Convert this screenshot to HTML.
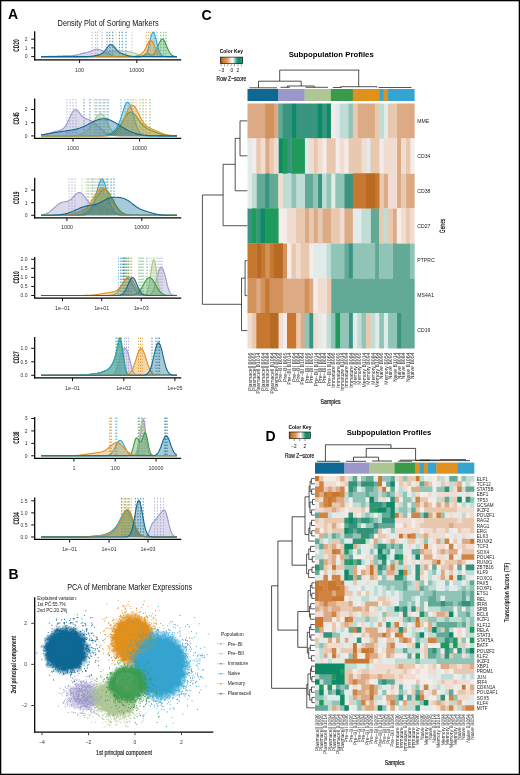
<!DOCTYPE html>
<html><head><meta charset="utf-8"><title>Figure</title>
<style>html,body{margin:0;padding:0;background:#fff;}svg{display:block;will-change:transform;}</style></head>
<body><svg width="520" height="775" viewBox="0 0 520 775" font-family="Liberation Sans, sans-serif">
<rect x="0" y="0" width="520" height="775" fill="#fff"/>
<text x="8.1" y="19.3" font-size="14" text-anchor="start" fill="#000" font-weight="bold" >A</text>
<text x="57.6" y="26.1" font-size="8.6" text-anchor="start" fill="#111" textLength="101" lengthAdjust="spacingAndGlyphs" >Density Plot of Sorting Markers</text>
<line x1="95.4" y1="31.8" x2="95.4" y2="56.6" stroke="#9b97c9" stroke-width="0.8" stroke-dasharray="1.4 1.6" opacity="0.95"/>
<line x1="97.3" y1="31.8" x2="97.3" y2="56.6" stroke="#9b97c9" stroke-width="0.8" stroke-dasharray="1.4 1.6" opacity="0.95"/>
<line x1="102" y1="31.8" x2="102" y2="56.6" stroke="#9b97c9" stroke-width="0.8" stroke-dasharray="1.4 1.6" opacity="0.95"/>
<line x1="92" y1="31.8" x2="92" y2="56.6" stroke="#9b97c9" stroke-width="0.8" stroke-dasharray="1.4 1.6" opacity="0.95"/>
<line x1="107" y1="31.8" x2="107" y2="56.6" stroke="#0f6894" stroke-width="0.8" stroke-dasharray="1.4 1.6" opacity="0.95"/>
<line x1="109.8" y1="31.8" x2="109.8" y2="56.6" stroke="#0f6894" stroke-width="0.8" stroke-dasharray="1.4 1.6" opacity="0.95"/>
<line x1="112.7" y1="31.8" x2="112.7" y2="56.6" stroke="#0f6894" stroke-width="0.8" stroke-dasharray="1.4 1.6" opacity="0.95"/>
<line x1="119.4" y1="31.8" x2="119.4" y2="56.6" stroke="#0f6894" stroke-width="0.8" stroke-dasharray="1.4 1.6" opacity="0.95"/>
<line x1="122.3" y1="31.8" x2="122.3" y2="56.6" stroke="#0f6894" stroke-width="0.8" stroke-dasharray="1.4 1.6" opacity="0.95"/>
<line x1="126" y1="31.8" x2="126" y2="56.6" stroke="#0f6894" stroke-width="0.8" stroke-dasharray="1.4 1.6" opacity="0.95"/>
<line x1="113" y1="31.8" x2="113" y2="56.6" stroke="#aec594" stroke-width="0.8" stroke-dasharray="1.4 1.6" opacity="0.95"/>
<line x1="116" y1="31.8" x2="116" y2="56.6" stroke="#aec594" stroke-width="0.8" stroke-dasharray="1.4 1.6" opacity="0.95"/>
<line x1="132" y1="31.8" x2="132" y2="56.6" stroke="#aec594" stroke-width="0.8" stroke-dasharray="1.4 1.6" opacity="0.95"/>
<line x1="146.3" y1="31.8" x2="146.3" y2="56.6" stroke="#e0901c" stroke-width="0.8" stroke-dasharray="1.4 1.6" opacity="0.95"/>
<line x1="148.3" y1="31.8" x2="148.3" y2="56.6" stroke="#e0901c" stroke-width="0.8" stroke-dasharray="1.4 1.6" opacity="0.95"/>
<line x1="150.2" y1="31.8" x2="150.2" y2="56.6" stroke="#e0901c" stroke-width="0.8" stroke-dasharray="1.4 1.6" opacity="0.95"/>
<line x1="154" y1="31.8" x2="154" y2="56.6" stroke="#35a4d0" stroke-width="0.8" stroke-dasharray="1.4 1.6" opacity="0.95"/>
<line x1="157" y1="31.8" x2="157" y2="56.6" stroke="#35a4d0" stroke-width="0.8" stroke-dasharray="1.4 1.6" opacity="0.95"/>
<line x1="160.8" y1="31.8" x2="160.8" y2="56.6" stroke="#3a9a4b" stroke-width="0.8" stroke-dasharray="1.4 1.6" opacity="0.95"/>
<line x1="163.7" y1="31.8" x2="163.7" y2="56.6" stroke="#3a9a4b" stroke-width="0.8" stroke-dasharray="1.4 1.6" opacity="0.95"/>
<line x1="166" y1="31.8" x2="166" y2="56.6" stroke="#3a9a4b" stroke-width="0.8" stroke-dasharray="1.4 1.6" opacity="0.95"/>
<path d="M41.0 56.6 42.0 56.5 43.0 56.5 44.0 56.5 45.0 56.5 46.0 56.5 47.0 56.5 48.0 56.5 49.0 56.4 50.0 56.4 51.0 56.4 52.0 56.3 53.0 56.3 54.0 56.3 55.0 56.2 56.0 56.2 57.0 56.2 58.0 56.1 59.0 56.1 60.0 56.0 61.0 56.0 62.0 56.0 63.0 55.9 64.0 55.9 65.0 55.9 66.0 55.8 67.0 55.8 68.0 55.8 69.0 55.7 70.0 55.7 71.0 55.7 72.0 55.6 73.0 55.5 74.0 55.4 75.0 55.3 76.0 55.1 77.0 54.9 78.0 54.7 79.0 54.5 80.0 54.2 81.0 53.9 82.0 53.6 83.0 53.4 84.0 53.1 85.0 52.9 86.0 52.7 87.0 52.5 88.0 52.2 89.0 51.9 90.0 51.6 91.0 51.1 92.0 50.7 93.0 50.2 94.0 49.8 95.0 49.5 96.0 49.3 97.0 49.2 98.0 49.4 99.0 49.6 100.0 50.0 101.0 50.3 102.0 50.7 103.0 51.1 104.0 51.5 105.0 51.9 106.0 52.3 107.0 52.8 108.0 53.4 109.0 54.0 110.0 54.6 111.0 55.1 112.0 55.6 113.0 55.9 114.0 56.2 115.0 56.4 116.0 56.5 117.0 56.5 118.0 56.6 177.0 56.6" fill="#9b97c9" fill-opacity="0.36" stroke="#9b97c9" stroke-width="1.1"/>
<path d="M41.0 56.6 82.0 56.6 83.0 56.5 84.0 56.5 85.0 56.5 86.0 56.5 87.0 56.4 88.0 56.4 89.0 56.3 90.0 56.2 91.0 56.2 92.0 56.0 93.0 55.9 94.0 55.8 95.0 55.6 96.0 55.4 97.0 55.2 98.0 55.0 99.0 54.7 100.0 54.4 101.0 54.2 102.0 53.9 103.0 53.6 104.0 53.2 105.0 52.9 106.0 52.6 107.0 52.4 108.0 52.1 109.0 51.9 110.0 51.7 111.0 51.5 112.0 51.3 113.0 51.2 114.0 51.2 115.0 51.1 116.0 51.1 117.0 51.0 118.0 51.1 119.0 51.1 120.0 51.1 121.0 51.1 122.0 51.1 123.0 51.2 124.0 51.2 125.0 51.3 126.0 51.4 127.0 51.5 128.0 51.6 129.0 51.7 130.0 51.9 131.0 52.1 132.0 52.4 133.0 52.7 134.0 53.0 135.0 53.3 136.0 53.6 137.0 53.9 138.0 54.3 139.0 54.6 140.0 54.9 141.0 55.1 142.0 55.4 143.0 55.6 144.0 55.8 145.0 56.0 146.0 56.1 147.0 56.2 148.0 56.3 149.0 56.4 150.0 56.4 151.0 56.5 152.0 56.5 153.0 56.5 154.0 56.6 177.0 56.6" fill="#aec594" fill-opacity="0.36" stroke="#aec594" stroke-width="1.1"/>
<path d="M41.0 56.6 139.0 56.6 140.0 56.5 141.0 56.4 142.0 56.2 143.0 55.8 144.0 55.1 145.0 54.4 146.0 53.8 147.0 53.6 148.0 53.8 149.0 54.3 150.0 54.8 151.0 55.2 152.0 55.2 153.0 54.7 154.0 53.8 155.0 52.4 156.0 50.6 157.0 48.4 158.0 46.0 159.0 43.6 160.0 41.4 161.0 39.9 162.0 39.1 163.0 39.3 164.0 40.4 165.0 42.2 166.0 44.5 167.0 47.0 168.0 49.3 169.0 51.4 170.0 53.1 171.0 54.3 172.0 55.2 173.0 55.8 174.0 56.2 175.0 56.4 176.0 56.5 177.0 56.5" fill="#3a9a4b" fill-opacity="0.36" stroke="#3a9a4b" stroke-width="1.1"/>
<path d="M41.0 56.6 141.0 56.6 142.0 56.5 143.0 56.4 144.0 56.1 145.0 55.5 146.0 54.4 147.0 52.5 148.0 49.5 149.0 45.6 150.0 41.1 151.0 36.7 152.0 33.5 153.0 32.1 154.0 32.9 155.0 35.6 156.0 39.5 157.0 43.7 158.0 47.5 159.0 50.6 160.0 52.8 161.0 54.3 162.0 55.3 163.0 55.9 164.0 56.3 165.0 56.4 166.0 56.5 167.0 56.6 177.0 56.6" fill="#35a4d0" fill-opacity="0.36" stroke="#35a4d0" stroke-width="1.1"/>
<path d="M41.0 56.6 131.0 56.6 132.0 56.5 133.0 56.5 134.0 56.4 135.0 56.3 136.0 56.1 137.0 55.8 138.0 55.5 139.0 55.2 140.0 54.7 141.0 54.1 142.0 53.3 143.0 52.3 144.0 51.0 145.0 49.3 146.0 47.4 147.0 45.3 148.0 43.3 149.0 41.7 150.0 40.7 151.0 40.5 152.0 41.2 153.0 42.6 154.0 44.6 155.0 46.9 156.0 49.2 157.0 51.2 158.0 52.9 159.0 54.2 160.0 55.1 161.0 55.8 162.0 56.1 163.0 56.4 164.0 56.5 165.0 56.5 166.0 56.6 177.0 56.6" fill="#e0901c" fill-opacity="0.36" stroke="#e0901c" stroke-width="1.1"/>
<path d="M41.0 56.6 87.0 56.6 88.0 56.5 89.0 56.5 90.0 56.5 91.0 56.4 92.0 56.3 93.0 56.2 94.0 56.0 95.0 55.8 96.0 55.6 97.0 55.4 98.0 55.1 99.0 54.8 100.0 54.5 101.0 54.0 102.0 53.4 103.0 52.7 104.0 51.7 105.0 50.5 106.0 49.2 107.0 47.8 108.0 46.5 109.0 45.4 110.0 44.8 111.0 44.6 112.0 44.9 113.0 45.6 114.0 46.7 115.0 47.9 116.0 49.2 117.0 50.3 118.0 51.3 119.0 52.1 120.0 52.7 121.0 53.2 122.0 53.6 123.0 54.0 124.0 54.4 125.0 54.7 126.0 55.0 127.0 55.4 128.0 55.7 129.0 55.9 130.0 56.1 131.0 56.3 132.0 56.4 133.0 56.5 134.0 56.5 135.0 56.6 177.0 56.6" fill="#0f6894" fill-opacity="0.36" stroke="#0f6894" stroke-width="1.1"/>
<line x1="34.7" y1="31.2" x2="34.7" y2="60.5" stroke="#000" stroke-width="1.25" />
<line x1="34.1" y1="59.9" x2="181.2" y2="59.9" stroke="#000" stroke-width="1.25" />
<line x1="31.2" y1="56.6" x2="34.7" y2="56.6" stroke="#111" stroke-width="1" />
<text x="27.5" y="58.4" font-size="5" text-anchor="end" fill="#333" >0</text>
<line x1="31.2" y1="47.9" x2="34.7" y2="47.9" stroke="#111" stroke-width="1" />
<text x="27.5" y="49.7" font-size="5" text-anchor="end" fill="#333" >1</text>
<line x1="31.2" y1="39.2" x2="34.7" y2="39.2" stroke="#111" stroke-width="1" />
<text x="27.5" y="41" font-size="5" text-anchor="end" fill="#333" >2</text>
<line x1="79.6" y1="59.9" x2="79.6" y2="63.1" stroke="#111" stroke-width="1" />
<text x="79.6" y="71.5" font-size="5.4" text-anchor="middle" fill="#333" >100</text>
<line x1="136.8" y1="59.9" x2="136.8" y2="63.1" stroke="#111" stroke-width="1" />
<text x="136.8" y="71.5" font-size="5.4" text-anchor="middle" fill="#333" >10000</text>
<text transform="translate(19.1 45.55) rotate(-90)" text-rendering="geometricPrecision" font-size="8.2" text-anchor="middle" fill="#111" font-weight="bold" textLength="12.2" lengthAdjust="spacingAndGlyphs">CD20</text>
<line x1="67" y1="99.1" x2="67" y2="135.9" stroke="#9b97c9" stroke-width="0.8" stroke-dasharray="1.4 1.6" opacity="0.95"/>
<line x1="70" y1="99.1" x2="70" y2="135.9" stroke="#9b97c9" stroke-width="0.8" stroke-dasharray="1.4 1.6" opacity="0.95"/>
<line x1="73" y1="99.1" x2="73" y2="135.9" stroke="#9b97c9" stroke-width="0.8" stroke-dasharray="1.4 1.6" opacity="0.95"/>
<line x1="76" y1="99.1" x2="76" y2="135.9" stroke="#9b97c9" stroke-width="0.8" stroke-dasharray="1.4 1.6" opacity="0.95"/>
<line x1="84" y1="99.1" x2="84" y2="135.9" stroke="#0f6894" stroke-width="0.8" stroke-dasharray="1.4 1.6" opacity="0.95"/>
<line x1="90" y1="99.1" x2="90" y2="135.9" stroke="#0f6894" stroke-width="0.8" stroke-dasharray="1.4 1.6" opacity="0.95"/>
<line x1="96" y1="99.1" x2="96" y2="135.9" stroke="#0f6894" stroke-width="0.8" stroke-dasharray="1.4 1.6" opacity="0.95"/>
<line x1="100" y1="99.1" x2="100" y2="135.9" stroke="#0f6894" stroke-width="0.8" stroke-dasharray="1.4 1.6" opacity="0.95"/>
<line x1="104" y1="99.1" x2="104" y2="135.9" stroke="#0f6894" stroke-width="0.8" stroke-dasharray="1.4 1.6" opacity="0.95"/>
<line x1="108" y1="99.1" x2="108" y2="135.9" stroke="#0f6894" stroke-width="0.8" stroke-dasharray="1.4 1.6" opacity="0.95"/>
<line x1="94" y1="99.1" x2="94" y2="135.9" stroke="#aec594" stroke-width="0.8" stroke-dasharray="1.4 1.6" opacity="0.95"/>
<line x1="98" y1="99.1" x2="98" y2="135.9" stroke="#aec594" stroke-width="0.8" stroke-dasharray="1.4 1.6" opacity="0.95"/>
<line x1="102" y1="99.1" x2="102" y2="135.9" stroke="#aec594" stroke-width="0.8" stroke-dasharray="1.4 1.6" opacity="0.95"/>
<line x1="106" y1="99.1" x2="106" y2="135.9" stroke="#aec594" stroke-width="0.8" stroke-dasharray="1.4 1.6" opacity="0.95"/>
<line x1="121" y1="99.1" x2="121" y2="135.9" stroke="#35a4d0" stroke-width="0.8" stroke-dasharray="1.4 1.6" opacity="0.95"/>
<line x1="125" y1="99.1" x2="125" y2="135.9" stroke="#35a4d0" stroke-width="0.8" stroke-dasharray="1.4 1.6" opacity="0.95"/>
<line x1="128" y1="99.1" x2="128" y2="135.9" stroke="#35a4d0" stroke-width="0.8" stroke-dasharray="1.4 1.6" opacity="0.95"/>
<line x1="131" y1="99.1" x2="131" y2="135.9" stroke="#e0901c" stroke-width="0.8" stroke-dasharray="1.4 1.6" opacity="0.95"/>
<line x1="136" y1="99.1" x2="136" y2="135.9" stroke="#e0901c" stroke-width="0.8" stroke-dasharray="1.4 1.6" opacity="0.95"/>
<line x1="140" y1="99.1" x2="140" y2="135.9" stroke="#e0901c" stroke-width="0.8" stroke-dasharray="1.4 1.6" opacity="0.95"/>
<line x1="146" y1="99.1" x2="146" y2="135.9" stroke="#e0901c" stroke-width="0.8" stroke-dasharray="1.4 1.6" opacity="0.95"/>
<line x1="133" y1="99.1" x2="133" y2="135.9" stroke="#3a9a4b" stroke-width="0.8" stroke-dasharray="1.4 1.6" opacity="0.95"/>
<line x1="143" y1="99.1" x2="143" y2="135.9" stroke="#3a9a4b" stroke-width="0.8" stroke-dasharray="1.4 1.6" opacity="0.95"/>
<line x1="150" y1="99.1" x2="150" y2="135.9" stroke="#3a9a4b" stroke-width="0.8" stroke-dasharray="1.4 1.6" opacity="0.95"/>
<path d="M41.0 135.4 42.0 135.2 43.0 135.1 44.0 134.9 45.0 134.7 46.0 134.4 47.0 134.1 48.0 133.8 49.0 133.5 50.0 133.2 51.0 132.9 52.0 132.5 53.0 132.2 54.0 131.9 55.0 131.6 56.0 131.3 57.0 131.0 58.0 130.8 59.0 130.5 60.0 130.2 61.0 129.8 62.0 129.4 63.0 128.7 64.0 127.8 65.0 126.6 66.0 125.2 67.0 123.4 68.0 121.4 69.0 119.2 70.0 117.0 71.0 114.8 72.0 112.9 73.0 111.3 74.0 110.3 75.0 109.7 76.0 109.8 77.0 110.3 78.0 111.2 79.0 112.4 80.0 113.6 81.0 114.9 82.0 116.0 83.0 117.0 84.0 117.7 85.0 118.3 86.0 118.7 87.0 119.1 88.0 119.4 89.0 119.8 90.0 120.2 91.0 120.7 92.0 121.3 93.0 122.0 94.0 122.7 95.0 123.5 96.0 124.4 97.0 125.3 98.0 126.2 99.0 127.1 100.0 128.0 101.0 128.9 102.0 129.8 103.0 130.7 104.0 131.5 105.0 132.2 106.0 132.9 107.0 133.5 108.0 134.0 109.0 134.4 110.0 134.8 111.0 135.1 112.0 135.3 113.0 135.5 114.0 135.6 115.0 135.7 116.0 135.8 117.0 135.8 118.0 135.9 177.0 135.9" fill="#9b97c9" fill-opacity="0.36" stroke="#9b97c9" stroke-width="1.1"/>
<path d="M41.0 135.9 70.0 135.9 71.0 135.8 72.0 135.8 73.0 135.8 74.0 135.7 75.0 135.6 76.0 135.5 77.0 135.3 78.0 135.1 79.0 134.8 80.0 134.5 81.0 134.2 82.0 133.7 83.0 133.3 84.0 132.7 85.0 132.1 86.0 131.4 87.0 130.6 88.0 129.7 89.0 128.7 90.0 127.5 91.0 126.2 92.0 124.7 93.0 123.1 94.0 121.4 95.0 119.6 96.0 117.9 97.0 116.4 98.0 115.1 99.0 114.2 100.0 113.7 101.0 113.6 102.0 114.1 103.0 115.0 104.0 116.3 105.0 118.0 106.0 119.9 107.0 121.9 108.0 124.0 109.0 126.0 110.0 127.8 111.0 129.5 112.0 130.9 113.0 132.1 114.0 133.1 115.0 133.9 116.0 134.5 117.0 134.9 118.0 135.2 119.0 135.5 120.0 135.6 121.0 135.7 122.0 135.8 123.0 135.8 124.0 135.9 177.0 135.9" fill="#aec594" fill-opacity="0.36" stroke="#aec594" stroke-width="1.1"/>
<path d="M41.0 135.9 102.0 135.9 103.0 135.8 104.0 135.8 105.0 135.7 106.0 135.7 107.0 135.6 108.0 135.4 109.0 135.2 110.0 135.0 111.0 134.6 112.0 134.2 113.0 133.6 114.0 132.9 115.0 132.1 116.0 131.1 117.0 130.0 118.0 128.7 119.0 127.2 120.0 125.7 121.0 124.0 122.0 122.2 123.0 120.5 124.0 118.7 125.0 117.1 126.0 115.6 127.0 114.3 128.0 113.3 129.0 112.6 130.0 112.2 131.0 112.2 132.0 112.4 133.0 113.0 134.0 113.9 135.0 114.9 136.0 116.2 137.0 117.5 138.0 118.9 139.0 120.3 140.0 121.7 141.0 123.0 142.0 124.1 143.0 125.2 144.0 126.2 145.0 127.0 146.0 127.8 147.0 128.4 148.0 129.0 149.0 129.5 150.0 129.9 151.0 130.4 152.0 130.8 153.0 131.2 154.0 131.6 155.0 132.0 156.0 132.4 157.0 132.8 158.0 133.1 159.0 133.5 160.0 133.8 161.0 134.1 162.0 134.4 163.0 134.6 164.0 134.9 165.0 135.1 166.0 135.2 167.0 135.4 168.0 135.5 169.0 135.6 170.0 135.6 171.0 135.7 172.0 135.8 173.0 135.8 174.0 135.8 175.0 135.8 176.0 135.9 177.0 135.9" fill="#3a9a4b" fill-opacity="0.36" stroke="#3a9a4b" stroke-width="1.1"/>
<path d="M41.0 135.9 99.0 135.9 100.0 135.8 101.0 135.8 102.0 135.7 103.0 135.6 104.0 135.5 105.0 135.4 106.0 135.1 107.0 134.9 108.0 134.6 109.0 134.2 110.0 133.7 111.0 133.2 112.0 132.6 113.0 131.9 114.0 131.0 115.0 130.0 116.0 128.8 117.0 127.3 118.0 125.4 119.0 123.2 120.0 120.6 121.0 117.7 122.0 114.5 123.0 111.3 124.0 108.2 125.0 105.5 126.0 103.5 127.0 102.3 128.0 102.2 129.0 103.0 130.0 104.8 131.0 107.5 132.0 110.7 133.0 114.3 134.0 118.0 135.0 121.5 136.0 124.7 137.0 127.5 138.0 129.8 139.0 131.6 140.0 133.0 141.0 134.0 142.0 134.7 143.0 135.1 144.0 135.4 145.0 135.6 146.0 135.8 147.0 135.8 148.0 135.9 177.0 135.9" fill="#35a4d0" fill-opacity="0.36" stroke="#35a4d0" stroke-width="1.1"/>
<path d="M41.0 135.9 106.0 135.9 107.0 135.8 108.0 135.8 109.0 135.7 110.0 135.6 111.0 135.5 112.0 135.3 113.0 135.0 114.0 134.6 115.0 134.1 116.0 133.4 117.0 132.5 118.0 131.4 119.0 130.1 120.0 128.4 121.0 126.5 122.0 124.3 123.0 122.0 124.0 119.4 125.0 116.8 126.0 114.2 127.0 111.8 128.0 109.5 129.0 107.7 130.0 106.3 131.0 105.4 132.0 105.0 133.0 105.2 134.0 105.9 135.0 107.1 136.0 108.7 137.0 110.5 138.0 112.6 139.0 114.6 140.0 116.7 141.0 118.6 142.0 120.4 143.0 122.0 144.0 123.4 145.0 124.6 146.0 125.5 147.0 126.4 148.0 127.0 149.0 127.6 150.0 128.1 151.0 128.6 152.0 129.0 153.0 129.5 154.0 129.9 155.0 130.3 156.0 130.8 157.0 131.2 158.0 131.6 159.0 132.1 160.0 132.5 161.0 132.9 162.0 133.3 163.0 133.6 164.0 134.0 165.0 134.2 166.0 134.5 167.0 134.7 168.0 135.0 169.0 135.1 170.0 135.3 171.0 135.4 172.0 135.5 173.0 135.6 174.0 135.7 175.0 135.7 176.0 135.8 177.0 135.8" fill="#e0901c" fill-opacity="0.36" stroke="#e0901c" stroke-width="1.1"/>
<path d="M41.0 134.8 42.0 134.7 43.0 134.5 44.0 134.4 45.0 134.2 46.0 134.1 47.0 133.9 48.0 133.8 49.0 133.6 50.0 133.4 51.0 133.2 52.0 133.1 53.0 132.9 54.0 132.7 55.0 132.5 56.0 132.4 57.0 132.2 58.0 132.0 59.0 131.9 60.0 131.7 61.0 131.6 62.0 131.4 63.0 131.3 64.0 131.2 65.0 131.0 66.0 130.9 67.0 130.8 68.0 130.6 69.0 130.5 70.0 130.3 71.0 130.2 72.0 130.0 73.0 129.8 74.0 129.6 75.0 129.4 76.0 129.2 77.0 128.9 78.0 128.6 79.0 128.3 80.0 128.0 81.0 127.6 82.0 127.2 83.0 126.8 84.0 126.3 85.0 125.9 86.0 125.4 87.0 124.9 88.0 124.4 89.0 123.8 90.0 123.3 91.0 122.8 92.0 122.3 93.0 121.8 94.0 121.3 95.0 120.8 96.0 120.4 97.0 120.0 98.0 119.7 99.0 119.4 100.0 119.2 101.0 119.0 102.0 118.8 103.0 118.8 104.0 118.8 105.0 118.8 106.0 118.9 107.0 119.1 108.0 119.4 109.0 119.7 110.0 120.0 111.0 120.4 112.0 120.9 113.0 121.4 114.0 121.9 115.0 122.5 116.0 123.1 117.0 123.7 118.0 124.3 119.0 124.9 120.0 125.6 121.0 126.2 122.0 126.9 123.0 127.5 124.0 128.1 125.0 128.7 126.0 129.3 127.0 129.8 128.0 130.4 129.0 130.9 130.0 131.4 131.0 131.8 132.0 132.2 133.0 132.6 134.0 133.0 135.0 133.3 136.0 133.6 137.0 133.9 138.0 134.1 139.0 134.3 140.0 134.5 141.0 134.7 142.0 134.9 143.0 135.0 144.0 135.2 145.0 135.3 146.0 135.4 147.0 135.4 148.0 135.5 149.0 135.6 150.0 135.6 151.0 135.7 152.0 135.7 153.0 135.7 154.0 135.8 155.0 135.8 156.0 135.8 157.0 135.8 158.0 135.8 159.0 135.9 177.0 135.9" fill="#0f6894" fill-opacity="0.36" stroke="#0f6894" stroke-width="1.1"/>
<line x1="34.7" y1="98.5" x2="34.7" y2="138.9" stroke="#000" stroke-width="1.25" />
<line x1="34.1" y1="138.3" x2="181.2" y2="138.3" stroke="#000" stroke-width="1.25" />
<line x1="31.2" y1="135.9" x2="34.7" y2="135.9" stroke="#111" stroke-width="1" />
<text x="27.5" y="137.7" font-size="5" text-anchor="end" fill="#333" >0</text>
<line x1="31.2" y1="122.7" x2="34.7" y2="122.7" stroke="#111" stroke-width="1" />
<text x="27.5" y="124.5" font-size="5" text-anchor="end" fill="#333" >1</text>
<line x1="31.2" y1="109.5" x2="34.7" y2="109.5" stroke="#111" stroke-width="1" />
<text x="27.5" y="111.3" font-size="5" text-anchor="end" fill="#333" >2</text>
<line x1="73" y1="138.3" x2="73" y2="141.5" stroke="#111" stroke-width="1" />
<text x="73" y="149.9" font-size="5.4" text-anchor="middle" fill="#333" >1000</text>
<line x1="139.6" y1="138.3" x2="139.6" y2="141.5" stroke="#111" stroke-width="1" />
<text x="139.6" y="149.9" font-size="5.4" text-anchor="middle" fill="#333" >10000</text>
<text transform="translate(19.1 118.4) rotate(-90)" text-rendering="geometricPrecision" font-size="8.2" text-anchor="middle" fill="#111" font-weight="bold" textLength="12.2" lengthAdjust="spacingAndGlyphs">CD45</text>
<line x1="69" y1="178.4" x2="69" y2="215.3" stroke="#9b97c9" stroke-width="0.8" stroke-dasharray="1.4 1.6" opacity="0.95"/>
<line x1="72" y1="178.4" x2="72" y2="215.3" stroke="#9b97c9" stroke-width="0.8" stroke-dasharray="1.4 1.6" opacity="0.95"/>
<line x1="75" y1="178.4" x2="75" y2="215.3" stroke="#9b97c9" stroke-width="0.8" stroke-dasharray="1.4 1.6" opacity="0.95"/>
<line x1="103" y1="178.4" x2="103" y2="215.3" stroke="#0f6894" stroke-width="0.8" stroke-dasharray="1.4 1.6" opacity="0.95"/>
<line x1="107" y1="178.4" x2="107" y2="215.3" stroke="#0f6894" stroke-width="0.8" stroke-dasharray="1.4 1.6" opacity="0.95"/>
<line x1="111" y1="178.4" x2="111" y2="215.3" stroke="#0f6894" stroke-width="0.8" stroke-dasharray="1.4 1.6" opacity="0.95"/>
<line x1="114" y1="178.4" x2="114" y2="215.3" stroke="#0f6894" stroke-width="0.8" stroke-dasharray="1.4 1.6" opacity="0.95"/>
<line x1="82" y1="178.4" x2="82" y2="215.3" stroke="#aec594" stroke-width="0.8" stroke-dasharray="1.4 1.6" opacity="0.95"/>
<line x1="86" y1="178.4" x2="86" y2="215.3" stroke="#aec594" stroke-width="0.8" stroke-dasharray="1.4 1.6" opacity="0.95"/>
<line x1="90" y1="178.4" x2="90" y2="215.3" stroke="#aec594" stroke-width="0.8" stroke-dasharray="1.4 1.6" opacity="0.95"/>
<line x1="95" y1="178.4" x2="95" y2="215.3" stroke="#35a4d0" stroke-width="0.8" stroke-dasharray="1.4 1.6" opacity="0.95"/>
<line x1="99" y1="178.4" x2="99" y2="215.3" stroke="#35a4d0" stroke-width="0.8" stroke-dasharray="1.4 1.6" opacity="0.95"/>
<line x1="102" y1="178.4" x2="102" y2="215.3" stroke="#35a4d0" stroke-width="0.8" stroke-dasharray="1.4 1.6" opacity="0.95"/>
<line x1="93" y1="178.4" x2="93" y2="215.3" stroke="#e0901c" stroke-width="0.8" stroke-dasharray="1.4 1.6" opacity="0.95"/>
<line x1="97" y1="178.4" x2="97" y2="215.3" stroke="#e0901c" stroke-width="0.8" stroke-dasharray="1.4 1.6" opacity="0.95"/>
<line x1="101" y1="178.4" x2="101" y2="215.3" stroke="#e0901c" stroke-width="0.8" stroke-dasharray="1.4 1.6" opacity="0.95"/>
<line x1="105" y1="178.4" x2="105" y2="215.3" stroke="#e0901c" stroke-width="0.8" stroke-dasharray="1.4 1.6" opacity="0.95"/>
<line x1="88" y1="178.4" x2="88" y2="215.3" stroke="#3a9a4b" stroke-width="0.8" stroke-dasharray="1.4 1.6" opacity="0.95"/>
<line x1="92" y1="178.4" x2="92" y2="215.3" stroke="#3a9a4b" stroke-width="0.8" stroke-dasharray="1.4 1.6" opacity="0.95"/>
<line x1="100" y1="178.4" x2="100" y2="215.3" stroke="#3a9a4b" stroke-width="0.8" stroke-dasharray="1.4 1.6" opacity="0.95"/>
<line x1="108" y1="178.4" x2="108" y2="215.3" stroke="#3a9a4b" stroke-width="0.8" stroke-dasharray="1.4 1.6" opacity="0.95"/>
<path d="M41.0 214.9 42.0 214.8 43.0 214.6 44.0 214.3 45.0 214.0 46.0 213.7 47.0 213.2 48.0 212.7 49.0 212.1 50.0 211.4 51.0 210.6 52.0 209.8 53.0 208.9 54.0 208.0 55.0 207.1 56.0 206.2 57.0 205.3 58.0 204.5 59.0 203.8 60.0 203.3 61.0 202.8 62.0 202.4 63.0 202.2 64.0 202.0 65.0 201.8 66.0 201.6 67.0 201.4 68.0 201.0 69.0 200.6 70.0 199.9 71.0 199.2 72.0 198.3 73.0 197.3 74.0 196.2 75.0 195.1 76.0 194.2 77.0 193.4 78.0 192.8 79.0 192.6 80.0 192.6 81.0 193.0 82.0 193.7 83.0 194.6 84.0 195.8 85.0 197.1 86.0 198.5 87.0 199.8 88.0 201.1 89.0 202.3 90.0 203.3 91.0 204.1 92.0 204.7 93.0 205.2 94.0 205.5 95.0 205.7 96.0 205.7 97.0 205.8 98.0 205.8 99.0 205.9 100.0 206.0 101.0 206.2 102.0 206.4 103.0 206.7 104.0 207.1 105.0 207.6 106.0 208.1 107.0 208.6 108.0 209.2 109.0 209.8 110.0 210.4 111.0 211.0 112.0 211.6 113.0 212.1 114.0 212.6 115.0 213.1 116.0 213.4 117.0 213.8 118.0 214.1 119.0 214.3 120.0 214.5 121.0 214.7 122.0 214.8 123.0 215.0 124.0 215.0 125.0 215.1 126.0 215.2 127.0 215.2 128.0 215.2 129.0 215.2 130.0 215.3 177.0 215.3" fill="#9b97c9" fill-opacity="0.36" stroke="#9b97c9" stroke-width="1.1"/>
<path d="M41.0 215.3 71.0 215.3 72.0 215.2 73.0 215.2 74.0 215.2 75.0 215.1 76.0 215.0 77.0 214.9 78.0 214.7 79.0 214.5 80.0 214.2 81.0 213.8 82.0 213.3 83.0 212.7 84.0 211.9 85.0 211.0 86.0 209.9 87.0 208.6 88.0 207.2 89.0 205.6 90.0 203.9 91.0 202.0 92.0 200.1 93.0 198.3 94.0 196.4 95.0 194.7 96.0 193.2 97.0 192.0 98.0 191.1 99.0 190.5 100.0 190.3 101.0 190.5 102.0 191.1 103.0 192.0 104.0 193.2 105.0 194.7 106.0 196.4 107.0 198.3 108.0 200.1 109.0 202.0 110.0 203.9 111.0 205.6 112.0 207.2 113.0 208.6 114.0 209.9 115.0 211.0 116.0 211.9 117.0 212.7 118.0 213.3 119.0 213.8 120.0 214.2 121.0 214.5 122.0 214.7 123.0 214.9 124.0 215.0 125.0 215.1 126.0 215.2 127.0 215.2 128.0 215.2 129.0 215.3 177.0 215.3" fill="#aec594" fill-opacity="0.36" stroke="#aec594" stroke-width="1.1"/>
<path d="M41.0 215.3 74.0 215.3 75.0 215.2 76.0 215.2 77.0 215.1 78.0 215.1 79.0 215.0 80.0 214.8 81.0 214.7 82.0 214.4 83.0 214.1 84.0 213.8 85.0 213.3 86.0 212.7 87.0 211.9 88.0 211.1 89.0 210.0 90.0 208.9 91.0 207.5 92.0 206.0 93.0 204.4 94.0 202.6 95.0 200.8 96.0 199.0 97.0 197.1 98.0 195.4 99.0 193.7 100.0 192.3 101.0 191.1 102.0 190.2 103.0 189.6 104.0 189.3 105.0 189.4 106.0 189.9 107.0 190.7 108.0 191.8 109.0 193.1 110.0 194.7 111.0 196.4 112.0 198.2 113.0 200.1 114.0 201.9 115.0 203.7 116.0 205.4 117.0 206.9 118.0 208.3 119.0 209.6 120.0 210.7 121.0 211.6 122.0 212.4 123.0 213.0 124.0 213.6 125.0 214.0 126.0 214.3 127.0 214.6 128.0 214.8 129.0 214.9 130.0 215.0 131.0 215.1 132.0 215.2 133.0 215.2 134.0 215.2 135.0 215.3 177.0 215.3" fill="#3a9a4b" fill-opacity="0.36" stroke="#3a9a4b" stroke-width="1.1"/>
<path d="M41.0 215.3 81.0 215.3 82.0 215.2 83.0 215.2 84.0 215.1 85.0 215.0 86.0 214.7 87.0 214.4 88.0 213.8 89.0 213.0 90.0 211.8 91.0 210.2 92.0 208.2 93.0 205.6 94.0 202.5 95.0 198.9 96.0 195.1 97.0 191.1 98.0 187.3 99.0 184.0 100.0 181.4 101.0 179.8 102.0 179.3 103.0 180.0 104.0 181.8 105.0 184.6 106.0 188.0 107.0 191.9 108.0 195.8 109.0 199.7 110.0 203.1 111.0 206.1 112.0 208.6 113.0 210.6 114.0 212.1 115.0 213.2 116.0 214.0 117.0 214.5 118.0 214.8 119.0 215.0 120.0 215.1 121.0 215.2 122.0 215.3 177.0 215.3" fill="#35a4d0" fill-opacity="0.36" stroke="#35a4d0" stroke-width="1.1"/>
<path d="M41.0 215.3 59.0 215.3 60.0 215.2 61.0 215.2 62.0 215.2 63.0 215.1 64.0 215.1 65.0 215.0 66.0 215.0 67.0 214.9 68.0 214.8 69.0 214.6 70.0 214.5 71.0 214.3 72.0 214.1 73.0 213.9 74.0 213.6 75.0 213.3 76.0 213.0 77.0 212.7 78.0 212.4 79.0 212.0 80.0 211.6 81.0 211.2 82.0 210.8 83.0 210.3 84.0 209.7 85.0 209.1 86.0 208.3 87.0 207.5 88.0 206.5 89.0 205.4 90.0 204.2 91.0 202.8 92.0 201.2 93.0 199.6 94.0 197.9 95.0 196.1 96.0 194.3 97.0 192.6 98.0 191.1 99.0 189.8 100.0 188.7 101.0 188.0 102.0 187.6 103.0 187.6 104.0 188.1 105.0 188.9 106.0 190.0 107.0 191.5 108.0 193.2 109.0 195.2 110.0 197.2 111.0 199.2 112.0 201.3 113.0 203.3 114.0 205.1 115.0 206.8 116.0 208.4 117.0 209.7 118.0 210.9 119.0 211.8 120.0 212.6 121.0 213.3 122.0 213.8 123.0 214.2 124.0 214.5 125.0 214.7 126.0 214.9 127.0 215.0 128.0 215.1 129.0 215.2 130.0 215.2 131.0 215.2 132.0 215.3 177.0 215.3" fill="#e0901c" fill-opacity="0.36" stroke="#e0901c" stroke-width="1.1"/>
<path d="M41.0 215.3 49.0 215.3 50.0 215.2 51.0 215.2 52.0 215.2 53.0 215.2 54.0 215.1 55.0 215.1 56.0 215.0 57.0 215.0 58.0 214.9 59.0 214.8 60.0 214.7 61.0 214.6 62.0 214.4 63.0 214.3 64.0 214.1 65.0 213.9 66.0 213.6 67.0 213.4 68.0 213.1 69.0 212.7 70.0 212.4 71.0 212.0 72.0 211.6 73.0 211.2 74.0 210.7 75.0 210.3 76.0 209.8 77.0 209.4 78.0 208.9 79.0 208.5 80.0 208.0 81.0 207.6 82.0 207.3 83.0 206.9 84.0 206.6 85.0 206.3 86.0 206.1 87.0 205.8 88.0 205.6 89.0 205.5 90.0 205.3 91.0 205.2 92.0 205.0 93.0 204.8 94.0 204.7 95.0 204.4 96.0 204.2 97.0 203.9 98.0 203.5 99.0 203.1 100.0 202.6 101.0 202.1 102.0 201.6 103.0 201.1 104.0 200.5 105.0 200.0 106.0 199.5 107.0 199.0 108.0 198.6 109.0 198.2 110.0 197.9 111.0 197.7 112.0 197.5 113.0 197.4 114.0 197.3 115.0 197.3 116.0 197.3 117.0 197.3 118.0 197.4 119.0 197.5 120.0 197.6 121.0 197.8 122.0 198.0 123.0 198.2 124.0 198.5 125.0 198.9 126.0 199.4 127.0 199.9 128.0 200.5 129.0 201.2 130.0 201.9 131.0 202.6 132.0 203.4 133.0 204.2 134.0 205.0 135.0 205.8 136.0 206.5 137.0 207.2 138.0 207.8 139.0 208.4 140.0 208.9 141.0 209.4 142.0 209.8 143.0 210.2 144.0 210.6 145.0 210.9 146.0 211.2 147.0 211.5 148.0 211.8 149.0 212.2 150.0 212.5 151.0 212.8 152.0 213.1 153.0 213.3 154.0 213.6 155.0 213.9 156.0 214.1 157.0 214.3 158.0 214.5 159.0 214.6 160.0 214.8 161.0 214.9 162.0 215.0 163.0 215.1 164.0 215.1 165.0 215.2 166.0 215.2 167.0 215.2 168.0 215.3 177.0 215.3" fill="#0f6894" fill-opacity="0.36" stroke="#0f6894" stroke-width="1.1"/>
<line x1="34.7" y1="177.8" x2="34.7" y2="218.4" stroke="#000" stroke-width="1.25" />
<line x1="34.1" y1="217.8" x2="181.2" y2="217.8" stroke="#000" stroke-width="1.25" />
<line x1="31.2" y1="215.3" x2="34.7" y2="215.3" stroke="#111" stroke-width="1" />
<text x="27.5" y="217.1" font-size="5" text-anchor="end" fill="#333" >0</text>
<line x1="31.2" y1="202.7" x2="34.7" y2="202.7" stroke="#111" stroke-width="1" />
<text x="27.5" y="204.5" font-size="5" text-anchor="end" fill="#333" >1</text>
<line x1="31.2" y1="190.1" x2="34.7" y2="190.1" stroke="#111" stroke-width="1" />
<text x="27.5" y="191.9" font-size="5" text-anchor="end" fill="#333" >2</text>
<line x1="66.9" y1="217.8" x2="66.9" y2="221" stroke="#111" stroke-width="1" />
<text x="66.9" y="229.4" font-size="5.4" text-anchor="middle" fill="#333" >1000</text>
<line x1="141.8" y1="217.8" x2="141.8" y2="221" stroke="#111" stroke-width="1" />
<text x="141.8" y="229.4" font-size="5.4" text-anchor="middle" fill="#333" >10000</text>
<text transform="translate(19.1 197.8) rotate(-90)" text-rendering="geometricPrecision" font-size="8.2" text-anchor="middle" fill="#111" font-weight="bold" textLength="12.2" lengthAdjust="spacingAndGlyphs">CD19</text>
<line x1="118.6" y1="257.6" x2="118.6" y2="295.5" stroke="#35a4d0" stroke-width="0.8" stroke-dasharray="1.4 1.6" opacity="0.95"/>
<line x1="120.5" y1="257.6" x2="120.5" y2="295.5" stroke="#35a4d0" stroke-width="0.8" stroke-dasharray="1.4 1.6" opacity="0.95"/>
<line x1="122" y1="257.6" x2="122" y2="295.5" stroke="#0f6894" stroke-width="0.8" stroke-dasharray="1.4 1.6" opacity="0.95"/>
<line x1="123.5" y1="257.6" x2="123.5" y2="295.5" stroke="#0f6894" stroke-width="0.8" stroke-dasharray="1.4 1.6" opacity="0.95"/>
<line x1="125" y1="257.6" x2="125" y2="295.5" stroke="#0f6894" stroke-width="0.8" stroke-dasharray="1.4 1.6" opacity="0.95"/>
<line x1="127" y1="257.6" x2="127" y2="295.5" stroke="#0f6894" stroke-width="0.8" stroke-dasharray="1.4 1.6" opacity="0.95"/>
<line x1="124.2" y1="257.6" x2="124.2" y2="295.5" stroke="#3a9a4b" stroke-width="0.8" stroke-dasharray="1.4 1.6" opacity="0.95"/>
<line x1="126" y1="257.6" x2="126" y2="295.5" stroke="#3a9a4b" stroke-width="0.8" stroke-dasharray="1.4 1.6" opacity="0.95"/>
<line x1="128.5" y1="257.6" x2="128.5" y2="295.5" stroke="#3a9a4b" stroke-width="0.8" stroke-dasharray="1.4 1.6" opacity="0.95"/>
<line x1="130" y1="257.6" x2="130" y2="295.5" stroke="#e0901c" stroke-width="0.8" stroke-dasharray="1.4 1.6" opacity="0.95"/>
<line x1="131.6" y1="257.6" x2="131.6" y2="295.5" stroke="#e0901c" stroke-width="0.8" stroke-dasharray="1.4 1.6" opacity="0.95"/>
<line x1="139" y1="257.6" x2="139" y2="295.5" stroke="#3a9a4b" stroke-width="0.8" stroke-dasharray="1.4 1.6" opacity="0.95"/>
<line x1="141" y1="257.6" x2="141" y2="295.5" stroke="#3a9a4b" stroke-width="0.8" stroke-dasharray="1.4 1.6" opacity="0.95"/>
<line x1="143" y1="257.6" x2="143" y2="295.5" stroke="#3a9a4b" stroke-width="0.8" stroke-dasharray="1.4 1.6" opacity="0.95"/>
<line x1="147" y1="257.6" x2="147" y2="295.5" stroke="#3a9a4b" stroke-width="0.8" stroke-dasharray="1.4 1.6" opacity="0.95"/>
<line x1="150" y1="257.6" x2="150" y2="295.5" stroke="#aec594" stroke-width="0.8" stroke-dasharray="1.4 1.6" opacity="0.95"/>
<line x1="152" y1="257.6" x2="152" y2="295.5" stroke="#aec594" stroke-width="0.8" stroke-dasharray="1.4 1.6" opacity="0.95"/>
<line x1="154" y1="257.6" x2="154" y2="295.5" stroke="#aec594" stroke-width="0.8" stroke-dasharray="1.4 1.6" opacity="0.95"/>
<line x1="156" y1="257.6" x2="156" y2="295.5" stroke="#aec594" stroke-width="0.8" stroke-dasharray="1.4 1.6" opacity="0.95"/>
<line x1="158" y1="257.6" x2="158" y2="295.5" stroke="#9b97c9" stroke-width="0.8" stroke-dasharray="1.4 1.6" opacity="0.95"/>
<line x1="160" y1="257.6" x2="160" y2="295.5" stroke="#9b97c9" stroke-width="0.8" stroke-dasharray="1.4 1.6" opacity="0.95"/>
<line x1="162" y1="257.6" x2="162" y2="295.5" stroke="#9b97c9" stroke-width="0.8" stroke-dasharray="1.4 1.6" opacity="0.95"/>
<path d="M41.0 295.5 146.0 295.5 147.0 295.4 148.0 295.3 149.0 295.1 150.0 294.7 151.0 294.0 152.0 292.8 153.0 291.0 154.0 288.5 155.0 285.4 156.0 281.6 157.0 277.6 158.0 273.7 159.0 270.5 160.0 268.2 161.0 267.2 162.0 267.6 163.0 269.3 164.0 272.1 165.0 275.7 166.0 279.7 167.0 283.8 168.0 287.4 169.0 290.3 170.0 292.5 171.0 293.9 172.0 294.7 173.0 295.1 174.0 295.3 175.0 295.4 176.0 295.5 177.0 295.5" fill="#9b97c9" fill-opacity="0.36" stroke="#9b97c9" stroke-width="1.1"/>
<path d="M41.0 295.5 142.0 295.5 143.0 295.4 144.0 295.3 145.0 295.0 146.0 294.3 147.0 292.7 148.0 289.9 149.0 285.5 150.0 279.4 151.0 272.2 152.0 265.4 153.0 260.8 154.0 259.6 155.0 262.3 156.0 268.0 157.0 275.1 158.0 282.0 159.0 287.5 160.0 291.2 161.0 293.5 162.0 294.6 163.0 295.2 164.0 295.4 165.0 295.5 177.0 295.5" fill="#aec594" fill-opacity="0.36" stroke="#aec594" stroke-width="1.1"/>
<path d="M41.0 295.5 128.0 295.5 129.0 295.4 130.0 295.4 131.0 295.3 132.0 295.2 133.0 295.1 134.0 294.9 135.0 294.5 136.0 294.1 137.0 293.4 138.0 292.6 139.0 291.6 140.0 290.4 141.0 288.9 142.0 287.3 143.0 285.5 144.0 283.7 145.0 281.9 146.0 280.3 147.0 279.0 148.0 278.1 149.0 277.6 150.0 277.6 151.0 278.1 152.0 279.0 153.0 280.3 154.0 281.9 155.0 283.7 156.0 285.5 157.0 287.3 158.0 288.9 159.0 290.4 160.0 291.6 161.0 292.6 162.0 293.4 163.0 294.1 164.0 294.5 165.0 294.9 166.0 295.1 167.0 295.2 168.0 295.3 169.0 295.4 170.0 295.4 171.0 295.5 177.0 295.5" fill="#3a9a4b" fill-opacity="0.36" stroke="#3a9a4b" stroke-width="1.1"/>
<path d="M41.0 295.5 108.0 295.5 109.0 295.4 110.0 295.4 111.0 295.3 112.0 295.1 113.0 294.9 114.0 294.6 115.0 294.1 116.0 293.4 117.0 292.6 118.0 291.4 119.0 290.1 120.0 288.5 121.0 286.7 122.0 284.8 123.0 283.0 124.0 281.3 125.0 279.9 126.0 279.0 127.0 278.5 128.0 278.6 129.0 279.3 130.0 280.4 131.0 281.9 132.0 283.7 133.0 285.6 134.0 287.4 135.0 289.1 136.0 290.6 137.0 291.9 138.0 292.9 139.0 293.7 140.0 294.3 141.0 294.7 142.0 295.0 143.0 295.2 144.0 295.3 145.0 295.4 146.0 295.4 147.0 295.5 177.0 295.5" fill="#35a4d0" fill-opacity="0.36" stroke="#35a4d0" stroke-width="1.1"/>
<path d="M41.0 295.5 83.0 295.5 84.0 295.4 85.0 295.4 86.0 295.4 87.0 295.4 88.0 295.3 89.0 295.3 90.0 295.2 91.0 295.2 92.0 295.1 93.0 295.0 94.0 294.9 95.0 294.8 96.0 294.7 97.0 294.5 98.0 294.4 99.0 294.2 100.0 294.0 101.0 293.9 102.0 293.7 103.0 293.5 104.0 293.3 105.0 293.1 106.0 293.0 107.0 292.8 108.0 292.7 109.0 292.6 110.0 292.4 111.0 292.3 112.0 292.1 113.0 291.9 114.0 291.7 115.0 291.3 116.0 290.9 117.0 290.2 118.0 289.4 119.0 288.4 120.0 287.2 121.0 285.8 122.0 284.3 123.0 282.7 124.0 281.2 125.0 279.7 126.0 278.6 127.0 277.7 128.0 277.3 129.0 277.3 130.0 277.8 131.0 278.7 132.0 280.1 133.0 281.6 134.0 283.4 135.0 285.2 136.0 287.0 137.0 288.6 138.0 290.1 139.0 291.4 140.0 292.5 141.0 293.3 142.0 294.0 143.0 294.5 144.0 294.8 145.0 295.1 146.0 295.2 147.0 295.3 148.0 295.4 149.0 295.4 150.0 295.5 177.0 295.5" fill="#e0901c" fill-opacity="0.36" stroke="#e0901c" stroke-width="1.1"/>
<path d="M41.0 295.5 117.0 295.5 118.0 295.4 119.0 295.3 120.0 295.1 121.0 294.8 122.0 294.3 123.0 293.6 124.0 292.5 125.0 291.0 126.0 289.2 127.0 287.0 128.0 284.6 129.0 282.2 130.0 280.1 131.0 278.5 132.0 277.6 133.0 277.6 134.0 278.5 135.0 280.1 136.0 282.2 137.0 284.6 138.0 287.0 139.0 289.2 140.0 291.0 141.0 292.5 142.0 293.6 143.0 294.3 144.0 294.8 145.0 295.1 146.0 295.3 147.0 295.4 148.0 295.5 177.0 295.5" fill="#0f6894" fill-opacity="0.36" stroke="#0f6894" stroke-width="1.1"/>
<line x1="34.7" y1="257" x2="34.7" y2="298.6" stroke="#000" stroke-width="1.25" />
<line x1="34.1" y1="298" x2="181.2" y2="298" stroke="#000" stroke-width="1.25" />
<line x1="31.2" y1="295.5" x2="34.7" y2="295.5" stroke="#111" stroke-width="1" />
<text x="27.5" y="297.3" font-size="5" text-anchor="end" fill="#333" >0.0</text>
<line x1="31.2" y1="286.45" x2="34.7" y2="286.45" stroke="#111" stroke-width="1" />
<text x="27.5" y="288.25" font-size="5" text-anchor="end" fill="#333" >0.5</text>
<line x1="31.2" y1="277.4" x2="34.7" y2="277.4" stroke="#111" stroke-width="1" />
<text x="27.5" y="279.2" font-size="5" text-anchor="end" fill="#333" >1.0</text>
<line x1="31.2" y1="268.35" x2="34.7" y2="268.35" stroke="#111" stroke-width="1" />
<text x="27.5" y="270.15" font-size="5" text-anchor="end" fill="#333" >1.5</text>
<line x1="31.2" y1="259.3" x2="34.7" y2="259.3" stroke="#111" stroke-width="1" />
<text x="27.5" y="261.1" font-size="5" text-anchor="end" fill="#333" >2.0</text>
<line x1="62.5" y1="298" x2="62.5" y2="301.2" stroke="#111" stroke-width="1" />
<text x="62.5" y="309.6" font-size="5.4" text-anchor="middle" fill="#333" >1e−01</text>
<line x1="101.7" y1="298" x2="101.7" y2="301.2" stroke="#111" stroke-width="1" />
<text x="101.7" y="309.6" font-size="5.4" text-anchor="middle" fill="#333" >1e+01</text>
<line x1="141.2" y1="298" x2="141.2" y2="301.2" stroke="#111" stroke-width="1" />
<text x="141.2" y="309.6" font-size="5.4" text-anchor="middle" fill="#333" >1e+03</text>
<text transform="translate(19.1 277.5) rotate(-90)" text-rendering="geometricPrecision" font-size="8.2" text-anchor="middle" fill="#111" font-weight="bold" textLength="12.2" lengthAdjust="spacingAndGlyphs">CD10</text>
<line x1="116" y1="337.6" x2="116" y2="375.3" stroke="#3a9a4b" stroke-width="0.8" stroke-dasharray="1.4 1.6" opacity="0.95"/>
<line x1="118" y1="337.6" x2="118" y2="375.3" stroke="#3a9a4b" stroke-width="0.8" stroke-dasharray="1.4 1.6" opacity="0.95"/>
<line x1="120" y1="337.6" x2="120" y2="375.3" stroke="#3a9a4b" stroke-width="0.8" stroke-dasharray="1.4 1.6" opacity="0.95"/>
<line x1="117" y1="337.6" x2="117" y2="375.3" stroke="#35a4d0" stroke-width="0.8" stroke-dasharray="1.4 1.6" opacity="0.95"/>
<line x1="119.5" y1="337.6" x2="119.5" y2="375.3" stroke="#35a4d0" stroke-width="0.8" stroke-dasharray="1.4 1.6" opacity="0.95"/>
<line x1="121.5" y1="337.6" x2="121.5" y2="375.3" stroke="#35a4d0" stroke-width="0.8" stroke-dasharray="1.4 1.6" opacity="0.95"/>
<line x1="124.5" y1="337.6" x2="124.5" y2="375.3" stroke="#9b97c9" stroke-width="0.8" stroke-dasharray="1.4 1.6" opacity="0.95"/>
<line x1="126.5" y1="337.6" x2="126.5" y2="375.3" stroke="#9b97c9" stroke-width="0.8" stroke-dasharray="1.4 1.6" opacity="0.95"/>
<line x1="128.5" y1="337.6" x2="128.5" y2="375.3" stroke="#9b97c9" stroke-width="0.8" stroke-dasharray="1.4 1.6" opacity="0.95"/>
<line x1="138.5" y1="337.6" x2="138.5" y2="375.3" stroke="#e0901c" stroke-width="0.8" stroke-dasharray="1.4 1.6" opacity="0.95"/>
<line x1="140.5" y1="337.6" x2="140.5" y2="375.3" stroke="#e0901c" stroke-width="0.8" stroke-dasharray="1.4 1.6" opacity="0.95"/>
<line x1="142.3" y1="337.6" x2="142.3" y2="375.3" stroke="#e0901c" stroke-width="0.8" stroke-dasharray="1.4 1.6" opacity="0.95"/>
<line x1="152" y1="337.6" x2="152" y2="375.3" stroke="#0f6894" stroke-width="0.8" stroke-dasharray="1.4 1.6" opacity="0.95"/>
<line x1="156" y1="337.6" x2="156" y2="375.3" stroke="#0f6894" stroke-width="0.8" stroke-dasharray="1.4 1.6" opacity="0.95"/>
<line x1="158" y1="337.6" x2="158" y2="375.3" stroke="#0f6894" stroke-width="0.8" stroke-dasharray="1.4 1.6" opacity="0.95"/>
<line x1="159.6" y1="337.6" x2="159.6" y2="375.3" stroke="#0f6894" stroke-width="0.8" stroke-dasharray="1.4 1.6" opacity="0.95"/>
<path d="M41.0 375.3 109.0 375.3 110.0 375.2 111.0 375.2 112.0 375.0 113.0 374.6 114.0 373.8 115.0 372.6 116.0 370.7 117.0 368.0 118.0 364.7 119.0 360.9 120.0 357.2 121.0 353.8 122.0 351.2 123.0 349.4 124.0 348.4 125.0 348.2 126.0 348.8 127.0 350.3 128.0 352.9 129.0 356.5 130.0 360.6 131.0 364.7 132.0 368.3 133.0 371.0 134.0 373.0 135.0 374.1 136.0 374.8 137.0 375.1 138.0 375.2 139.0 375.3 177.0 375.3" fill="#9b97c9" fill-opacity="0.36" stroke="#9b97c9" stroke-width="1.1"/>
<path d="M41.0 375.3 76.0 375.3 77.0 375.2 78.0 375.2 79.0 375.2 80.0 375.2 81.0 375.1 82.0 375.1 83.0 375.0 84.0 375.0 85.0 374.9 86.0 374.8 87.0 374.8 88.0 374.7 89.0 374.6 90.0 374.5 91.0 374.4 92.0 374.3 93.0 374.2 94.0 374.1 95.0 374.0 96.0 373.8 97.0 373.7 98.0 373.5 99.0 373.2 100.0 373.0 101.0 372.7 102.0 372.4 103.0 372.1 104.0 371.7 105.0 371.4 106.0 370.9 107.0 370.4 108.0 369.7 109.0 368.9 110.0 367.8 111.0 366.6 112.0 365.1 113.0 363.4 114.0 361.4 115.0 358.7 116.0 355.2 117.0 351.3 118.0 347.6 119.0 345.3 120.0 345.5 121.0 348.6 122.0 353.8 123.0 359.9 124.0 365.5 125.0 369.8 126.0 372.5 127.0 374.1 128.0 374.8 129.0 375.1 130.0 375.2 131.0 375.3 177.0 375.3" fill="#aec594" fill-opacity="0.36" stroke="#aec594" stroke-width="1.1"/>
<path d="M41.0 375.3 75.0 375.3 76.0 375.2 77.0 375.2 78.0 375.2 79.0 375.2 80.0 375.1 81.0 375.1 82.0 375.0 83.0 375.0 84.0 374.9 85.0 374.8 86.0 374.7 87.0 374.7 88.0 374.6 89.0 374.5 90.0 374.3 91.0 374.2 92.0 374.1 93.0 374.0 94.0 373.9 95.0 373.7 96.0 373.6 97.0 373.4 98.0 373.1 99.0 372.9 100.0 372.6 101.0 372.3 102.0 371.9 103.0 371.6 104.0 371.2 105.0 370.9 106.0 370.4 107.0 369.9 108.0 369.3 109.0 368.4 110.0 367.3 111.0 366.0 112.0 364.4 113.0 362.5 114.0 360.2 115.0 357.2 116.0 353.4 117.0 348.6 118.0 343.5 119.0 339.5 120.0 337.9 121.0 339.9 122.0 345.1 123.0 352.4 124.0 359.8 125.0 366.0 126.0 370.4 127.0 373.0 128.0 374.3 129.0 374.9 130.0 375.2 131.0 375.3 177.0 375.3" fill="#3a9a4b" fill-opacity="0.36" stroke="#3a9a4b" stroke-width="1.1"/>
<path d="M41.0 375.3 75.0 375.3 76.0 375.2 77.0 375.2 78.0 375.2 79.0 375.2 80.0 375.1 81.0 375.1 82.0 375.0 83.0 375.0 84.0 374.9 85.0 374.8 86.0 374.7 87.0 374.7 88.0 374.6 89.0 374.5 90.0 374.3 91.0 374.2 92.0 374.1 93.0 374.0 94.0 373.9 95.0 373.7 96.0 373.6 97.0 373.4 98.0 373.1 99.0 372.9 100.0 372.6 101.0 372.3 102.0 371.9 103.0 371.6 104.0 371.2 105.0 370.8 106.0 370.4 107.0 369.9 108.0 369.3 109.0 368.4 110.0 367.4 111.0 366.1 112.0 364.5 113.0 362.7 114.0 360.4 115.0 357.4 116.0 353.5 117.0 348.9 118.0 344.3 119.0 341.0 120.0 340.5 121.0 343.3 122.0 348.9 123.0 356.0 124.0 362.7 125.0 368.0 126.0 371.6 127.0 373.6 128.0 374.6 129.0 375.0 130.0 375.2 131.0 375.3 177.0 375.3" fill="#35a4d0" fill-opacity="0.36" stroke="#35a4d0" stroke-width="1.1"/>
<path d="M41.0 375.3 123.0 375.3 124.0 375.2 125.0 375.1 126.0 375.0 127.0 374.8 128.0 374.4 129.0 373.9 130.0 373.0 131.0 371.8 132.0 370.1 133.0 368.0 134.0 365.4 135.0 362.5 136.0 359.3 137.0 356.0 138.0 353.0 139.0 350.6 140.0 348.9 141.0 348.3 142.0 348.7 143.0 350.2 144.0 352.5 145.0 355.4 146.0 358.6 147.0 361.8 148.0 364.9 149.0 367.6 150.0 369.8 151.0 371.5 152.0 372.8 153.0 373.7 154.0 374.3 155.0 374.7 156.0 375.0 157.0 375.1 158.0 375.2 159.0 375.3 177.0 375.3" fill="#e0901c" fill-opacity="0.36" stroke="#e0901c" stroke-width="1.1"/>
<path d="M41.0 375.3 142.0 375.3 143.0 375.2 144.0 375.1 145.0 374.9 146.0 374.6 147.0 374.1 148.0 373.2 149.0 371.8 150.0 369.8 151.0 367.2 152.0 363.8 153.0 359.9 154.0 355.5 155.0 351.2 156.0 347.4 157.0 344.5 158.0 342.9 159.0 342.9 160.0 344.5 161.0 347.4 162.0 351.2 163.0 355.5 164.0 359.9 165.0 363.8 166.0 367.2 167.0 369.8 168.0 371.8 169.0 373.2 170.0 374.1 171.0 374.6 172.0 374.9 173.0 375.1 174.0 375.2 175.0 375.3 177.0 375.3" fill="#0f6894" fill-opacity="0.36" stroke="#0f6894" stroke-width="1.1"/>
<line x1="34.7" y1="337" x2="34.7" y2="378.5" stroke="#000" stroke-width="1.25" />
<line x1="34.1" y1="377.9" x2="181.2" y2="377.9" stroke="#000" stroke-width="1.25" />
<line x1="31.2" y1="375.3" x2="34.7" y2="375.3" stroke="#111" stroke-width="1" />
<text x="27.5" y="377.1" font-size="5" text-anchor="end" fill="#333" >0.0</text>
<line x1="31.2" y1="361.8" x2="34.7" y2="361.8" stroke="#111" stroke-width="1" />
<text x="27.5" y="363.6" font-size="5" text-anchor="end" fill="#333" >0.5</text>
<line x1="31.2" y1="348.3" x2="34.7" y2="348.3" stroke="#111" stroke-width="1" />
<text x="27.5" y="350.1" font-size="5" text-anchor="end" fill="#333" >1.0</text>
<line x1="72.5" y1="377.9" x2="72.5" y2="381.1" stroke="#111" stroke-width="1" />
<text x="72.5" y="389.5" font-size="5.4" text-anchor="middle" fill="#333" >1e−01</text>
<line x1="123.8" y1="377.9" x2="123.8" y2="381.1" stroke="#111" stroke-width="1" />
<text x="123.8" y="389.5" font-size="5.4" text-anchor="middle" fill="#333" >1e+02</text>
<line x1="174.9" y1="377.9" x2="174.9" y2="381.1" stroke="#111" stroke-width="1" />
<text x="174.9" y="389.5" font-size="5.4" text-anchor="middle" fill="#333" >1e+05</text>
<text transform="translate(19.1 357.45) rotate(-90)" text-rendering="geometricPrecision" font-size="8.2" text-anchor="middle" fill="#111" font-weight="bold" textLength="12.2" lengthAdjust="spacingAndGlyphs">CD27</text>
<line x1="109.4" y1="417.6" x2="109.4" y2="455.8" stroke="#e0901c" stroke-width="0.8" stroke-dasharray="1.4 1.6" opacity="0.95"/>
<line x1="110.4" y1="417.6" x2="110.4" y2="455.8" stroke="#e0901c" stroke-width="0.8" stroke-dasharray="1.4 1.6" opacity="0.95"/>
<line x1="111.4" y1="417.6" x2="111.4" y2="455.8" stroke="#e0901c" stroke-width="0.8" stroke-dasharray="1.4 1.6" opacity="0.95"/>
<line x1="115.8" y1="417.6" x2="115.8" y2="455.8" stroke="#35a4d0" stroke-width="0.8" stroke-dasharray="1.4 1.6" opacity="0.95"/>
<line x1="116.8" y1="417.6" x2="116.8" y2="455.8" stroke="#35a4d0" stroke-width="0.8" stroke-dasharray="1.4 1.6" opacity="0.95"/>
<line x1="138.3" y1="417.6" x2="138.3" y2="455.8" stroke="#3a9a4b" stroke-width="0.8" stroke-dasharray="1.4 1.6" opacity="0.95"/>
<line x1="139.3" y1="417.6" x2="139.3" y2="455.8" stroke="#3a9a4b" stroke-width="0.8" stroke-dasharray="1.4 1.6" opacity="0.95"/>
<line x1="141.5" y1="417.6" x2="141.5" y2="455.8" stroke="#9b97c9" stroke-width="0.8" stroke-dasharray="1.4 1.6" opacity="0.95"/>
<line x1="143" y1="417.6" x2="143" y2="455.8" stroke="#9b97c9" stroke-width="0.8" stroke-dasharray="1.4 1.6" opacity="0.95"/>
<line x1="144.5" y1="417.6" x2="144.5" y2="455.8" stroke="#9b97c9" stroke-width="0.8" stroke-dasharray="1.4 1.6" opacity="0.95"/>
<line x1="142.2" y1="417.6" x2="142.2" y2="455.8" stroke="#aec594" stroke-width="0.8" stroke-dasharray="1.4 1.6" opacity="0.95"/>
<line x1="145.2" y1="417.6" x2="145.2" y2="455.8" stroke="#aec594" stroke-width="0.8" stroke-dasharray="1.4 1.6" opacity="0.95"/>
<line x1="164.8" y1="417.6" x2="164.8" y2="455.8" stroke="#0f6894" stroke-width="0.8" stroke-dasharray="1.4 1.6" opacity="0.95"/>
<line x1="165.8" y1="417.6" x2="165.8" y2="455.8" stroke="#0f6894" stroke-width="0.8" stroke-dasharray="1.4 1.6" opacity="0.95"/>
<line x1="167.1" y1="417.6" x2="167.1" y2="455.8" stroke="#0f6894" stroke-width="0.8" stroke-dasharray="1.4 1.6" opacity="0.95"/>
<path d="M41.0 455.8 134.0 455.8 135.0 455.6 136.0 455.2 137.0 454.1 138.0 451.6 139.0 446.9 140.0 439.7 141.0 431.0 142.0 423.2 143.0 419.3 144.0 421.0 145.0 427.6 146.0 436.3 147.0 444.3 148.0 450.0 149.0 453.3 150.0 454.9 151.0 455.5 152.0 455.7 153.0 455.8 177.0 455.8" fill="#9b97c9" fill-opacity="0.36" stroke="#9b97c9" stroke-width="1.1"/>
<path d="M41.0 455.8 132.0 455.8 133.0 455.7 134.0 455.4 135.0 454.7 136.0 453.1 137.0 450.2 138.0 445.4 139.0 439.0 140.0 431.8 141.0 425.5 142.0 422.3 143.0 423.1 144.0 427.8 145.0 434.6 146.0 441.7 147.0 447.6 148.0 451.6 149.0 453.9 150.0 455.0 151.0 455.5 152.0 455.7 153.0 455.8 177.0 455.8" fill="#aec594" fill-opacity="0.36" stroke="#aec594" stroke-width="1.1"/>
<path d="M41.0 455.8 127.0 455.8 128.0 455.7 129.0 455.5 130.0 454.9 131.0 453.7 132.0 451.5 133.0 448.1 134.0 444.1 135.0 440.5 136.0 438.2 137.0 437.8 138.0 439.0 139.0 440.7 140.0 441.9 141.0 441.7 142.0 440.0 143.0 437.1 144.0 434.1 145.0 432.6 146.0 433.7 147.0 437.5 148.0 442.7 149.0 447.8 150.0 451.6 151.0 453.9 152.0 455.1 153.0 455.6 154.0 455.7 155.0 455.8 177.0 455.8" fill="#3a9a4b" fill-opacity="0.36" stroke="#3a9a4b" stroke-width="1.1"/>
<path d="M41.0 455.8 104.0 455.8 105.0 455.7 106.0 455.7 107.0 455.6 108.0 455.4 109.0 455.1 110.0 454.6 111.0 453.8 112.0 452.7 113.0 451.3 114.0 449.6 115.0 447.6 116.0 445.6 117.0 443.6 118.0 441.9 119.0 440.8 120.0 440.3 121.0 440.6 122.0 441.6 123.0 443.2 124.0 445.2 125.0 447.2 126.0 449.2 127.0 451.0 128.0 452.5 129.0 453.6 130.0 454.4 131.0 455.0 132.0 455.3 133.0 455.5 134.0 455.7 135.0 455.7 136.0 455.8 177.0 455.8" fill="#35a4d0" fill-opacity="0.36" stroke="#35a4d0" stroke-width="1.1"/>
<path d="M41.0 455.8 65.0 455.8 66.0 455.7 67.0 455.7 68.0 455.7 69.0 455.7 70.0 455.7 71.0 455.6 72.0 455.6 73.0 455.6 74.0 455.5 75.0 455.5 76.0 455.4 77.0 455.3 78.0 455.2 79.0 455.2 80.0 455.1 81.0 454.9 82.0 454.8 83.0 454.7 84.0 454.6 85.0 454.4 86.0 454.3 87.0 454.1 88.0 454.0 89.0 453.8 90.0 453.7 91.0 453.5 92.0 453.4 93.0 453.2 94.0 453.1 95.0 453.0 96.0 452.8 97.0 452.7 98.0 452.6 99.0 452.4 100.0 452.2 101.0 452.0 102.0 451.7 103.0 451.4 104.0 450.9 105.0 450.4 106.0 449.8 107.0 449.1 108.0 448.3 109.0 447.5 110.0 446.6 111.0 445.7 112.0 444.9 113.0 444.1 114.0 443.5 115.0 443.0 116.0 442.7 117.0 442.7 118.0 442.9 119.0 443.3 120.0 444.0 121.0 444.8 122.0 445.8 123.0 446.8 124.0 447.9 125.0 449.0 126.0 450.1 127.0 451.1 128.0 452.0 129.0 452.7 130.0 453.4 131.0 454.0 132.0 454.4 133.0 454.8 134.0 455.1 135.0 455.3 136.0 455.4 137.0 455.6 138.0 455.6 139.0 455.7 140.0 455.7 141.0 455.8 177.0 455.8" fill="#e0901c" fill-opacity="0.36" stroke="#e0901c" stroke-width="1.1"/>
<path d="M41.0 455.8 151.0 455.8 152.0 455.7 153.0 455.7 154.0 455.5 155.0 455.2 156.0 454.8 157.0 454.0 158.0 452.8 159.0 451.2 160.0 449.1 161.0 446.5 162.0 443.7 163.0 440.8 164.0 438.4 165.0 436.6 166.0 435.8 167.0 436.2 168.0 437.6 169.0 439.8 170.0 442.5 171.0 445.4 172.0 448.1 173.0 450.4 174.0 452.2 175.0 453.6 176.0 454.5 177.0 455.1" fill="#0f6894" fill-opacity="0.36" stroke="#0f6894" stroke-width="1.1"/>
<line x1="34.7" y1="417" x2="34.7" y2="458.9" stroke="#000" stroke-width="1.25" />
<line x1="34.1" y1="458.3" x2="181.2" y2="458.3" stroke="#000" stroke-width="1.25" />
<line x1="31.2" y1="455.8" x2="34.7" y2="455.8" stroke="#111" stroke-width="1" />
<text x="27.5" y="457.6" font-size="5" text-anchor="end" fill="#333" >0</text>
<line x1="31.2" y1="443.37" x2="34.7" y2="443.37" stroke="#111" stroke-width="1" />
<text x="27.5" y="445.17" font-size="5" text-anchor="end" fill="#333" >1</text>
<line x1="31.2" y1="430.94" x2="34.7" y2="430.94" stroke="#111" stroke-width="1" />
<text x="27.5" y="432.74" font-size="5" text-anchor="end" fill="#333" >2</text>
<line x1="31.2" y1="418.51" x2="34.7" y2="418.51" stroke="#111" stroke-width="1" />
<text x="27.5" y="420.31" font-size="5" text-anchor="end" fill="#333" >3</text>
<line x1="73.9" y1="458.3" x2="73.9" y2="461.5" stroke="#111" stroke-width="1" />
<text x="73.9" y="469.9" font-size="5.4" text-anchor="middle" fill="#333" >1</text>
<line x1="115.2" y1="458.3" x2="115.2" y2="461.5" stroke="#111" stroke-width="1" />
<text x="115.2" y="469.9" font-size="5.4" text-anchor="middle" fill="#333" >100</text>
<line x1="156.1" y1="458.3" x2="156.1" y2="461.5" stroke="#111" stroke-width="1" />
<text x="156.1" y="469.9" font-size="5.4" text-anchor="middle" fill="#333" >10000</text>
<text transform="translate(19.1 437.65) rotate(-90)" text-rendering="geometricPrecision" font-size="8.2" text-anchor="middle" fill="#111" font-weight="bold" textLength="12.2" lengthAdjust="spacingAndGlyphs">CD38</text>
<line x1="122" y1="498.1" x2="122" y2="537" stroke="#e0901c" stroke-width="0.8" stroke-dasharray="1.4 1.6" opacity="0.95"/>
<line x1="124" y1="498.1" x2="124" y2="537" stroke="#e0901c" stroke-width="0.8" stroke-dasharray="1.4 1.6" opacity="0.95"/>
<line x1="126" y1="498.1" x2="126" y2="537" stroke="#e0901c" stroke-width="0.8" stroke-dasharray="1.4 1.6" opacity="0.95"/>
<line x1="128" y1="498.1" x2="128" y2="537" stroke="#e0901c" stroke-width="0.8" stroke-dasharray="1.4 1.6" opacity="0.95"/>
<line x1="121.5" y1="498.1" x2="121.5" y2="537" stroke="#3a9a4b" stroke-width="0.8" stroke-dasharray="1.4 1.6" opacity="0.95"/>
<line x1="125" y1="498.1" x2="125" y2="537" stroke="#3a9a4b" stroke-width="0.8" stroke-dasharray="1.4 1.6" opacity="0.95"/>
<line x1="129" y1="498.1" x2="129" y2="537" stroke="#3a9a4b" stroke-width="0.8" stroke-dasharray="1.4 1.6" opacity="0.95"/>
<line x1="127" y1="498.1" x2="127" y2="537" stroke="#aec594" stroke-width="0.8" stroke-dasharray="1.4 1.6" opacity="0.95"/>
<line x1="130" y1="498.1" x2="130" y2="537" stroke="#aec594" stroke-width="0.8" stroke-dasharray="1.4 1.6" opacity="0.95"/>
<line x1="131.6" y1="498.1" x2="131.6" y2="537" stroke="#aec594" stroke-width="0.8" stroke-dasharray="1.4 1.6" opacity="0.95"/>
<line x1="135.4" y1="498.1" x2="135.4" y2="537" stroke="#0f6894" stroke-width="0.8" stroke-dasharray="1.4 1.6" opacity="0.95"/>
<line x1="138" y1="498.1" x2="138" y2="537" stroke="#0f6894" stroke-width="0.8" stroke-dasharray="1.4 1.6" opacity="0.95"/>
<line x1="140.5" y1="498.1" x2="140.5" y2="537" stroke="#0f6894" stroke-width="0.8" stroke-dasharray="1.4 1.6" opacity="0.95"/>
<line x1="143.2" y1="498.1" x2="143.2" y2="537" stroke="#0f6894" stroke-width="0.8" stroke-dasharray="1.4 1.6" opacity="0.95"/>
<line x1="154.7" y1="498.1" x2="154.7" y2="537" stroke="#9b97c9" stroke-width="0.8" stroke-dasharray="1.4 1.6" opacity="0.95"/>
<line x1="157.5" y1="498.1" x2="157.5" y2="537" stroke="#9b97c9" stroke-width="0.8" stroke-dasharray="1.4 1.6" opacity="0.95"/>
<line x1="160.5" y1="498.1" x2="160.5" y2="537" stroke="#9b97c9" stroke-width="0.8" stroke-dasharray="1.4 1.6" opacity="0.95"/>
<line x1="163.4" y1="498.1" x2="163.4" y2="537" stroke="#9b97c9" stroke-width="0.8" stroke-dasharray="1.4 1.6" opacity="0.95"/>
<path d="M41.0 537.0 143.0 537.0 144.0 536.9 145.0 536.8 146.0 536.4 147.0 535.7 148.0 534.2 149.0 532.0 150.0 529.2 151.0 526.4 152.0 524.1 153.0 522.5 154.0 521.4 155.0 520.4 156.0 519.2 157.0 517.7 158.0 516.2 159.0 515.0 160.0 513.9 161.0 512.7 162.0 511.5 163.0 510.5 164.0 510.0 165.0 510.7 166.0 512.7 167.0 516.0 168.0 520.1 169.0 524.4 170.0 528.3 171.0 531.5 172.0 533.7 173.0 535.2 174.0 536.1 175.0 536.6 176.0 536.8 177.0 536.9" fill="#9b97c9" fill-opacity="0.36" stroke="#9b97c9" stroke-width="1.1"/>
<path d="M41.0 537.0 97.0 537.0 98.0 536.9 99.0 536.9 100.0 536.9 101.0 536.8 102.0 536.7 103.0 536.6 104.0 536.4 105.0 536.2 106.0 536.0 107.0 535.7 108.0 535.3 109.0 534.9 110.0 534.4 111.0 533.8 112.0 533.2 113.0 532.4 114.0 531.5 115.0 530.4 116.0 529.1 117.0 527.7 118.0 526.1 119.0 524.2 120.0 522.2 121.0 520.1 122.0 518.1 123.0 516.2 124.0 514.6 125.0 513.5 126.0 513.0 127.0 513.1 128.0 513.9 129.0 515.4 130.0 517.3 131.0 519.6 132.0 522.1 133.0 524.7 134.0 527.1 135.0 529.3 136.0 531.2 137.0 532.8 138.0 534.0 139.0 535.0 140.0 535.7 141.0 536.1 142.0 536.5 143.0 536.7 144.0 536.8 145.0 536.9 146.0 536.9 147.0 537.0 177.0 537.0" fill="#aec594" fill-opacity="0.36" stroke="#aec594" stroke-width="1.1"/>
<path d="M41.0 537.0 80.0 537.0 81.0 536.9 82.0 536.9 83.0 536.9 84.0 536.9 85.0 536.9 86.0 536.8 87.0 536.8 88.0 536.7 89.0 536.7 90.0 536.6 91.0 536.6 92.0 536.5 93.0 536.4 94.0 536.4 95.0 536.3 96.0 536.2 97.0 536.1 98.0 536.0 99.0 535.9 100.0 535.8 101.0 535.7 102.0 535.5 103.0 535.4 104.0 535.2 105.0 535.0 106.0 534.8 107.0 534.5 108.0 534.1 109.0 533.7 110.0 533.3 111.0 532.8 112.0 532.2 113.0 531.5 114.0 530.7 115.0 529.7 116.0 528.6 117.0 527.3 118.0 525.8 119.0 524.1 120.0 522.1 121.0 520.0 122.0 517.8 123.0 515.7 124.0 513.7 125.0 512.2 126.0 511.1 127.0 510.7 128.0 511.0 129.0 512.1 130.0 513.7 131.0 516.0 132.0 518.6 133.0 521.3 134.0 524.1 135.0 526.7 136.0 529.0 137.0 531.0 138.0 532.7 139.0 534.0 140.0 534.9 141.0 535.7 142.0 536.1 143.0 536.5 144.0 536.7 145.0 536.8 146.0 536.9 147.0 536.9 148.0 537.0 177.0 537.0" fill="#3a9a4b" fill-opacity="0.36" stroke="#3a9a4b" stroke-width="1.1"/>
<path d="M41.0 537.0 78.0 537.0 79.0 536.9 80.0 536.9 81.0 536.9 82.0 536.9 83.0 536.9 84.0 536.8 85.0 536.8 86.0 536.8 87.0 536.7 88.0 536.6 89.0 536.6 90.0 536.5 91.0 536.4 92.0 536.3 93.0 536.3 94.0 536.2 95.0 536.0 96.0 535.9 97.0 535.8 98.0 535.7 99.0 535.5 100.0 535.4 101.0 535.2 102.0 535.0 103.0 534.8 104.0 534.6 105.0 534.3 106.0 534.0 107.0 533.6 108.0 533.2 109.0 532.7 110.0 532.2 111.0 531.5 112.0 530.8 113.0 530.0 114.0 529.0 115.0 527.9 116.0 526.6 117.0 525.1 118.0 523.5 119.0 521.6 120.0 519.7 121.0 517.7 122.0 515.7 123.0 513.9 124.0 512.4 125.0 511.3 126.0 510.7 127.0 510.7 128.0 511.4 129.0 512.6 130.0 514.3 131.0 516.4 132.0 518.9 133.0 521.4 134.0 523.9 135.0 526.4 136.0 528.6 137.0 530.5 138.0 532.1 139.0 533.4 140.0 534.4 141.0 535.2 142.0 535.8 143.0 536.2 144.0 536.5 145.0 536.7 146.0 536.8 147.0 536.9 148.0 536.9 149.0 537.0 177.0 537.0" fill="#35a4d0" fill-opacity="0.36" stroke="#35a4d0" stroke-width="1.1"/>
<path d="M41.0 537.0 79.0 537.0 80.0 536.9 81.0 536.9 82.0 536.9 83.0 536.9 84.0 536.9 85.0 536.8 86.0 536.8 87.0 536.8 88.0 536.7 89.0 536.6 90.0 536.6 91.0 536.5 92.0 536.4 93.0 536.4 94.0 536.3 95.0 536.2 96.0 536.1 97.0 536.0 98.0 535.9 99.0 535.8 100.0 535.6 101.0 535.5 102.0 535.4 103.0 535.2 104.0 535.1 105.0 534.8 106.0 534.6 107.0 534.3 108.0 534.0 109.0 533.6 110.0 533.2 111.0 532.7 112.0 532.1 113.0 531.4 114.0 530.6 115.0 529.6 116.0 528.5 117.0 527.2 118.0 525.7 119.0 524.0 120.0 522.0 121.0 519.9 122.0 517.6 123.0 515.4 124.0 513.3 125.0 511.5 126.0 510.1 127.0 509.5 128.0 509.5 129.0 510.3 130.0 511.8 131.0 514.0 132.0 516.5 133.0 519.4 134.0 522.3 135.0 525.1 136.0 527.7 137.0 530.0 138.0 531.8 139.0 533.3 140.0 534.5 141.0 535.3 142.0 535.9 143.0 536.3 144.0 536.6 145.0 536.8 146.0 536.9 147.0 536.9 148.0 537.0 177.0 537.0" fill="#e0901c" fill-opacity="0.36" stroke="#e0901c" stroke-width="1.1"/>
<path d="M41.0 537.0 124.0 537.0 125.0 536.9 126.0 536.9 127.0 536.7 128.0 536.4 129.0 535.7 130.0 534.5 131.0 532.5 132.0 529.6 133.0 525.6 134.0 520.5 135.0 514.8 136.0 509.1 137.0 504.3 138.0 501.2 139.0 500.5 140.0 502.2 141.0 506.0 142.0 511.3 143.0 517.1 144.0 522.6 145.0 527.3 146.0 530.9 147.0 533.4 148.0 535.0 149.0 536.0 150.0 536.5 151.0 536.8 152.0 536.9 153.0 537.0 177.0 537.0" fill="#0f6894" fill-opacity="0.36" stroke="#0f6894" stroke-width="1.1"/>
<line x1="34.7" y1="497.5" x2="34.7" y2="540" stroke="#000" stroke-width="1.25" />
<line x1="34.1" y1="539.4" x2="181.2" y2="539.4" stroke="#000" stroke-width="1.25" />
<line x1="31.2" y1="537" x2="34.7" y2="537" stroke="#111" stroke-width="1" />
<text x="27.5" y="538.8" font-size="5" text-anchor="end" fill="#333" >0.0</text>
<line x1="31.2" y1="524.93" x2="34.7" y2="524.93" stroke="#111" stroke-width="1" />
<text x="27.5" y="526.73" font-size="5" text-anchor="end" fill="#333" >0.5</text>
<line x1="31.2" y1="512.87" x2="34.7" y2="512.87" stroke="#111" stroke-width="1" />
<text x="27.5" y="514.67" font-size="5" text-anchor="end" fill="#333" >1.0</text>
<line x1="31.2" y1="500.81" x2="34.7" y2="500.81" stroke="#111" stroke-width="1" />
<text x="27.5" y="502.61" font-size="5" text-anchor="end" fill="#333" >1.5</text>
<line x1="69.6" y1="539.4" x2="69.6" y2="542.6" stroke="#111" stroke-width="1" />
<text x="69.6" y="551" font-size="5.4" text-anchor="middle" fill="#333" >1e−01</text>
<line x1="109.1" y1="539.4" x2="109.1" y2="542.6" stroke="#111" stroke-width="1" />
<text x="109.1" y="551" font-size="5.4" text-anchor="middle" fill="#333" >1e+01</text>
<line x1="148" y1="539.4" x2="148" y2="542.6" stroke="#111" stroke-width="1" />
<text x="148" y="551" font-size="5.4" text-anchor="middle" fill="#333" >1e+03</text>
<text transform="translate(19.1 518.45) rotate(-90)" text-rendering="geometricPrecision" font-size="8.2" text-anchor="middle" fill="#111" font-weight="bold" textLength="12.2" lengthAdjust="spacingAndGlyphs">CD34</text>
<text x="8.4" y="579.4" font-size="14" text-anchor="start" fill="#000" font-weight="bold" >B</text>
<text x="67.2" y="590.2" font-size="8.6" text-anchor="start" fill="#111" textLength="125" lengthAdjust="spacingAndGlyphs" >PCA of Membrane Marker Expressions</text>
<defs>
<radialGradient id="rgL"><stop offset="0" stop-color="#9b97c9"/><stop offset="0.74" stop-color="#9b97c9"/><stop offset="1" stop-color="#9b97c9" stop-opacity="0"/></radialGradient>
<radialGradient id="rgLG"><stop offset="0" stop-color="#aec594"/><stop offset="0.74" stop-color="#aec594"/><stop offset="1" stop-color="#aec594" stop-opacity="0"/></radialGradient>
<radialGradient id="rgG"><stop offset="0" stop-color="#3a9a4b"/><stop offset="0.74" stop-color="#3a9a4b"/><stop offset="1" stop-color="#3a9a4b" stop-opacity="0"/></radialGradient>
<radialGradient id="rgLB"><stop offset="0" stop-color="#35a4d0"/><stop offset="0.74" stop-color="#35a4d0"/><stop offset="1" stop-color="#35a4d0" stop-opacity="0"/></radialGradient>
<radialGradient id="rgO"><stop offset="0" stop-color="#e0901c"/><stop offset="0.74" stop-color="#e0901c"/><stop offset="1" stop-color="#e0901c" stop-opacity="0"/></radialGradient>
<radialGradient id="rgDB"><stop offset="0" stop-color="#0f6894"/><stop offset="0.74" stop-color="#0f6894"/><stop offset="1" stop-color="#0f6894" stop-opacity="0"/></radialGradient>
<filter id="rough" x="-20%" y="-20%" width="140%" height="140%"><feTurbulence type="fractalNoise" baseFrequency="0.22" numOctaves="2" seed="3" result="n"/><feDisplacementMap in="SourceGraphic" in2="n" scale="7" xChannelSelector="R" yChannelSelector="G"/></filter>
</defs>
<ellipse cx="84.5" cy="696" rx="19" ry="15.5" transform="rotate(12 84.5 696)" fill="url(#rgL)" opacity="0.45" filter="url(#rough)"/>
<path d="M81.4 699.3h0M83.0 693.3h0M76.6 692.7h0M93.6 701.2h0M93.2 699.8h0M87.7 698.1h0M67.6 699.7h0M88.2 700.6h0M71.1 680.8h0M77.4 690.9h0M87.3 696.2h0M90.1 692.3h0M86.6 699.5h0M75.2 707.9h0M87.4 705.9h0M80.2 689.4h0M81.6 694.6h0M89.7 699.0h0M82.1 688.1h0M77.8 704.1h0M77.0 696.3h0M90.1 686.2h0M82.7 705.8h0M66.1 690.6h0M84.8 689.8h0M89.0 696.5h0M69.7 699.7h0M88.9 704.2h0M96.3 701.6h0M87.4 686.8h0M90.9 692.7h0M82.3 686.0h0M76.8 690.3h0M97.8 684.3h0M70.9 695.3h0M95.9 703.2h0M70.5 674.7h0M88.8 691.3h0M72.8 701.3h0M94.0 699.2h0M86.0 699.6h0M96.9 703.9h0M88.2 701.0h0M67.6 703.2h0M92.1 701.7h0M66.9 688.4h0M93.7 685.0h0M81.3 703.1h0M69.3 706.1h0M89.6 695.9h0M86.3 701.4h0M83.8 704.6h0M79.3 691.7h0M93.6 698.1h0M75.1 701.4h0M97.7 695.7h0M72.3 692.6h0M83.7 693.5h0M97.8 691.5h0M96.8 689.5h0M76.6 699.2h0M92.8 704.6h0M87.3 697.7h0M84.9 700.5h0M82.5 697.7h0M89.5 697.1h0M90.3 701.6h0M100.6 702.9h0M81.3 692.5h0M82.9 702.8h0M80.9 698.2h0M103.5 681.4h0M74.2 695.7h0M87.6 698.5h0M79.7 700.0h0M87.8 692.7h0M104.2 703.9h0M79.8 694.2h0M82.6 695.1h0M60.1 688.1h0M94.8 689.6h0M82.4 702.9h0M89.1 709.0h0M69.4 690.7h0M80.5 699.9h0M97.1 679.1h0M95.6 687.9h0M92.3 686.7h0M84.1 705.1h0M82.9 697.1h0M91.3 698.5h0M80.9 707.4h0M94.2 695.8h0M109.3 693.5h0M93.0 695.8h0M84.6 701.4h0M85.5 701.1h0M72.2 682.8h0M91.4 690.1h0M77.0 683.8h0M94.1 704.1h0M98.2 692.3h0M86.3 687.6h0M88.0 709.6h0M73.5 706.3h0M93.5 696.5h0M63.8 703.4h0M84.6 691.4h0M87.4 699.8h0M98.5 691.8h0M91.3 709.6h0M97.2 697.6h0M76.2 702.2h0M85.3 697.1h0M97.1 696.9h0M63.7 689.6h0M65.8 699.3h0M88.2 692.1h0M83.1 702.1h0M82.9 706.0h0M82.3 703.5h0M93.9 711.4h0M77.2 701.2h0M68.5 685.3h0M64.4 700.9h0M73.6 693.7h0M82.9 695.4h0M78.9 696.6h0M99.4 700.2h0M87.6 704.3h0M84.6 686.5h0M77.9 702.9h0M70.2 689.0h0M92.0 703.8h0M83.3 701.9h0M87.8 687.7h0M71.1 688.8h0M93.5 693.6h0M77.7 688.7h0M70.8 692.5h0M73.5 696.5h0M62.0 694.8h0M80.7 681.3h0M91.3 695.3h0M65.0 686.2h0M87.8 693.2h0M90.2 702.9h0M89.9 699.6h0M94.9 703.6h0M90.5 682.3h0M89.9 707.6h0M82.6 692.0h0M103.1 687.5h0M83.7 715.4h0M75.2 699.3h0M100.4 699.2h0M88.0 703.7h0M76.7 693.7h0M85.8 702.6h0M84.5 694.5h0M76.1 691.5h0M92.2 698.4h0M78.2 688.3h0M105.0 710.1h0M93.0 678.9h0M89.2 700.7h0M98.0 702.7h0M83.1 699.7h0M64.6 700.7h0M88.5 691.5h0M92.2 712.5h0M72.8 688.8h0M86.8 697.9h0M82.5 688.1h0M100.4 708.3h0M75.3 684.4h0M96.9 707.1h0M98.2 706.0h0M76.4 696.3h0M65.5 687.2h0M83.2 699.7h0M78.3 693.7h0M87.9 699.6h0M89.8 698.7h0M80.4 701.2h0M86.2 690.0h0M79.0 694.8h0M83.3 696.9h0M84.2 697.3h0M85.2 686.6h0M86.6 704.5h0M88.6 695.4h0M89.9 689.8h0M66.8 693.5h0M75.1 699.7h0M77.9 675.5h0M72.0 706.2h0M83.0 685.4h0M77.0 698.4h0M88.6 698.2h0M95.9 704.3h0M83.4 700.3h0M96.6 706.8h0M94.8 690.2h0M82.1 701.1h0M80.2 703.3h0M88.3 703.8h0M77.5 715.1h0M95.6 696.8h0M80.1 716.0h0M80.1 701.8h0M93.1 697.9h0M73.9 695.2h0M85.9 705.0h0M91.4 697.6h0M91.2 701.6h0M86.2 696.8h0M81.3 700.6h0M76.1 689.5h0M86.5 685.5h0M82.6 681.2h0M77.6 698.9h0M89.6 696.7h0M84.4 685.4h0M98.9 703.8h0M95.2 691.7h0M84.9 682.8h0M89.8 704.4h0M67.0 692.7h0M91.9 684.8h0M68.9 685.5h0M80.7 684.8h0M84.4 697.9h0M89.0 702.3h0M95.0 707.9h0M73.5 690.0h0M76.5 686.4h0M83.8 695.9h0M90.7 685.7h0M73.5 693.6h0M83.2 693.3h0M85.1 690.3h0M90.1 699.9h0M84.8 690.9h0M86.0 676.5h0M75.8 694.4h0M70.6 694.9h0M87.7 686.3h0M82.8 693.2h0M87.6 701.3h0M85.5 689.7h0M83.3 695.3h0M90.5 699.5h0M79.8 685.0h0M82.4 689.9h0M74.9 693.1h0M80.0 695.9h0M89.8 693.9h0M104.3 698.8h0M94.0 699.0h0M96.8 681.4h0M77.5 696.4h0M85.0 715.0h0M85.2 706.1h0M89.7 704.4h0M89.2 695.8h0M90.6 689.1h0M96.0 691.0h0M82.2 712.8h0M82.5 695.7h0M94.7 698.4h0M77.0 696.4h0M88.5 702.3h0M74.0 708.0h0M98.6 699.6h0M87.5 693.4h0M97.6 693.8h0M91.2 693.7h0M77.3 700.0h0M96.1 698.5h0M77.3 700.7h0M83.6 698.2h0M95.2 707.7h0M75.2 712.6h0M83.3 701.8h0M78.9 694.5h0M65.1 706.6h0M97.6 690.2h0M72.6 682.1h0M95.5 694.9h0M84.5 693.6h0M85.1 687.8h0M86.7 685.7h0M83.4 698.1h0M89.0 695.2h0M76.3 695.5h0M77.2 706.9h0M91.4 696.6h0M81.4 690.0h0M76.8 691.7h0M86.3 700.3h0M85.0 713.2h0M78.3 694.8h0M110.8 688.3h0M79.6 696.3h0M85.2 699.3h0M81.8 698.2h0M83.8 701.8h0M68.0 686.7h0M86.1 688.4h0M74.3 698.7h0M77.8 699.4h0M90.6 699.6h0M89.1 696.2h0M71.9 693.3h0M89.3 693.0h0M82.5 701.3h0M75.8 699.1h0M100.8 696.1h0M86.0 695.2h0M97.1 701.5h0M93.5 692.6h0M84.4 695.9h0M65.4 704.0h0M94.1 685.5h0M91.3 696.4h0M87.9 699.5h0M71.2 691.9h0M98.0 694.9h0M77.0 684.5h0M73.1 696.3h0M98.0 702.8h0M82.0 713.6h0M81.0 690.1h0M88.3 701.0h0M77.0 685.8h0M86.7 698.4h0M73.1 692.2h0M79.0 698.4h0M83.6 695.2h0M79.7 703.1h0M97.0 696.1h0M93.1 692.0h0M84.0 701.6h0M98.0 696.3h0M83.5 697.3h0M70.9 693.6h0M78.0 697.5h0M76.4 680.2h0M84.4 698.0h0M78.3 701.5h0M83.0 691.0h0M90.6 685.7h0M78.6 694.6h0M92.2 696.4h0M88.2 691.8h0M83.9 709.2h0M73.6 712.8h0M78.8 694.9h0M84.4 703.8h0M75.7 679.0h0M88.6 703.0h0M84.7 717.2h0M85.9 698.2h0M92.1 700.4h0M99.9 690.8h0M85.4 670.8h0M92.2 694.8h0M88.1 714.3h0M84.8 694.1h0M81.4 688.9h0M78.0 699.5h0M84.7 696.6h0M81.5 702.4h0M89.1 695.9h0M90.6 696.1h0M71.2 705.1h0M90.1 689.8h0M93.5 700.5h0M67.0 705.7h0M86.0 703.2h0M86.5 695.3h0M68.5 700.8h0M85.2 694.0h0M87.5 697.2h0M91.0 694.5h0M86.3 681.0h0M79.7 700.2h0M96.6 696.0h0M80.5 707.7h0M80.5 700.8h0M98.6 699.8h0M96.1 693.3h0M86.4 695.8h0M83.8 704.5h0M105.4 696.4h0M78.7 698.6h0M74.4 697.7h0M90.0 695.0h0M91.0 686.0h0M92.9 686.5h0M79.2 690.6h0M79.6 701.5h0M85.8 693.2h0M86.2 709.0h0M84.0 698.7h0M94.9 700.4h0M68.1 712.6h0M105.8 686.3h0M83.5 699.0h0M91.9 702.7h0M83.7 687.8h0M83.8 703.8h0M76.1 686.7h0M86.3 682.4h0M82.9 692.3h0M89.6 691.7h0M77.3 691.5h0M85.1 691.0h0M83.4 701.5h0M91.1 711.5h0M78.3 691.5h0M58.5 706.1h0M78.2 694.4h0M90.9 687.2h0M88.6 696.7h0M67.1 695.3h0M96.7 685.3h0M91.3 699.0h0M88.0 700.1h0M96.1 696.9h0M92.8 694.6h0M92.2 691.4h0M80.2 708.9h0M88.7 695.7h0M75.4 688.2h0M84.7 703.3h0M87.4 700.6h0M81.8 706.0h0M81.9 691.2h0M92.2 698.1h0M82.9 691.3h0M81.3 700.1h0M89.4 687.9h0M88.0 698.1h0M74.4 699.9h0M82.6 693.0h0M89.0 707.5h0M77.8 697.9h0M72.0 712.1h0M78.1 703.9h0M77.5 700.7h0M106.8 682.3h0M79.9 698.9h0M84.7 690.9h0M102.1 701.4h0M67.8 699.7h0M66.4 702.0h0M79.2 696.0h0M95.3 699.3h0M73.7 681.7h0M93.5 703.8h0M75.9 700.8h0M87.9 701.7h0M63.9 690.3h0M91.3 703.1h0M94.9 680.4h0M85.2 699.9h0M107.3 694.5h0M81.5 695.6h0M93.0 694.4h0M95.6 692.5h0M87.7 692.6h0M87.0 691.2h0M67.8 701.7h0M88.0 692.5h0M84.7 703.6h0M76.1 693.4h0M88.4 700.9h0M83.6 680.7h0M94.8 700.8h0M85.0 694.0h0M87.5 693.4h0M76.5 688.7h0M80.2 690.4h0M73.1 698.6h0M71.6 698.6h0M75.0 696.7h0M96.0 700.2h0M78.0 695.0h0M87.8 684.0h0M78.9 696.1h0M80.2 695.7h0M89.8 703.0h0M91.6 702.0h0M82.0 695.3h0M82.6 693.2h0M84.9 683.4h0M81.6 695.2h0M76.0 694.0h0M89.3 695.8h0M105.7 681.5h0M84.7 682.8h0M87.8 718.1h0M61.1 693.0h0M89.5 694.8h0M91.7 681.3h0M91.4 700.3h0M85.6 691.7h0M90.9 693.6h0M87.3 692.7h0M63.6 692.3h0M85.1 701.9h0M76.8 694.1h0M89.7 698.2h0M91.1 713.7h0M78.3 681.0h0M89.0 709.3h0M91.3 703.8h0M80.2 689.6h0M93.6 691.1h0M68.9 686.1h0M102.3 715.5h0M79.6 689.4h0M87.7 690.9h0M96.0 698.0h0M72.3 704.0h0M79.0 696.5h0M84.9 693.7h0M88.4 691.5h0M70.5 677.1h0M74.2 688.3h0M84.2 696.4h0M89.2 697.9h0M78.6 689.3h0M64.9 691.6h0M87.9 700.8h0M83.7 694.5h0M92.7 697.9h0M90.1 701.7h0M84.2 706.1h0M80.0 692.3h0M78.6 688.6h0M94.3 712.6h0M83.8 700.2h0M93.3 704.3h0M96.4 689.4h0M78.2 698.1h0M96.7 699.6h0M77.5 691.8h0M80.0 688.5h0M98.2 694.6h0M80.1 712.7h0M94.3 700.7h0M78.5 697.9h0M97.1 704.0h0M95.3 699.2h0M89.4 695.5h0M86.0 706.5h0M71.7 693.1h0M87.5 692.3h0M80.6 701.2h0M100.0 705.1h0M89.3 685.5h0M100.4 700.8h0M85.9 687.7h0M85.7 687.9h0M84.4 699.6h0M84.3 698.1h0M74.2 705.3h0M80.6 682.1h0M84.0 690.0h0M76.2 691.5h0M88.8 687.9h0M80.8 706.4h0M90.7 696.2h0M85.8 695.4h0M82.9 701.3h0M86.2 679.0h0M85.7 689.4h0M91.2 692.7h0M81.2 713.0h0M76.6 686.1h0M74.6 676.6h0M66.5 695.8h0M80.8 681.8h0M70.0 698.1h0M78.2 691.9h0M85.0 706.7h0M98.8 708.0h0M85.5 697.6h0M97.0 710.6h0M81.1 698.8h0M86.9 696.9h0M81.9 685.5h0M81.7 684.0h0M94.2 702.4h0M70.9 704.5h0M94.1 684.4h0M98.4 706.1h0M103.4 691.6h0M88.5 700.1h0M86.0 697.6h0M95.3 687.5h0M74.9 684.0h0M80.5 690.5h0M87.3 698.6h0M85.8 691.1h0M79.1 702.2h0M91.1 698.2h0M78.8 707.1h0M78.3 699.6h0M95.0 696.2h0M93.3 689.5h0M93.1 699.4h0M68.8 698.4h0M74.2 704.0h0M78.8 693.5h0M87.5 694.1h0M87.6 692.4h0M90.4 697.3h0M89.5 677.0h0M94.7 698.4h0M67.9 693.8h0M86.9 704.7h0M71.7 705.9h0M78.2 714.0h0M82.2 700.7h0M83.0 687.1h0M92.5 704.9h0M96.0 705.6h0M81.3 683.2h0M79.8 689.8h0M76.4 698.7h0M87.8 694.6h0M86.2 695.3h0M85.2 701.9h0M94.0 692.8h0M67.8 704.4h0M83.8 704.3h0M70.0 690.9h0M86.7 685.7h0M78.8 700.3h0M90.6 710.3h0M78.5 684.5h0M87.6 703.9h0M88.1 686.9h0M90.1 703.3h0M90.1 693.5h0M85.9 702.4h0M81.5 682.0h0M86.6 700.1h0M83.2 702.5h0M79.5 694.3h0M80.9 699.6h0M98.4 697.5h0M99.0 711.8h0M90.5 701.8h0M99.6 698.5h0M85.2 688.0h0M86.3 706.9h0M88.5 700.1h0M82.5 696.9h0M69.6 701.5h0M82.6 687.2h0M79.2 688.5h0M90.2 705.5h0M70.5 700.6h0M93.2 693.4h0M72.0 688.1h0M78.4 697.3h0M83.4 681.2h0M88.5 685.5h0M94.0 689.1h0M79.7 688.4h0M77.4 704.7h0M91.1 702.0h0M89.3 685.6h0M80.8 691.0h0M75.1 697.9h0M79.1 689.4h0M77.3 679.7h0M87.3 707.1h0M87.6 689.2h0M59.2 693.0h0M94.6 700.5h0M89.7 709.0h0M95.0 694.9h0M92.4 703.8h0M71.1 690.5h0M71.8 692.7h0M91.2 689.3h0M63.2 702.4h0M85.1 707.8h0M70.6 701.7h0M98.4 715.4h0M82.2 697.6h0M81.6 703.0h0M93.5 698.6h0M70.9 699.2h0" stroke="#9b97c9" stroke-width="1.1" stroke-linecap="round" fill="none"/>
<ellipse cx="113" cy="700" rx="25" ry="17" transform="rotate(25 113 700)" fill="url(#rgLG)" opacity="0.95" filter="url(#rough)"/>
<path d="M109.7 715.3h0M126.5 702.3h0M110.1 717.3h0M120.7 717.2h0M123.1 693.1h0M98.9 696.1h0M107.5 724.7h0M99.8 705.4h0M126.8 693.1h0M129.4 709.3h0M105.3 706.6h0M97.3 699.3h0M134.2 704.7h0M128.7 715.9h0M131.4 701.4h0M120.0 719.4h0M137.6 716.4h0M108.5 715.9h0M131.6 701.3h0M116.9 722.3h0M102.6 686.8h0M108.4 683.9h0M124.1 690.4h0M112.9 714.7h0M97.1 691.2h0M89.9 699.8h0M100.5 694.9h0M94.3 689.6h0M132.4 712.4h0M98.9 696.2h0M108.5 685.0h0M107.1 687.9h0M126.1 709.1h0M110.3 682.3h0M89.5 715.6h0M101.3 693.9h0M115.0 688.8h0M95.7 710.7h0M96.1 691.4h0M99.1 699.5h0M84.7 689.1h0M107.6 685.8h0M104.2 708.3h0M105.4 686.1h0M127.6 711.9h0M125.8 698.5h0M127.8 701.5h0M108.0 685.8h0M127.7 700.6h0M105.4 688.4h0M112.9 688.6h0M124.0 687.9h0M126.5 693.5h0M103.9 682.1h0M124.1 709.7h0M122.4 693.4h0M96.7 683.6h0M128.5 708.8h0M125.8 726.2h0M126.7 719.4h0M128.0 713.8h0M114.9 685.8h0M105.6 687.2h0M87.1 696.6h0M102.7 722.7h0M127.5 708.9h0M101.1 710.0h0M116.9 720.9h0M100.3 703.6h0M96.3 698.6h0M119.1 718.2h0M99.2 704.6h0M94.8 704.3h0M132.1 705.3h0M135.2 723.1h0M113.5 685.9h0M101.7 706.5h0M133.2 709.4h0M89.7 701.0h0M97.7 704.0h0M99.4 685.1h0M98.5 699.6h0M128.3 692.5h0M130.0 715.1h0M127.3 692.2h0M129.2 696.1h0M110.7 683.2h0M97.3 689.2h0M112.4 716.2h0M104.0 688.1h0M106.3 714.2h0M125.4 716.9h0M96.8 686.2h0M125.4 698.4h0M98.5 695.6h0M114.6 715.2h0M100.7 703.8h0M100.2 700.7h0M121.4 712.9h0M141.4 722.5h0M124.1 697.1h0M131.6 705.2h0M132.3 690.4h0M95.5 688.2h0M86.0 696.6h0M125.7 725.4h0M107.7 710.0h0M103.0 680.5h0M146.5 712.8h0M135.6 702.2h0M122.1 691.2h0M102.6 676.8h0M121.9 685.3h0M101.4 687.7h0M134.1 718.0h0M108.9 722.9h0M132.9 698.0h0M127.6 722.4h0M125.2 695.4h0M114.4 689.4h0M119.9 721.3h0M115.3 710.6h0M96.2 713.9h0M127.9 727.3h0M130.7 718.5h0M83.3 711.1h0M136.5 714.0h0M123.1 695.0h0M114.8 717.2h0M106.2 690.0h0M104.1 687.6h0M122.5 693.5h0M130.1 695.2h0M114.2 719.3h0M99.8 703.5h0M125.5 706.3h0M99.7 697.7h0M120.9 715.2h0M127.7 692.7h0M100.7 708.9h0M96.0 704.3h0M129.5 718.0h0M125.9 703.0h0M100.6 693.5h0M106.1 716.4h0M126.4 708.2h0M103.8 690.6h0M128.3 697.6h0M100.5 694.7h0M99.2 686.3h0M117.4 712.3h0M131.4 692.3h0M123.5 695.4h0M87.8 705.2h0M81.6 699.1h0M127.8 690.7h0M127.1 692.6h0M123.4 708.8h0M138.3 709.4h0M100.0 698.6h0M131.7 707.5h0M128.5 702.9h0M127.5 691.9h0M91.9 687.9h0M102.9 708.9h0M119.8 712.4h0M126.2 703.2h0M121.8 710.6h0M124.7 695.2h0M101.5 689.7h0M112.4 715.1h0M99.1 696.7h0M111.0 710.3h0M99.5 702.5h0M103.1 691.6h0M95.6 722.3h0M101.8 712.1h0M94.9 698.7h0M130.8 706.0h0M99.2 705.9h0M102.3 685.5h0M122.3 694.3h0M117.5 688.2h0M121.9 691.1h0M119.1 690.9h0M85.8 690.9h0M124.2 689.7h0M99.8 701.8h0M124.2 690.2h0M117.6 712.3h0M129.4 695.3h0M88.6 701.1h0M103.4 691.3h0M131.5 702.7h0M79.5 679.7h0M101.0 693.3h0M100.4 704.5h0M90.6 711.2h0M111.2 689.1h0M99.4 701.1h0M96.8 687.0h0M125.7 703.5h0M97.5 698.3h0M95.2 690.7h0M133.0 709.4h0M128.8 699.7h0M136.1 688.3h0M101.0 693.7h0M106.8 688.4h0M83.5 713.4h0M93.9 701.8h0M102.1 709.6h0M124.5 695.5h0M99.7 694.3h0M106.2 711.2h0M80.1 681.7h0M94.5 691.3h0M102.7 686.3h0M126.4 721.4h0M130.7 718.2h0M94.2 682.8h0M97.6 698.4h0M134.2 705.0h0M96.7 714.2h0M97.0 681.5h0M86.9 691.8h0M98.1 714.0h0M93.8 694.7h0M122.0 718.9h0M117.3 715.4h0M91.8 698.9h0M98.2 706.5h0M87.5 707.9h0M110.8 724.5h0M127.0 699.7h0M100.3 693.4h0M104.4 713.8h0M98.0 703.0h0M115.4 720.3h0M101.5 708.1h0M120.4 711.5h0M101.8 703.3h0M120.4 715.4h0M131.3 701.6h0M132.8 699.6h0M127.3 710.4h0M97.1 700.7h0M124.6 722.5h0M116.9 688.4h0M124.1 695.3h0M96.2 698.9h0M127.3 694.5h0M125.5 696.3h0M122.8 717.3h0M110.6 722.4h0M119.2 687.7h0M129.7 702.8h0M118.1 687.2h0M126.2 712.2h0M99.9 698.9h0M113.5 686.2h0M107.5 709.5h0M128.5 705.5h0M113.9 688.0h0M98.9 715.3h0M117.8 712.0h0M97.4 710.0h0M97.8 689.9h0M115.7 714.4h0M121.5 688.8h0M112.9 715.0h0M130.5 709.0h0M124.3 714.1h0M126.8 705.4h0M119.7 710.0h0M128.5 701.6h0M101.7 682.3h0M129.4 712.3h0M114.0 713.6h0M132.9 694.9h0M116.3 717.8h0M126.3 694.2h0M100.7 703.3h0M94.4 706.8h0M101.6 690.0h0M124.9 693.5h0M138.3 702.4h0M100.6 694.7h0M83.5 698.2h0M129.7 695.1h0M104.5 710.5h0M108.7 685.3h0M136.5 710.6h0M138.6 696.3h0M128.2 704.7h0M111.0 688.2h0M104.5 708.2h0M125.6 702.8h0M94.4 710.9h0M123.4 712.8h0M100.0 703.3h0M99.7 699.8h0M126.0 698.8h0M123.8 720.1h0M99.4 694.8h0M110.3 711.3h0M119.7 710.6h0M90.7 699.5h0M99.0 690.1h0M129.8 708.4h0M124.4 718.4h0M127.1 704.0h0M126.4 708.0h0M127.3 698.9h0M125.6 697.6h0M134.6 703.7h0M116.2 716.6h0M98.1 708.2h0M110.6 685.4h0M119.3 683.5h0M96.8 689.5h0M125.3 723.0h0M124.2 695.2h0M123.0 717.6h0M114.0 711.8h0M103.6 710.6h0M125.3 697.8h0M111.8 685.8h0M91.6 692.9h0M114.6 718.9h0M126.5 697.7h0M109.8 721.3h0M98.6 696.2h0M126.5 707.2h0M80.4 695.1h0M107.0 708.2h0M107.3 709.9h0M88.5 687.7h0M98.5 689.1h0M129.8 698.0h0M106.8 688.0h0M125.6 690.7h0M129.5 703.5h0M101.2 711.2h0M116.4 690.6h0M89.2 717.3h0M133.4 713.5h0M115.5 689.8h0M127.3 701.3h0M90.8 679.5h0M96.7 706.9h0M90.6 700.8h0M122.2 708.8h0M100.4 685.8h0M119.1 682.2h0M127.2 692.0h0M113.7 711.4h0M127.1 697.9h0M99.5 709.1h0M125.5 710.3h0M103.2 704.9h0M127.0 701.5h0M104.0 687.3h0M100.6 691.7h0M100.3 690.4h0M114.5 687.0h0M126.5 684.0h0M89.4 689.0h0M97.1 695.6h0M122.9 708.8h0M118.9 685.0h0M125.6 704.8h0M95.6 713.3h0M122.4 715.4h0M124.6 711.7h0M91.5 703.8h0M123.7 709.9h0M88.6 703.2h0M128.4 703.5h0M118.9 690.2h0M91.6 722.1h0M111.2 711.5h0M118.2 721.0h0M119.6 688.0h0M90.1 694.4h0M116.6 714.8h0M97.2 686.7h0M110.8 721.1h0M96.4 706.7h0M143.6 694.6h0M127.9 726.6h0M135.1 714.8h0M118.0 716.3h0M93.4 711.9h0M115.4 685.4h0M108.2 716.4h0M142.9 720.9h0M97.2 713.5h0M118.9 710.2h0M114.8 714.8h0M118.3 716.3h0M102.3 703.8h0M109.4 725.6h0M129.3 698.9h0M123.8 708.2h0M99.3 700.5h0M112.0 687.8h0M101.6 691.8h0M111.3 677.7h0M128.6 698.0h0M83.5 701.8h0M99.2 683.5h0M107.6 711.0h0M128.1 695.3h0M108.6 688.9h0M92.7 716.8h0M130.1 709.6h0M123.9 696.3h0M90.8 676.3h0M109.3 712.2h0M99.6 692.3h0M107.2 689.1h0M110.5 712.2h0M102.7 718.9h0M95.5 695.7h0M126.4 701.4h0M101.0 692.9h0M115.9 719.1h0M97.2 696.8h0M129.7 693.5h0M93.7 705.5h0M121.3 693.3h0M77.1 706.0h0M93.4 695.2h0M112.6 711.9h0M104.5 684.9h0M121.5 692.1h0M97.5 701.0h0M99.5 702.3h0M130.0 706.6h0M98.3 704.1h0M101.6 693.0h0M130.6 700.7h0M126.0 708.6h0M89.8 695.7h0M100.2 698.1h0M93.8 692.2h0M109.8 686.5h0M111.4 688.8h0M121.1 689.6h0M126.7 716.8h0M117.9 690.6h0M125.9 711.9h0M114.1 690.1h0M126.1 712.1h0M98.6 699.9h0M132.0 711.0h0M102.9 705.2h0M143.4 718.6h0M124.9 696.6h0M130.1 697.6h0M100.3 696.5h0M126.8 701.0h0M103.7 714.3h0M103.2 711.0h0M122.0 692.9h0M86.9 697.3h0M90.0 699.0h0M126.9 701.2h0M120.8 693.3h0M110.5 687.4h0M126.7 687.2h0M97.1 700.5h0M103.8 719.4h0M126.0 712.3h0M130.1 715.2h0M131.1 686.8h0M98.5 703.3h0M110.7 710.9h0M149.0 705.6h0M126.4 702.2h0M117.2 691.1h0M91.3 694.6h0M104.9 689.8h0M102.2 717.9h0M95.9 681.1h0M91.5 712.0h0M107.2 714.3h0M115.0 717.8h0M97.4 689.5h0M124.3 707.8h0M122.3 712.9h0M118.7 712.2h0M117.2 724.8h0M96.9 710.8h0M124.3 697.6h0M100.0 694.5h0M115.8 711.5h0M106.7 719.1h0M90.8 692.7h0M136.7 716.5h0M93.9 694.3h0M100.8 689.3h0M109.1 715.3h0M101.3 687.2h0M108.5 711.1h0M104.8 687.6h0M107.5 714.2h0M90.2 715.0h0M131.3 710.3h0M100.3 695.6h0M124.5 688.5h0M118.2 689.9h0M112.7 713.1h0M128.4 695.5h0M123.6 714.5h0M129.3 705.6h0M131.7 692.6h0M130.4 701.0h0M127.7 694.3h0M126.7 693.7h0M126.5 703.7h0M132.0 707.6h0M105.6 717.0h0M89.5 693.3h0M111.6 687.1h0M94.6 703.7h0M122.4 691.8h0M133.3 705.6h0M106.9 685.1h0M101.4 705.8h0M127.8 694.7h0M125.0 705.9h0M95.0 708.7h0M108.3 685.6h0M120.6 714.4h0M129.8 714.7h0M108.7 720.8h0M100.5 684.8h0M100.7 701.2h0M126.1 703.2h0M116.3 725.0h0M92.7 697.6h0M120.9 711.1h0M124.4 696.9h0M89.8 707.5h0M128.3 699.5h0M123.6 711.7h0M84.9 698.3h0M99.0 704.9h0M98.1 692.2h0M125.5 699.9h0M86.5 710.3h0M128.9 716.2h0M111.8 688.8h0M94.4 698.0h0M129.6 699.6h0M135.9 708.2h0M117.7 712.6h0M95.6 703.2h0M128.6 706.3h0M123.3 692.6h0M86.8 707.5h0M114.2 687.8h0M98.4 687.7h0M117.7 711.0h0M140.6 711.2h0M111.6 722.3h0M91.7 698.1h0M105.7 686.1h0M100.3 690.1h0M91.4 709.1h0M123.3 694.5h0M90.9 710.7h0M122.9 710.0h0M118.7 689.6h0M93.2 701.9h0M103.3 679.4h0M106.3 687.3h0M131.0 704.3h0M114.3 721.2h0M101.4 692.5h0M108.5 683.6h0M92.4 692.9h0M110.3 688.5h0M99.1 700.9h0M102.9 715.8h0M124.1 690.4h0M117.6 714.5h0M117.5 691.2h0M135.1 701.7h0M118.5 687.6h0M105.9 684.4h0M119.8 715.2h0M113.6 688.5h0M101.3 686.4h0M108.7 678.5h0M127.5 707.8h0M97.2 689.1h0M130.0 714.7h0M102.3 706.0h0M110.2 717.1h0M111.2 719.1h0M121.8 693.5h0M129.4 712.6h0M124.4 707.4h0M105.6 687.0h0M99.5 693.3h0M108.6 719.6h0M131.8 710.5h0M96.2 697.3h0M113.2 716.0h0M112.8 715.0h0M99.9 689.7h0M130.9 707.3h0M137.4 708.0h0M115.6 687.9h0M132.8 713.7h0M115.3 688.8h0M116.2 713.6h0M92.9 709.8h0M117.9 717.6h0M79.4 692.8h0M131.9 702.1h0M92.6 695.5h0M103.2 691.2h0M134.2 715.9h0M114.8 682.2h0M126.7 692.3h0M111.4 711.9h0M127.2 694.2h0M125.7 698.7h0M102.5 684.7h0M97.6 694.9h0M121.1 711.9h0M98.3 697.0h0M106.4 687.1h0M110.2 686.9h0M108.7 712.4h0M120.9 722.9h0M104.3 726.8h0M123.8 690.5h0M105.8 686.7h0M132.3 708.6h0M105.8 721.6h0M110.6 713.6h0M128.6 702.4h0M130.0 706.7h0M114.0 718.4h0M115.8 711.1h0M123.3 717.0h0M135.6 700.5h0M132.9 712.3h0M96.9 688.9h0M98.5 693.7h0M100.9 687.1h0M127.7 694.0h0M126.6 704.9h0M117.1 686.6h0M96.1 679.3h0M112.5 688.5h0M98.3 700.9h0M105.3 682.9h0M117.1 687.4h0M133.2 702.7h0M110.5 685.0h0M90.2 700.7h0M115.5 724.8h0M95.6 698.4h0M128.6 706.5h0M131.4 703.8h0M139.9 690.1h0M135.7 700.0h0M98.9 709.4h0M123.5 688.8h0M120.8 692.8h0M124.0 718.3h0M102.6 708.0h0M101.0 703.3h0M99.1 691.8h0M90.8 687.7h0M89.0 703.5h0M111.3 679.7h0M99.8 717.0h0M116.5 677.2h0" stroke="#aec594" stroke-width="1.1" stroke-linecap="round" fill="none"/>
<ellipse cx="132.5" cy="640" rx="24" ry="28" transform="rotate(0 132.5 640)" fill="url(#rgO)" opacity="1" filter="url(#rough)"/>
<path d="M125.7 621.3h0M132.0 617.6h0M149.9 642.3h0M148.6 635.2h0M118.4 629.3h0M118.0 627.8h0M142.7 649.4h0M149.7 635.3h0M129.6 659.5h0M145.2 620.3h0M124.2 625.5h0M123.9 626.3h0M154.9 639.7h0M152.7 660.4h0M120.4 653.9h0M145.6 655.0h0M132.7 660.4h0M121.2 617.3h0M114.9 643.7h0M146.0 633.5h0M132.0 623.6h0M152.7 613.7h0M145.7 634.5h0M137.2 656.8h0M145.6 638.6h0M124.6 627.5h0M131.6 624.3h0M133.8 654.5h0M119.3 628.1h0M145.2 655.9h0M150.3 631.7h0M134.7 656.2h0M139.4 657.9h0M108.9 622.2h0M118.3 649.9h0M160.4 639.4h0M104.6 634.8h0M96.9 638.9h0M136.9 668.5h0M123.1 654.6h0M143.8 657.7h0M148.2 639.4h0M115.7 631.3h0M153.7 658.8h0M117.5 637.3h0M112.3 651.2h0M120.5 616.3h0M156.7 645.8h0M155.2 632.0h0M120.1 647.2h0M144.6 619.6h0M124.6 627.5h0M124.2 625.6h0M140.3 611.6h0M154.3 649.3h0M115.4 636.2h0M149.4 647.7h0M122.8 618.3h0M124.6 621.2h0M152.0 632.6h0M107.8 654.3h0M122.3 620.1h0M145.9 647.3h0M146.6 633.8h0M121.4 654.2h0M112.4 660.4h0M134.8 614.1h0M122.3 625.5h0M124.1 605.7h0M139.0 658.5h0M139.3 624.2h0M146.2 616.5h0M146.7 641.2h0M140.7 656.0h0M130.8 658.4h0M152.7 656.2h0M125.4 652.9h0M119.9 625.3h0M130.8 660.2h0M145.8 632.7h0M138.5 616.5h0M145.2 648.8h0M139.0 657.1h0M139.3 617.3h0M124.8 625.8h0M114.4 634.6h0M150.6 642.6h0M121.2 624.2h0M113.9 619.2h0M135.4 614.6h0M126.4 606.1h0M125.2 657.1h0M147.3 645.3h0M153.9 626.4h0M142.5 650.0h0M129.5 624.8h0M127.9 617.5h0M156.6 624.2h0M116.8 644.2h0M157.5 633.8h0M149.9 647.2h0M157.1 654.9h0M139.8 653.0h0M141.5 657.3h0M131.4 659.1h0M151.9 620.0h0M104.1 642.3h0M114.7 643.1h0M142.5 666.5h0M149.0 652.2h0M141.4 656.8h0M113.9 649.2h0M142.3 627.2h0M152.0 639.8h0M113.2 620.4h0M144.8 619.1h0M136.1 664.1h0M118.7 648.7h0M147.2 624.8h0M133.4 665.0h0M144.2 601.0h0M129.9 617.7h0M144.9 617.4h0M150.1 630.8h0M125.1 622.9h0M154.7 644.7h0M121.8 656.7h0M137.2 612.5h0M141.7 607.6h0M126.5 655.7h0M147.6 626.7h0M123.7 660.7h0M114.1 625.5h0M119.4 638.3h0M112.0 650.0h0M149.6 634.0h0M150.5 656.6h0M147.5 643.1h0M115.8 647.0h0M111.4 634.4h0M135.8 658.9h0M159.2 610.8h0M125.9 609.1h0M123.6 656.5h0M138.1 654.2h0M115.4 639.1h0M150.4 661.5h0M147.3 639.6h0M144.8 631.2h0M133.9 612.1h0M115.6 658.7h0M107.9 636.6h0M155.7 618.8h0M105.9 635.0h0M118.4 621.5h0M118.6 647.3h0M120.4 647.1h0M128.6 618.2h0M112.6 620.7h0M137.0 655.4h0M129.0 618.1h0M128.2 619.7h0M129.4 661.3h0M137.5 621.0h0M106.8 603.8h0M122.4 656.7h0M127.0 653.5h0M137.8 653.1h0M103.8 649.4h0M104.9 639.6h0M123.5 605.9h0M145.7 657.7h0M143.4 622.3h0M122.6 653.3h0M116.5 633.0h0M129.9 606.6h0M144.6 620.4h0M117.9 629.0h0M117.7 662.4h0M149.0 624.6h0M119.2 641.8h0M116.5 657.1h0M124.2 652.3h0M147.3 631.6h0M120.5 650.6h0M116.0 658.0h0M121.9 658.0h0M141.9 655.1h0M151.9 646.3h0M130.6 618.9h0M156.1 620.8h0M107.8 628.1h0M154.6 652.2h0M132.2 612.7h0M145.9 623.5h0M106.6 617.4h0M128.3 622.3h0M139.1 655.0h0M118.3 607.8h0M112.0 663.7h0M169.4 630.5h0M121.4 655.1h0M145.7 645.3h0M113.6 646.4h0M144.0 628.0h0M153.9 628.7h0M145.2 631.5h0M119.4 651.8h0M153.2 638.7h0M135.6 625.2h0M153.1 638.9h0M117.8 648.6h0M115.7 630.1h0M108.0 654.2h0M157.9 629.1h0M149.3 625.6h0M137.6 615.3h0M150.0 637.9h0M124.4 657.6h0M131.3 656.5h0M144.9 658.1h0M150.0 629.5h0M144.0 655.5h0M110.0 624.9h0M130.4 621.3h0M143.5 648.3h0M114.7 657.4h0M170.3 621.6h0M119.1 646.8h0M139.5 618.8h0M110.4 644.1h0M109.6 654.8h0M146.8 638.6h0M132.6 660.9h0M151.7 650.2h0M128.9 618.9h0M117.7 661.2h0M137.8 653.5h0M145.7 629.9h0M151.9 634.5h0M122.8 628.5h0M153.3 653.0h0M138.5 621.2h0M111.7 643.2h0M157.8 630.3h0M141.8 655.0h0M119.3 642.6h0M114.1 631.4h0M164.0 628.2h0M142.2 652.3h0M122.3 628.0h0M149.1 632.9h0M114.3 660.2h0M122.9 628.1h0M143.6 624.9h0M122.5 652.5h0M123.1 668.4h0M133.6 670.6h0M141.4 623.2h0M121.9 610.8h0M149.8 638.1h0M111.1 650.6h0M114.4 625.4h0M141.8 659.1h0M153.9 654.3h0M129.9 662.7h0M148.2 606.2h0M147.1 651.8h0M121.4 653.0h0M167.7 625.5h0M148.6 638.6h0M130.3 624.1h0M116.9 657.8h0M115.0 626.2h0M139.8 652.4h0M119.3 632.4h0M120.2 647.9h0M122.0 616.9h0M119.5 644.2h0M146.4 631.6h0M146.6 648.8h0M105.6 634.8h0M147.7 628.4h0M142.1 624.4h0M141.4 653.9h0M145.3 645.2h0M131.6 618.9h0M118.4 600.2h0M118.2 650.1h0M145.5 646.4h0M158.3 635.3h0M143.5 648.6h0M126.0 627.1h0M151.8 628.7h0M125.5 621.1h0M104.8 620.9h0M150.0 644.3h0M116.5 628.8h0M122.3 654.7h0M120.4 653.5h0M127.1 671.1h0M148.0 649.6h0M143.3 625.9h0M145.6 658.2h0M119.9 651.8h0M118.3 657.4h0M149.5 626.3h0M142.6 627.0h0M148.7 635.8h0M146.6 634.4h0M137.1 654.1h0M122.9 650.5h0M130.2 654.5h0M134.8 619.5h0M135.2 625.0h0M132.7 665.5h0M127.0 615.6h0M114.0 640.9h0M120.3 654.7h0M134.5 660.0h0M122.8 623.5h0M120.8 624.5h0M146.1 636.2h0M118.1 608.4h0M137.8 619.0h0M130.8 654.3h0M126.7 611.2h0M146.0 616.8h0M120.3 668.1h0M127.5 664.7h0M146.9 615.9h0M150.7 655.4h0M119.0 653.7h0M123.9 655.4h0M149.6 641.4h0M139.5 660.8h0M119.6 631.2h0M125.0 655.2h0M121.5 630.9h0M116.3 657.4h0M157.6 661.4h0M133.9 662.0h0M133.1 656.1h0M138.5 616.1h0M130.1 659.8h0M98.9 641.8h0M134.7 656.7h0M136.4 614.0h0M131.3 659.4h0M98.8 651.4h0M128.4 625.5h0M119.1 639.0h0M116.7 655.3h0M138.4 661.9h0M121.4 629.0h0M145.2 651.2h0M122.0 658.8h0M123.6 623.4h0M134.7 660.1h0M111.6 644.0h0M119.3 653.0h0M149.4 634.4h0M126.4 626.8h0M140.2 655.2h0M116.7 641.2h0M126.2 625.6h0M117.6 623.7h0M112.2 646.1h0M114.9 630.0h0M153.5 633.5h0M160.6 623.5h0M139.1 626.4h0M156.6 639.6h0M112.4 646.4h0M127.2 625.5h0M127.9 664.6h0M151.7 623.1h0M151.3 627.8h0M154.5 652.5h0M117.5 633.9h0M142.0 666.5h0M128.8 658.8h0M119.0 639.0h0M151.5 642.0h0M131.8 611.6h0M121.8 655.3h0M112.3 637.3h0M138.4 657.7h0M119.8 656.2h0M123.8 629.2h0M121.7 651.1h0M153.1 638.4h0M132.0 661.3h0M117.7 634.0h0M145.6 621.5h0M123.3 617.3h0M116.6 646.3h0M136.7 661.9h0M138.7 654.6h0M110.6 637.1h0M158.9 640.0h0M134.1 623.5h0M117.6 631.2h0M123.4 650.3h0M147.6 646.4h0M114.7 632.3h0M150.2 651.8h0M118.5 654.1h0M126.0 617.7h0M151.3 643.3h0M109.9 652.2h0M157.6 650.4h0M114.3 646.6h0M124.7 626.1h0M117.9 643.5h0M133.0 655.6h0M116.4 656.0h0M121.1 626.6h0M128.2 619.1h0M137.1 656.4h0M123.2 623.9h0M125.5 654.5h0M112.5 631.5h0M146.4 652.1h0M157.0 649.2h0M150.7 641.9h0M121.8 648.9h0M119.3 618.9h0M117.4 651.5h0M114.3 646.2h0M155.2 626.9h0M133.6 655.6h0M108.5 646.5h0M127.5 655.2h0M126.7 657.6h0M113.7 623.0h0M127.2 623.9h0M129.9 657.0h0M150.3 649.6h0M142.8 649.7h0M114.2 638.3h0M156.6 633.9h0M160.0 635.2h0M131.5 660.8h0M149.1 638.9h0M137.9 624.8h0M152.6 649.3h0M114.8 643.4h0M146.4 649.6h0M122.1 623.6h0M126.2 619.2h0M120.0 633.5h0M143.2 665.2h0M152.0 633.6h0M131.7 619.0h0M152.7 628.8h0M139.2 614.7h0M142.1 623.7h0M142.8 655.2h0M136.2 661.5h0M121.8 658.9h0M155.3 639.3h0M147.2 650.3h0M120.6 632.6h0M156.4 635.3h0M148.3 654.6h0M150.5 641.4h0M139.0 621.0h0M112.5 630.9h0M140.6 652.6h0M139.0 657.1h0M114.6 628.6h0M121.7 627.3h0M151.1 627.2h0M125.3 609.2h0M122.2 624.5h0M150.9 630.0h0M144.8 650.4h0M122.7 612.9h0M169.4 623.8h0M113.3 645.6h0M145.6 641.6h0M108.2 653.3h0M113.3 650.1h0M135.3 623.2h0M124.2 628.1h0M125.5 654.7h0M113.1 648.8h0M122.8 606.2h0M140.4 625.4h0M147.4 650.8h0M137.3 623.4h0M144.1 650.7h0M155.8 610.4h0M144.8 626.3h0M128.2 664.7h0M143.7 613.4h0M132.7 656.0h0M133.6 622.1h0M125.4 653.4h0M145.9 632.6h0M145.2 631.3h0M118.4 643.6h0M128.1 604.4h0M123.1 630.0h0M123.1 628.2h0M124.7 607.9h0M120.2 620.1h0M135.2 658.2h0M117.1 636.4h0M125.5 654.3h0M151.7 632.1h0M120.7 656.6h0M139.2 653.9h0M136.6 608.1h0M105.5 638.3h0M143.9 658.1h0M120.9 649.2h0M127.9 623.9h0M147.4 653.6h0M141.6 616.9h0M138.1 666.0h0M155.6 637.4h0M134.5 616.9h0M118.0 620.1h0M145.5 612.7h0M125.7 656.5h0M123.5 615.3h0M132.4 655.4h0M147.5 656.0h0M126.9 621.4h0M146.9 653.3h0M149.7 647.8h0M146.8 649.2h0M120.4 615.4h0M133.5 660.2h0M128.0 616.9h0M115.0 635.1h0M143.3 625.8h0M156.5 623.0h0M118.4 644.7h0M112.8 638.1h0M145.7 639.1h0M116.2 653.7h0M144.2 651.7h0M130.9 608.7h0M153.8 622.8h0M144.2 633.6h0M147.0 630.8h0M144.8 619.0h0M117.3 654.5h0M136.9 658.9h0M139.3 659.3h0M111.1 624.8h0M147.8 633.3h0M145.1 646.2h0M145.3 663.1h0M120.4 631.3h0M127.1 653.3h0M102.3 648.5h0M121.1 656.2h0M118.7 636.2h0M123.8 622.4h0M113.7 656.1h0M145.8 646.2h0M145.3 643.9h0M150.9 643.0h0M137.9 623.7h0M149.4 636.0h0M116.4 635.6h0M135.2 661.5h0M146.1 622.2h0M134.5 658.3h0M127.0 657.8h0M121.1 655.5h0M113.5 627.7h0M137.7 659.4h0M114.2 632.0h0M131.5 657.6h0M134.0 621.6h0M115.0 645.8h0M117.4 635.8h0M130.6 623.3h0M141.2 656.6h0M146.7 652.5h0M132.3 654.9h0M129.5 662.7h0M132.5 619.6h0M159.9 627.2h0M110.2 648.3h0M154.1 641.2h0M127.7 654.2h0M135.3 618.9h0M118.2 660.3h0M136.3 624.1h0M148.4 656.4h0M153.9 625.2h0M150.0 643.0h0M133.6 655.2h0M115.5 639.3h0M138.2 655.7h0M103.3 653.1h0M139.4 657.0h0M116.1 620.0h0M109.3 655.8h0M115.8 664.1h0M106.2 628.6h0M149.0 653.9h0M135.4 618.0h0M136.4 619.1h0M125.3 656.3h0M116.3 649.6h0M158.3 644.8h0M117.0 653.0h0M111.8 642.0h0M127.9 654.6h0M145.7 642.2h0M152.5 649.2h0M160.0 632.1h0M127.2 619.4h0M115.0 625.0h0M151.4 637.9h0M146.1 628.0h0M108.7 652.7h0M170.1 652.3h0M155.1 655.9h0M142.6 621.6h0M149.6 644.0h0M119.1 640.6h0M140.9 651.7h0M116.4 643.7h0M110.6 625.8h0M118.7 638.8h0M144.1 633.1h0M145.4 625.6h0M130.1 617.6h0M126.6 657.8h0M136.5 655.0h0M116.1 626.1h0M141.8 617.9h0M129.4 618.2h0M120.6 620.8h0M117.8 638.0h0M147.1 630.6h0M124.0 625.7h0M113.2 639.3h0M119.1 646.3h0M150.8 640.9h0M151.6 615.9h0M149.6 622.8h0M125.9 617.0h0M134.6 660.3h0M147.4 618.7h0M144.1 650.5h0M150.6 636.9h0M149.8 646.2h0M151.5 647.5h0M153.2 618.7h0M132.6 665.7h0M112.9 646.4h0M140.1 656.9h0M119.1 663.3h0M118.9 648.7h0M127.0 655.7h0M143.7 631.1h0M132.1 656.1h0M129.3 659.8h0M109.2 647.3h0M136.3 610.3h0M109.4 649.7h0M132.4 671.5h0M115.3 636.0h0M148.3 656.5h0M121.2 653.9h0M118.9 643.5h0M123.5 655.2h0M137.6 660.4h0M137.6 616.9h0M124.8 612.4h0M131.8 655.1h0M139.2 624.6h0M151.6 636.1h0M143.4 604.4h0M121.7 624.2h0M161.0 655.7h0M147.7 644.0h0M108.0 648.3h0M120.9 625.9h0M115.0 632.0h0M153.4 643.9h0M142.2 652.7h0M126.3 660.9h0M124.5 617.7h0M121.6 650.2h0M119.6 662.5h0M149.5 615.8h0M133.9 624.4h0M136.0 623.8h0M151.7 651.8h0M126.9 616.7h0M139.3 612.3h0M133.8 619.8h0M144.9 657.1h0M112.1 643.6h0M113.5 636.8h0M145.0 622.3h0M128.9 662.7h0M137.7 625.5h0M119.0 634.6h0M120.1 648.2h0M154.3 652.0h0M124.8 623.4h0M138.7 620.9h0M113.2 634.2h0M140.3 652.5h0M148.0 626.4h0M122.0 648.5h0M127.4 668.3h0M136.0 620.5h0M126.3 657.8h0M112.0 640.0h0M116.9 656.5h0M113.3 629.4h0M103.8 631.2h0M157.0 638.2h0M129.5 625.8h0M123.0 655.6h0M149.1 638.5h0M145.8 647.1h0M151.0 624.7h0M126.9 655.3h0M114.6 664.9h0M150.3 633.2h0M154.2 635.6h0M125.7 625.4h0M130.8 619.9h0M147.6 617.3h0M145.3 619.6h0M130.0 658.9h0M123.4 653.2h0M149.4 653.2h0M119.3 660.3h0M145.9 666.0h0M114.3 625.4h0M145.8 645.8h0M129.0 601.3h0M103.1 669.7h0M104.3 630.2h0M108.8 623.4h0M154.7 628.7h0M131.6 661.0h0M122.3 651.8h0M134.0 658.4h0M153.1 637.8h0M112.7 643.8h0M158.3 631.6h0M100.3 632.9h0M130.4 620.6h0M111.7 628.7h0M139.6 660.9h0M146.6 642.1h0M131.8 660.7h0M147.8 617.3h0M132.9 622.6h0M105.0 618.6h0M145.5 649.8h0M107.9 645.2h0M147.5 651.3h0M143.5 651.8h0M115.3 642.3h0M109.2 628.8h0M147.2 639.2h0M119.6 623.7h0M132.7 658.1h0M119.2 616.8h0M132.0 621.7h0M148.0 631.1h0M146.3 642.4h0M122.0 629.0h0M130.9 659.9h0M122.3 660.4h0M127.7 655.8h0M100.0 651.4h0M155.0 623.4h0M130.9 619.6h0M140.9 622.7h0M129.7 665.0h0M161.5 651.2h0M149.8 624.8h0M146.6 651.7h0M139.9 617.6h0M144.4 618.1h0M135.2 615.8h0M102.9 619.1h0M136.5 608.7h0M146.0 639.7h0M128.4 625.4h0M116.2 649.3h0M125.4 612.0h0M124.4 660.1h0M131.3 623.3h0M120.0 648.5h0" stroke="#e0901c" stroke-width="1.1" stroke-linecap="round" fill="none"/>
<ellipse cx="160" cy="666" rx="31" ry="37" transform="rotate(0 160 666)" fill="url(#rgLB)" opacity="1" filter="url(#rough)"/>
<path d="M184.4 674.5h0M158.4 642.9h0M168.2 692.6h0M170.4 645.2h0M163.2 687.8h0M181.5 694.2h0M140.5 637.8h0M154.3 686.1h0M131.3 671.3h0M142.1 654.9h0M139.7 651.4h0M188.9 662.9h0M164.9 690.8h0M191.5 670.7h0M158.8 646.3h0M170.5 697.0h0M141.2 666.0h0M144.7 649.1h0M146.4 649.1h0M191.6 670.1h0M185.5 639.3h0M185.0 679.9h0M172.6 699.0h0M175.0 637.6h0M138.1 694.0h0M159.3 688.3h0M147.4 647.6h0M134.3 661.7h0M177.7 650.0h0M144.8 654.7h0M142.1 656.9h0M184.8 680.7h0M161.9 688.8h0M143.8 675.9h0M187.7 624.4h0M162.6 645.1h0M156.6 642.5h0M202.5 655.6h0M165.4 696.0h0M165.8 692.7h0M155.2 640.1h0M151.6 648.6h0M142.1 670.0h0M149.9 682.4h0M127.0 650.6h0M151.4 691.9h0M135.8 667.9h0M129.7 647.0h0M148.0 648.4h0M200.8 676.6h0M141.2 661.3h0M184.6 677.9h0M145.9 683.6h0M157.0 704.2h0M157.8 685.5h0M169.1 696.0h0M166.5 640.1h0M173.3 653.8h0M179.5 696.7h0M136.8 651.7h0M170.0 681.8h0M161.1 705.2h0M157.2 646.0h0M140.5 645.4h0M180.0 659.6h0M192.6 677.7h0M171.9 681.5h0M156.6 645.4h0M152.8 696.8h0M195.5 652.6h0M160.9 694.5h0M124.8 665.3h0M136.2 663.3h0M141.7 664.0h0M176.7 679.1h0M172.5 643.5h0M138.2 633.2h0M193.0 660.3h0M181.3 687.8h0M181.0 665.6h0M174.9 683.2h0M142.4 643.3h0M161.0 700.9h0M182.8 686.0h0M175.8 652.9h0M144.6 651.6h0M162.6 645.7h0M165.8 645.6h0M140.0 701.3h0M136.4 653.5h0M124.8 643.5h0M138.2 670.9h0M177.9 668.6h0M152.8 687.3h0M159.5 686.3h0M161.8 646.1h0M180.8 635.7h0M180.0 676.6h0M192.6 672.0h0M140.1 675.6h0M166.5 641.3h0M182.0 671.0h0M133.4 650.0h0M132.4 654.2h0M142.4 670.0h0M176.1 658.4h0M167.6 688.7h0M184.9 653.8h0M154.5 644.3h0M149.9 649.6h0M171.1 646.4h0M175.9 654.1h0M173.6 689.3h0M190.3 651.4h0M146.0 642.3h0M182.2 693.7h0M178.1 674.6h0M180.8 659.5h0M149.1 645.8h0M183.4 650.2h0M190.6 682.6h0M130.1 656.4h0M178.9 664.0h0M174.4 654.6h0M150.9 688.5h0M169.5 682.4h0M158.6 712.0h0M159.4 695.6h0M133.5 669.9h0M154.8 643.5h0M139.1 669.1h0M152.6 697.7h0M143.9 657.6h0M155.7 646.8h0M146.2 680.5h0M179.4 652.7h0M179.5 694.9h0M157.0 696.7h0M148.8 647.3h0M169.8 647.7h0M164.4 634.3h0M177.5 648.1h0M141.6 667.5h0M147.0 686.5h0M142.9 661.7h0M193.9 653.0h0M126.4 666.6h0M158.3 705.8h0M190.6 677.5h0M181.6 658.8h0M146.0 653.0h0M185.5 640.3h0M164.9 642.1h0M192.5 683.7h0M139.1 656.0h0M176.0 690.5h0M190.4 660.5h0M173.2 627.1h0M156.5 645.2h0M174.9 639.2h0M145.9 648.0h0M149.9 696.8h0M196.5 686.4h0M171.6 649.5h0M127.5 677.6h0M157.1 686.5h0M171.0 682.1h0M196.7 681.4h0M184.2 693.9h0M181.9 673.2h0M139.8 680.0h0M145.4 677.9h0M156.9 708.3h0M142.0 672.0h0M156.8 642.0h0M175.3 686.6h0M169.6 642.6h0M142.3 676.3h0M168.1 633.3h0M153.3 647.3h0M201.0 655.2h0M189.4 637.9h0M192.1 700.8h0M175.4 649.5h0M185.6 690.7h0M136.5 651.2h0M155.2 687.6h0M158.3 698.3h0M166.6 690.0h0M175.2 675.5h0M135.4 662.2h0M153.4 695.4h0M163.3 690.2h0M155.5 646.8h0M175.2 651.1h0M177.5 703.5h0M145.2 653.1h0M149.0 646.9h0M183.1 664.9h0M176.8 660.9h0M178.2 676.3h0M166.0 692.3h0M172.0 689.4h0M144.1 648.3h0M184.9 647.1h0M162.4 643.2h0M161.6 704.0h0M200.0 658.9h0M148.2 693.6h0M150.7 637.4h0M141.4 685.2h0M149.8 648.6h0M186.8 685.6h0M190.3 685.5h0M161.8 640.7h0M143.6 678.4h0M129.5 653.5h0M141.7 665.1h0M151.8 630.5h0M161.7 644.9h0M176.0 677.7h0M185.6 643.6h0M172.1 692.3h0M166.0 647.8h0M151.0 683.6h0M153.9 699.2h0M162.9 685.3h0M150.9 649.1h0M202.3 670.2h0M155.9 686.8h0M180.1 694.0h0M157.7 686.2h0M162.8 689.0h0M174.0 679.5h0M160.1 642.7h0M178.0 653.7h0M154.9 637.0h0M173.8 650.5h0M161.2 637.6h0M157.2 689.5h0M139.4 661.5h0M177.2 695.1h0M189.4 626.9h0M139.2 698.1h0M200.4 676.9h0M147.9 689.4h0M125.2 669.0h0M191.6 649.1h0M143.4 657.8h0M162.7 644.1h0M170.4 649.5h0M157.1 644.0h0M147.6 650.4h0M179.7 647.5h0M158.2 687.6h0M198.8 669.2h0M142.7 663.7h0M178.5 653.5h0M187.7 680.6h0M156.4 634.1h0M168.7 641.8h0M132.4 674.8h0M179.9 615.4h0M179.5 660.4h0M159.1 641.1h0M145.8 677.7h0M161.2 699.5h0M174.6 644.7h0M153.4 647.2h0M141.3 655.1h0M162.0 698.4h0M188.8 672.9h0M172.6 634.2h0M162.4 706.3h0M178.3 659.6h0M184.9 686.3h0M164.1 709.7h0M175.5 640.6h0M141.3 653.7h0M150.7 691.3h0M162.4 636.4h0M152.9 685.6h0M181.6 665.0h0M132.9 697.2h0M161.7 709.3h0M152.3 688.9h0M178.3 648.8h0M182.9 714.1h0M157.1 646.1h0M140.9 649.3h0M165.0 641.2h0M175.8 673.4h0M158.3 689.3h0M141.2 660.8h0M185.5 688.3h0M143.3 695.3h0M191.3 631.5h0M184.0 685.0h0M172.9 636.0h0M199.7 679.2h0M170.0 704.2h0M179.0 680.0h0M174.7 686.3h0M175.5 648.9h0M153.3 644.1h0M193.0 680.2h0M163.5 645.9h0M145.4 655.4h0M160.9 645.1h0M157.1 686.2h0M133.6 662.4h0M140.8 665.0h0M138.5 664.8h0M173.5 652.1h0M166.1 641.2h0M186.2 666.1h0M145.4 685.5h0M137.9 635.9h0M142.1 691.5h0M179.4 690.9h0M138.2 672.6h0M190.3 643.6h0M175.8 684.5h0M191.4 671.6h0M164.7 632.1h0M182.4 661.1h0M186.4 661.4h0M171.5 640.4h0M178.8 671.4h0M179.5 701.0h0M164.9 645.4h0M157.2 646.1h0M175.3 645.0h0M175.3 689.0h0M161.0 695.4h0M156.9 641.0h0M146.7 646.2h0M191.7 668.7h0M139.5 663.3h0M180.5 655.2h0M136.6 663.7h0M163.4 631.6h0M135.3 675.7h0M172.9 680.6h0M161.4 637.0h0M180.7 660.5h0M175.3 680.5h0M138.0 687.1h0M149.0 642.1h0M139.3 654.4h0M197.4 709.4h0M143.0 655.0h0M155.0 640.1h0M136.6 668.9h0M143.1 638.2h0M184.2 682.2h0M181.8 668.2h0M141.8 678.6h0M135.8 664.8h0M187.5 691.1h0M154.6 628.5h0M129.4 651.9h0M141.4 677.3h0M154.6 685.8h0M178.6 682.7h0M127.8 653.3h0M184.8 662.6h0M143.3 674.1h0M146.5 681.3h0M136.9 665.4h0M171.2 640.8h0M144.2 684.6h0M167.3 688.6h0M198.8 654.3h0M141.5 645.3h0M165.2 642.2h0M176.1 676.4h0M143.4 650.3h0M168.9 686.0h0M180.2 627.8h0M174.2 650.7h0M189.6 645.3h0M161.2 688.0h0M152.3 696.3h0M181.5 672.7h0M122.9 654.3h0M200.1 655.8h0M141.4 662.5h0M171.0 695.0h0M136.8 669.2h0M179.4 655.0h0M154.0 645.9h0M179.8 674.7h0M141.7 637.6h0M185.3 668.7h0M145.0 656.3h0M149.3 682.7h0M139.4 713.8h0M147.7 694.5h0M172.4 638.5h0M142.5 667.0h0M197.3 656.2h0M145.5 677.1h0M181.8 683.9h0M159.7 696.5h0M146.2 700.5h0M152.6 697.5h0M179.2 681.6h0M194.7 637.0h0M158.7 644.0h0M195.3 682.6h0M204.2 655.7h0M168.5 688.5h0M145.2 654.5h0M163.0 645.4h0M152.4 689.5h0M173.0 644.8h0M179.7 660.5h0M130.5 641.0h0M190.9 690.2h0M195.3 682.0h0M181.3 656.1h0M180.2 658.8h0M160.2 643.3h0M174.0 681.5h0M175.7 649.6h0M162.5 635.4h0M169.6 632.3h0M154.6 692.0h0M152.0 639.6h0M140.5 715.5h0M165.1 634.1h0M185.0 695.9h0M147.0 680.6h0M180.6 675.1h0M156.8 640.7h0M139.9 687.2h0M179.4 668.6h0M201.4 676.8h0M150.2 649.2h0M135.3 659.0h0M141.5 635.6h0M150.1 632.7h0M183.6 687.8h0M149.7 701.7h0M174.1 624.2h0M136.4 662.2h0M177.8 673.6h0M139.9 655.2h0M149.6 685.6h0M150.5 633.6h0M147.8 681.3h0M134.6 670.1h0M144.1 681.7h0M187.5 705.9h0M137.5 665.9h0M145.8 680.7h0M199.4 692.6h0M149.7 687.3h0M168.0 683.4h0M158.0 687.9h0M153.3 647.1h0M160.9 642.5h0M180.1 678.7h0M136.9 669.4h0M143.2 671.6h0M153.4 643.9h0M155.3 687.6h0M138.6 696.6h0M149.7 635.5h0M145.9 687.2h0M204.4 657.4h0M142.1 677.9h0M174.7 683.4h0M187.2 643.4h0M180.4 651.2h0M160.3 636.5h0M158.3 606.5h0M149.7 694.0h0M173.1 723.2h0M152.7 691.8h0M138.8 681.0h0M186.8 661.3h0M155.1 636.2h0M196.5 646.5h0M178.6 667.0h0M145.6 689.5h0M150.8 643.8h0M174.5 641.4h0M141.4 669.2h0M165.9 647.3h0M143.0 669.0h0M159.7 638.8h0M149.1 691.9h0M145.3 684.2h0M140.9 692.4h0M186.5 655.7h0M142.1 675.6h0M178.8 670.6h0M175.7 652.1h0M185.7 666.0h0M157.1 638.6h0M182.6 639.4h0M142.2 666.1h0M148.6 680.9h0M123.4 679.6h0M135.3 633.7h0M144.7 653.6h0M163.6 646.6h0M132.7 622.2h0M174.8 653.4h0M145.8 641.3h0M158.9 635.0h0M138.5 684.2h0M205.9 686.0h0M165.3 645.1h0M166.6 632.5h0M147.1 679.5h0M173.9 646.7h0M140.7 674.2h0M148.3 683.5h0M167.8 685.6h0M160.8 638.2h0M170.9 648.1h0M141.4 653.9h0M132.8 655.8h0M203.4 669.5h0M190.6 647.1h0M137.7 652.4h0M182.8 691.0h0M158.2 686.8h0M179.6 672.2h0M182.5 673.8h0M195.3 682.5h0M187.6 641.1h0M161.4 642.0h0M144.7 655.8h0M150.3 649.5h0M140.2 686.2h0M147.4 627.4h0M146.2 690.3h0M156.4 688.0h0M147.6 646.0h0M187.6 645.3h0M128.3 677.3h0M173.0 697.7h0M154.5 684.6h0M183.2 674.7h0M135.7 664.0h0M157.5 638.9h0M183.8 655.9h0M177.3 676.2h0M179.9 681.4h0M136.4 672.3h0M127.8 692.5h0M141.2 661.0h0M136.5 676.3h0M155.1 636.5h0M159.8 686.2h0M141.5 660.1h0M190.0 669.8h0M172.2 649.0h0M160.4 638.6h0M140.2 640.7h0M172.0 687.0h0M174.4 690.2h0M199.0 686.2h0M179.8 678.7h0M160.7 646.5h0M158.0 630.6h0M186.6 646.9h0M143.6 674.0h0M139.6 703.8h0M154.7 707.0h0M128.6 688.8h0M165.5 644.0h0M157.1 698.3h0M125.2 688.0h0M130.4 652.5h0M153.0 640.8h0M152.5 639.9h0M177.5 674.9h0M186.2 687.2h0M121.5 695.4h0M140.2 645.8h0M183.1 670.0h0M152.7 643.6h0M171.7 637.3h0M143.2 644.3h0M189.6 696.1h0M171.5 687.5h0M151.8 704.5h0M156.9 685.3h0M128.4 666.1h0M153.5 700.8h0M157.3 644.4h0M193.3 655.3h0M160.3 644.7h0M141.7 687.3h0M175.4 642.7h0M142.8 673.0h0M198.1 663.5h0M177.4 683.0h0M170.3 693.4h0M208.8 634.0h0M140.5 626.8h0M180.0 631.2h0M145.2 685.4h0M146.4 648.3h0M167.5 688.9h0M141.1 659.1h0M171.5 646.0h0M142.4 668.8h0M185.8 687.0h0M187.6 682.4h0M152.7 684.8h0M160.4 645.9h0M194.8 617.5h0M176.1 685.3h0M186.0 693.6h0M141.7 658.4h0M145.2 686.9h0M166.1 640.7h0M148.7 685.3h0M134.9 660.9h0M177.4 679.2h0M151.7 692.5h0M176.9 690.1h0M154.6 645.3h0M163.0 625.5h0M162.2 692.3h0M179.7 660.0h0M194.7 661.0h0M141.4 672.0h0M179.1 672.6h0M165.9 645.7h0M179.0 694.8h0M174.0 683.4h0M145.1 684.0h0M182.5 643.6h0M202.0 657.3h0M128.1 697.1h0M151.6 684.3h0M178.6 650.3h0M156.9 633.1h0M142.4 676.2h0M156.7 701.1h0M149.2 681.9h0M159.9 645.9h0M145.8 680.2h0M142.6 659.0h0M143.2 679.1h0M175.3 650.3h0M151.1 689.6h0M133.8 651.4h0M152.2 632.5h0M136.6 672.8h0M177.5 681.7h0M150.4 689.3h0M158.8 693.5h0M156.2 630.5h0M156.6 646.7h0M165.6 694.4h0M134.0 675.8h0M166.8 646.4h0M145.3 678.3h0M192.4 678.4h0M172.2 684.2h0M171.8 688.5h0M148.6 680.9h0M142.1 655.5h0M134.5 679.1h0M162.9 646.8h0M144.4 681.6h0M182.0 672.4h0M137.8 683.5h0M158.9 686.9h0M149.6 683.9h0M181.9 654.4h0M179.0 659.7h0M150.1 684.2h0M182.3 655.4h0M169.2 646.5h0M171.5 645.1h0M161.8 645.3h0M144.1 714.6h0M164.5 641.0h0M173.8 644.2h0M136.0 695.1h0M179.8 652.2h0M143.9 674.0h0M194.2 677.1h0M170.5 646.2h0M136.2 673.2h0M160.7 689.5h0M148.3 684.6h0M147.9 647.0h0M189.4 672.5h0M158.0 694.2h0M173.0 638.7h0M180.3 669.7h0M173.5 646.9h0M168.5 647.2h0M149.6 682.0h0M149.8 638.3h0M141.0 682.8h0M172.2 680.8h0M152.8 646.9h0M145.5 653.7h0M186.5 661.9h0M154.3 641.3h0M133.4 689.4h0M174.9 682.1h0M169.1 692.4h0M159.5 640.5h0M156.4 645.2h0M188.0 653.8h0M147.2 640.4h0M183.2 676.3h0M150.2 645.5h0M187.5 699.2h0M166.3 630.9h0M169.9 682.4h0M157.0 698.0h0M164.1 693.6h0M179.8 630.8h0M159.2 644.7h0M207.1 654.7h0M142.3 684.0h0M133.0 658.3h0M135.0 679.1h0M140.0 660.2h0M150.2 686.8h0M138.1 681.9h0M139.1 656.9h0M140.7 654.7h0M187.8 669.2h0M143.1 663.0h0M178.4 685.6h0M192.9 675.6h0M124.9 664.8h0M155.4 615.6h0M160.1 645.6h0M159.2 646.2h0M204.7 647.2h0M143.0 657.1h0M175.9 679.4h0M140.9 650.0h0M191.3 673.3h0M153.7 686.3h0M163.7 639.1h0M147.1 682.9h0M173.3 684.7h0M179.0 662.3h0M180.9 654.4h0M167.2 693.4h0M153.2 639.6h0M196.1 659.0h0M132.6 682.6h0M163.7 694.0h0M181.3 668.9h0M141.8 681.0h0M159.1 685.4h0M154.2 705.1h0M147.5 681.5h0M182.7 644.3h0M177.8 632.7h0M175.9 684.3h0M178.9 689.1h0M173.4 694.6h0M176.3 686.5h0M147.2 682.0h0M175.3 691.1h0M138.1 655.8h0M197.5 674.5h0M154.7 636.1h0M186.1 648.0h0M137.9 681.8h0M178.7 668.8h0M159.7 690.3h0M174.7 693.0h0M173.9 682.3h0M155.6 645.1h0M158.5 629.6h0M148.7 684.3h0M145.5 653.1h0M141.4 659.6h0M141.9 642.0h0M142.2 648.2h0M186.6 689.9h0M178.8 656.4h0M169.3 647.1h0M138.1 669.7h0M172.7 632.4h0M128.1 662.3h0M143.6 675.6h0M185.4 670.7h0M173.9 697.8h0M136.6 662.7h0M170.2 708.9h0M142.6 652.0h0M136.8 643.9h0M153.6 645.6h0M156.9 703.6h0M169.7 691.1h0M175.6 681.6h0M150.5 684.4h0M189.4 675.6h0M131.9 639.9h0M158.1 630.0h0M141.8 701.1h0M168.5 629.4h0M163.1 644.1h0M159.1 701.2h0M161.7 703.1h0M166.9 645.2h0M183.7 688.3h0M201.1 655.8h0M157.4 706.2h0M186.2 649.6h0M170.5 701.0h0M179.4 667.4h0M179.3 670.1h0M146.6 651.7h0M169.2 698.5h0M189.8 661.3h0M200.4 648.2h0M147.7 681.8h0M139.8 682.0h0M142.4 672.5h0M140.6 663.5h0M135.1 640.8h0M179.5 662.3h0M149.6 687.2h0M158.5 640.9h0M178.4 662.8h0M136.5 657.5h0M142.4 663.2h0M143.7 677.3h0M181.0 685.3h0M140.9 673.3h0M138.3 679.5h0M163.7 706.3h0M140.6 676.8h0M172.2 621.9h0M158.4 689.7h0M160.4 702.4h0M165.1 689.2h0M176.7 673.2h0M142.9 648.8h0M149.8 686.5h0M130.6 676.8h0M141.0 662.0h0M151.3 649.2h0M139.1 667.5h0M120.1 631.0h0M154.1 684.7h0M189.9 661.7h0M159.4 685.4h0M148.8 643.9h0M143.4 653.9h0M129.9 665.3h0M146.6 643.6h0M157.6 692.6h0M179.6 649.4h0M146.5 678.0h0M197.4 673.1h0M179.7 670.5h0M183.4 655.3h0M183.0 640.1h0M153.2 687.0h0M191.0 680.9h0M133.9 673.4h0M174.0 685.1h0M167.5 703.7h0M175.4 627.7h0M146.9 679.6h0M202.0 654.0h0M196.8 665.6h0M139.1 667.9h0M185.9 651.8h0M189.7 690.1h0M190.6 666.2h0M137.1 665.8h0M147.4 685.8h0M180.8 645.5h0M186.0 654.4h0M165.9 684.5h0M176.3 640.0h0M162.4 685.3h0M162.9 694.4h0M143.7 657.1h0M160.9 637.3h0M138.6 678.1h0M172.2 643.3h0M177.9 625.6h0M198.7 677.1h0M137.4 675.3h0M168.9 643.6h0M154.5 693.1h0M173.3 694.8h0M141.9 648.9h0M131.5 634.0h0M144.1 654.3h0M171.2 636.8h0M183.7 660.7h0M155.0 642.6h0M185.3 656.6h0M187.4 674.8h0M176.7 672.5h0M161.0 637.9h0M149.9 646.8h0M161.3 691.8h0M130.2 644.5h0M178.3 653.0h0M149.3 686.9h0M167.2 644.5h0M121.3 681.8h0M185.3 661.7h0M139.9 670.4h0M170.2 686.6h0M148.8 687.2h0M165.8 689.2h0M196.9 661.4h0M147.9 681.9h0M145.7 686.7h0M169.3 684.0h0M154.8 646.2h0M138.9 666.5h0M126.6 689.7h0M140.4 655.4h0M171.3 634.1h0M157.0 687.7h0M158.4 645.2h0M196.8 664.8h0M183.8 686.4h0M179.1 682.6h0M172.1 690.1h0M172.4 650.9h0M125.8 680.9h0M137.3 655.1h0M197.3 655.5h0M171.4 644.9h0M154.3 645.9h0M187.5 656.9h0M185.7 626.2h0M145.9 698.0h0M189.4 667.1h0M175.1 676.5h0M145.1 644.0h0M162.7 645.4h0M183.3 646.4h0M144.5 682.9h0M146.2 683.6h0M141.8 654.5h0M156.2 686.0h0M150.8 685.6h0M177.1 681.3h0M197.9 667.1h0M165.2 687.0h0M159.0 690.5h0M168.5 634.6h0M155.9 685.7h0M156.7 646.5h0M143.4 681.5h0M197.8 675.9h0M174.3 708.9h0M142.4 675.3h0M137.0 665.4h0M167.8 639.6h0M145.1 677.0h0M186.9 673.8h0M176.0 679.2h0M180.8 659.3h0M158.5 643.1h0M135.8 653.4h0M164.6 688.6h0M137.4 690.6h0M182.5 652.9h0M189.2 649.5h0M186.6 650.6h0M155.6 696.1h0M181.7 692.7h0M140.9 677.7h0M127.7 660.1h0M120.9 672.2h0M116.4 667.1h0M179.8 650.8h0M192.8 683.4h0M157.9 713.6h0M185.7 693.9h0M142.2 664.4h0M167.2 684.0h0M161.6 644.5h0M178.7 663.5h0M159.0 643.3h0M136.0 673.9h0M173.4 646.1h0M181.9 691.6h0M175.4 624.8h0M120.3 693.2h0M157.6 689.5h0M191.1 680.9h0M175.0 678.4h0M149.8 682.3h0M134.4 666.5h0M150.2 639.3h0M141.8 673.2h0M149.0 693.9h0M139.3 668.7h0M176.7 655.1h0M143.4 646.8h0M140.3 635.4h0M185.4 658.6h0M159.4 693.1h0M137.4 650.5h0M171.5 688.2h0M173.5 678.8h0M148.9 646.4h0M179.9 650.0h0M178.0 653.3h0M145.0 638.7h0M160.4 642.1h0M157.3 634.6h0M136.3 678.5h0M183.6 693.9h0M171.9 717.3h0M186.9 640.4h0M176.8 645.1h0M143.8 657.7h0M156.4 643.6h0M182.2 649.5h0M136.0 678.5h0M128.8 646.1h0M164.6 699.7h0M145.5 635.1h0M154.3 690.2h0M187.8 644.3h0M154.0 636.0h0M147.7 650.0h0M166.6 685.3h0M199.9 661.1h0M165.1 699.4h0M172.7 692.9h0M180.7 657.3h0M183.1 652.1h0M184.9 676.8h0M178.3 650.4h0M173.6 691.4h0M159.2 716.4h0M157.6 696.6h0M159.1 641.9h0M180.1 633.1h0M156.8 686.4h0M188.3 673.1h0M195.6 673.8h0M171.4 639.6h0M173.1 707.9h0M184.5 663.3h0M176.7 699.7h0M143.5 652.4h0M170.7 630.2h0M144.9 689.4h0M146.5 701.8h0M150.0 686.7h0M160.8 693.6h0M158.2 635.3h0M168.2 694.7h0M150.7 642.4h0M148.5 684.6h0M160.8 696.8h0M146.8 640.9h0M150.8 636.2h0M149.1 641.1h0M171.3 646.7h0M155.4 687.2h0M185.5 646.9h0M167.8 687.4h0M174.2 635.0h0M192.7 671.8h0M154.7 646.2h0M179.4 684.1h0M163.3 686.5h0M158.3 685.6h0M136.1 659.3h0M185.9 653.7h0M172.1 646.3h0M143.0 659.7h0M179.3 662.9h0M141.4 682.1h0M199.2 623.7h0M182.0 686.1h0M165.2 640.1h0M134.7 666.5h0M164.9 644.0h0M190.5 678.0h0M142.7 681.9h0M153.8 634.7h0M179.6 660.8h0M140.2 654.7h0M157.9 642.4h0M152.8 643.8h0M176.2 655.3h0M133.8 700.4h0M140.1 683.7h0M175.1 682.4h0M162.5 703.0h0M146.0 645.8h0M138.2 662.6h0M185.6 658.9h0M154.8 700.7h0M179.8 636.2h0M131.7 671.3h0M143.3 633.3h0M171.2 650.7h0M137.6 651.7h0M161.4 645.0h0M142.1 658.8h0M156.1 631.5h0M188.1 681.5h0M147.5 692.3h0M175.7 653.8h0M179.0 663.4h0M183.5 659.0h0M178.4 690.7h0M172.1 687.0h0M178.8 665.7h0M155.8 629.1h0M162.9 691.3h0M183.7 667.1h0M176.3 671.9h0M176.7 651.1h0M138.4 664.6h0M137.2 667.0h0M177.5 699.4h0M134.6 672.6h0M168.7 702.1h0M162.4 689.1h0M130.4 686.5h0M186.4 637.5h0M177.0 656.2h0M192.0 638.4h0M167.2 711.9h0M157.2 722.4h0M135.1 670.3h0M174.7 632.8h0M129.1 663.8h0M140.7 644.4h0M166.1 685.1h0M177.4 655.1h0M170.1 637.0h0M139.9 675.5h0M135.6 662.8h0M196.4 633.2h0M146.1 685.2h0M135.5 656.4h0M161.6 697.3h0M140.5 650.6h0M143.0 654.2h0M156.1 645.2h0M149.2 637.1h0M157.4 629.9h0M156.9 688.0h0M158.8 702.7h0M146.8 649.3h0M142.7 632.0h0M188.1 672.9h0M148.2 645.6h0M156.0 691.3h0M143.2 682.0h0M177.3 647.8h0M185.8 653.5h0M151.6 703.2h0M187.1 663.3h0M146.1 692.0h0M165.1 700.5h0M135.7 677.7h0M128.6 678.7h0M198.2 660.0h0M183.1 680.5h0M153.6 617.6h0M183.7 674.6h0M200.9 689.7h0M169.6 689.3h0M141.7 668.2h0M144.7 706.2h0M148.0 645.9h0M148.1 625.7h0M187.4 684.1h0M146.9 639.4h0M118.5 664.8h0M133.1 645.2h0M141.6 670.2h0M154.2 634.9h0M178.7 701.0h0M139.5 645.4h0M178.4 690.5h0M142.2 678.9h0M158.0 636.6h0M166.4 726.4h0M143.0 661.7h0M134.9 682.4h0M176.8 680.1h0M163.8 686.6h0M139.6 666.6h0M179.5 650.3h0M172.7 644.9h0M167.2 697.4h0M160.7 646.4h0M136.7 658.6h0M168.8 683.3h0M176.4 657.7h0M141.7 652.2h0M142.8 656.1h0M150.4 706.0h0M144.0 627.3h0M141.5 655.7h0M141.1 643.4h0M183.4 665.4h0M134.9 695.3h0M180.5 685.2h0M148.0 650.1h0M188.7 695.1h0M142.2 655.6h0M165.4 685.0h0M142.5 684.8h0M138.7 662.6h0M143.1 687.5h0M203.0 677.9h0M168.9 695.5h0M179.4 648.7h0M140.0 686.0h0M189.1 664.0h0M141.1 681.5h0M135.1 675.8h0M165.0 687.2h0M131.6 664.9h0M152.4 684.9h0M176.0 658.8h0M159.0 642.3h0M140.6 662.5h0M148.3 688.8h0M145.6 678.7h0M163.8 689.9h0M163.4 636.0h0M199.7 663.7h0M159.2 692.8h0M175.9 681.7h0M155.9 638.3h0M190.0 641.5h0M138.5 655.5h0M148.9 686.6h0M137.6 644.9h0M164.9 641.4h0M133.7 657.1h0M143.1 650.7h0M167.6 687.0h0M143.0 715.6h0M141.9 666.9h0" stroke="#35a4d0" stroke-width="1.1" stroke-linecap="round" fill="none"/>
<ellipse cx="127" cy="684" rx="21.5" ry="20.5" transform="rotate(0 127 684)" fill="url(#rgG)" opacity="0.9" filter="url(#rough)"/>
<path d="M121.6 698.6h0M110.8 692.4h0M139.6 680.5h0M147.3 661.5h0M148.9 698.7h0M144.3 687.1h0M142.4 674.7h0M114.8 681.1h0M132.1 695.6h0M151.3 677.7h0M143.9 682.4h0M145.9 679.0h0M120.2 702.2h0M140.4 685.1h0M141.3 677.7h0M142.7 684.4h0M107.9 690.2h0M113.8 679.6h0M145.1 691.1h0M144.3 684.6h0M123.3 695.9h0M126.1 668.4h0M143.0 683.3h0M115.4 677.6h0M139.2 678.0h0M121.6 694.3h0M147.4 672.2h0M138.0 693.2h0M123.4 696.0h0M115.2 690.3h0M140.8 690.2h0M107.7 677.5h0M138.9 675.9h0M111.1 683.3h0M112.4 689.6h0M118.0 693.4h0M126.0 671.3h0M118.8 696.6h0M114.8 672.3h0M133.0 698.4h0M113.1 681.9h0M113.0 682.8h0M141.6 678.3h0M136.2 676.4h0M112.6 689.5h0M96.6 678.2h0M135.3 722.3h0M145.3 683.0h0M151.8 683.8h0M147.3 698.1h0M101.2 677.8h0M141.2 685.1h0M131.5 707.5h0M133.6 707.4h0M119.4 701.7h0M124.5 664.3h0M121.2 703.1h0M139.5 684.6h0M119.1 711.5h0M147.9 697.3h0M135.4 700.5h0M115.4 696.0h0M156.4 692.3h0M116.4 675.2h0M145.8 664.3h0M148.4 687.8h0M140.4 670.2h0M111.1 684.1h0M144.1 688.8h0M149.3 675.5h0M125.3 672.3h0M114.3 686.7h0M148.9 662.9h0M127.8 666.9h0M129.2 695.7h0M129.9 669.1h0M144.4 676.9h0M145.6 671.1h0M111.1 681.6h0M125.3 672.2h0M105.7 695.8h0M131.4 672.0h0M128.9 671.8h0M111.3 676.9h0M140.1 706.1h0M115.6 680.3h0M127.3 710.7h0M143.8 666.2h0M114.7 684.2h0M101.0 671.5h0M142.0 690.6h0M156.9 694.7h0M132.9 699.8h0M143.3 691.2h0M140.2 682.0h0M117.0 691.2h0M139.0 698.3h0M111.9 682.3h0M149.7 679.2h0M137.8 698.2h0M106.0 692.6h0M144.2 687.0h0M109.0 681.5h0M120.2 673.8h0M110.4 674.0h0M134.8 718.3h0M111.7 678.3h0M129.9 721.3h0M134.3 707.0h0M100.6 675.9h0M141.5 674.4h0M136.2 671.3h0M130.2 668.6h0M127.2 701.6h0M137.2 671.2h0M121.3 696.2h0M122.0 695.9h0M139.9 670.9h0M130.2 702.0h0M132.8 671.7h0M124.2 671.5h0M139.6 685.8h0M138.0 674.1h0M136.6 673.3h0M120.0 672.3h0M142.0 686.1h0M118.6 673.5h0M131.9 700.5h0M148.3 672.1h0M162.2 676.4h0M126.6 671.4h0M114.5 681.9h0M155.7 677.9h0M138.6 665.9h0M110.2 681.9h0M143.3 706.4h0M135.4 675.7h0M142.9 689.8h0M137.5 696.0h0M127.1 672.3h0M113.4 679.6h0M116.8 673.1h0M117.4 698.9h0M138.1 694.6h0M144.8 666.9h0M137.1 669.2h0M123.7 705.7h0M125.3 695.4h0M134.0 669.0h0M131.8 671.8h0M140.3 673.6h0M143.4 695.5h0M114.7 686.9h0M114.6 680.0h0M148.4 694.4h0M113.0 691.9h0M123.5 712.6h0M141.6 691.4h0M118.1 663.5h0M144.3 692.4h0M127.3 665.3h0M140.3 715.4h0M109.3 655.6h0M120.2 671.8h0M114.7 680.7h0M144.6 677.2h0M160.4 699.0h0M106.7 677.6h0M129.1 671.2h0M124.5 699.6h0M112.0 674.8h0M115.2 678.4h0M114.3 687.1h0M106.7 687.1h0M111.5 688.8h0M138.4 688.4h0M143.3 706.6h0M130.1 672.0h0M139.0 676.0h0M133.9 697.4h0M105.9 701.2h0M109.5 667.9h0M138.4 668.9h0M130.2 699.6h0M137.4 678.1h0M143.8 670.7h0M145.5 677.2h0M111.6 682.6h0M135.9 672.2h0M139.6 693.9h0M114.2 691.1h0M115.9 658.3h0M139.6 694.6h0M117.4 694.6h0M131.0 654.0h0M114.2 679.6h0M114.1 680.2h0M119.2 669.2h0M121.5 671.5h0M111.7 677.7h0M109.8 684.8h0M113.9 680.9h0M141.3 675.8h0M115.8 692.6h0M123.3 704.8h0M109.1 687.2h0M147.3 694.7h0M111.4 686.5h0M151.2 679.8h0M148.3 672.9h0M132.3 668.7h0M132.8 667.7h0M116.0 696.2h0M144.2 686.3h0M101.5 696.8h0M123.7 671.7h0M123.2 665.7h0M116.3 673.4h0M127.0 697.6h0M115.6 691.2h0M148.7 701.7h0M145.3 686.2h0M115.9 706.3h0M134.4 671.4h0M113.5 690.2h0M133.0 698.5h0M138.0 690.7h0M128.4 669.0h0M140.4 690.0h0M141.9 683.9h0M126.7 695.9h0M135.5 669.7h0M146.0 689.8h0M150.4 687.5h0M122.6 702.7h0M152.0 679.5h0M141.3 670.8h0M123.8 705.4h0M127.8 696.0h0M125.4 671.9h0M151.7 691.0h0M140.8 681.3h0M144.3 688.1h0M140.8 687.2h0M136.5 674.8h0M140.1 695.6h0M124.9 671.6h0M115.8 689.2h0M140.1 695.2h0M119.9 702.0h0M137.2 699.9h0M115.8 690.5h0M133.9 672.3h0M137.7 663.8h0M121.6 671.3h0M115.6 699.0h0M137.5 677.2h0M143.0 682.9h0M139.0 683.4h0M132.6 698.4h0M108.6 690.4h0M137.1 670.9h0M119.5 693.8h0M124.4 696.8h0M122.8 671.1h0M147.5 687.3h0M130.3 695.3h0M146.4 699.5h0M113.6 701.8h0M133.1 702.8h0M134.9 704.1h0M137.8 677.6h0M113.1 676.3h0M115.0 682.3h0M141.3 682.1h0M116.2 678.2h0M152.6 685.5h0M146.1 693.8h0M145.7 683.7h0M117.0 674.0h0M133.0 670.0h0M131.5 671.6h0M114.4 673.1h0M129.1 669.7h0M121.5 698.0h0M142.9 687.8h0M125.0 696.7h0M124.9 663.3h0M136.3 674.1h0M142.8 677.5h0M125.0 706.0h0M156.9 687.0h0M113.8 700.3h0M144.5 679.9h0M118.0 695.4h0M139.3 700.7h0M122.2 699.6h0M113.2 691.9h0M107.9 687.5h0M114.3 689.4h0M110.2 672.6h0M147.2 682.3h0M146.0 689.1h0M133.1 704.5h0M125.0 668.7h0M141.3 687.5h0M139.8 685.2h0M115.2 689.1h0M150.7 678.8h0M137.9 692.8h0M127.7 699.3h0M156.3 690.1h0M107.7 674.8h0M115.2 700.5h0M120.3 671.2h0M139.3 668.5h0M140.2 670.1h0M111.8 688.6h0M150.9 679.8h0M118.9 673.6h0M118.1 696.9h0M136.8 710.5h0M124.0 696.3h0M146.2 684.9h0M149.5 675.3h0M141.9 693.4h0M117.9 698.1h0M144.3 689.9h0M114.2 694.8h0M122.5 704.6h0M145.0 682.5h0M148.1 685.1h0M116.3 705.4h0M117.2 675.3h0M128.5 707.5h0M111.4 691.0h0M124.9 659.4h0M113.5 683.2h0M147.5 691.2h0M122.5 669.8h0M138.6 674.8h0M139.9 680.0h0M134.1 695.3h0M149.7 696.1h0M149.8 696.1h0M129.9 700.7h0M139.9 695.7h0M128.1 711.3h0M125.5 665.9h0M116.6 697.2h0M113.5 714.9h0M140.4 684.6h0M112.9 680.8h0M151.3 690.5h0M131.1 699.6h0M115.9 691.8h0M116.6 690.6h0M155.4 701.6h0M137.6 693.2h0M154.6 685.5h0M110.2 689.2h0M137.0 694.0h0M134.9 701.1h0M134.6 661.2h0M102.4 690.3h0M138.3 678.2h0M143.9 690.2h0M108.3 696.0h0M123.2 670.4h0M145.5 704.6h0M146.3 669.4h0M133.2 673.0h0M145.8 694.9h0M113.8 682.5h0M112.4 686.6h0M146.0 692.9h0M142.7 672.8h0M111.6 657.6h0M151.1 681.9h0M136.4 695.5h0M113.1 687.2h0M122.9 670.3h0M115.5 676.9h0M137.4 691.2h0M113.8 678.1h0M143.4 692.5h0M143.7 699.9h0M114.9 673.7h0M144.5 696.5h0M145.8 690.0h0M111.2 707.6h0M153.6 685.2h0M116.1 694.7h0M120.4 662.8h0M117.1 693.9h0M153.0 690.1h0M139.6 699.2h0M136.3 675.1h0M143.9 677.5h0M118.4 671.4h0M125.4 667.8h0M130.2 670.6h0M138.6 680.7h0M138.0 674.2h0M110.5 678.9h0M109.7 687.6h0M135.9 701.7h0M112.0 688.8h0M109.3 683.7h0M129.0 704.2h0M110.5 697.2h0M121.0 666.0h0M133.2 672.6h0M149.5 679.7h0M134.6 706.4h0M139.1 693.8h0M140.5 673.5h0M135.7 669.4h0M127.2 666.7h0M108.6 681.9h0M136.8 669.8h0M129.7 697.2h0M112.5 691.6h0M129.3 669.7h0M117.5 697.3h0M126.1 695.8h0M121.3 694.6h0M146.0 675.0h0M148.6 697.9h0M129.4 669.0h0M114.1 695.7h0M113.4 680.0h0M137.1 677.7h0M121.0 660.4h0M150.8 668.4h0M119.5 701.4h0M114.2 685.7h0M145.1 684.3h0M146.3 703.2h0M133.6 698.4h0M141.4 681.8h0M113.1 683.5h0M119.5 673.3h0M111.0 672.7h0M135.5 675.7h0M123.6 697.2h0M138.9 687.5h0M135.7 661.4h0M113.3 686.3h0M135.4 692.4h0M116.1 695.9h0M144.6 692.9h0M114.2 683.4h0M121.3 670.1h0M144.6 674.4h0M109.1 686.8h0M124.8 672.5h0M135.7 692.3h0M150.9 682.6h0M114.8 672.7h0M114.8 685.1h0M116.8 677.6h0M123.4 695.3h0M134.3 697.7h0M139.5 688.5h0M145.2 696.8h0M147.9 688.0h0M122.1 710.7h0M126.0 697.8h0M116.3 677.2h0M121.6 672.0h0M109.3 690.2h0M153.0 688.7h0M134.8 673.6h0M150.5 677.9h0M107.3 699.6h0M136.2 666.5h0M144.1 679.1h0M146.6 679.4h0M118.5 672.8h0M121.8 696.9h0M124.4 671.7h0M134.7 670.3h0M137.4 697.7h0M113.9 690.0h0M112.5 683.2h0M137.3 661.8h0M133.9 673.4h0M122.7 668.7h0M122.7 667.3h0M112.5 689.5h0M136.2 676.4h0M140.6 703.0h0M104.5 678.9h0M146.2 701.8h0M111.8 682.4h0M131.0 670.2h0M119.2 707.1h0M110.7 686.2h0M128.6 669.8h0M123.2 670.4h0M149.9 690.0h0M123.1 695.2h0M136.7 707.1h0M109.0 700.5h0M122.7 695.5h0M130.8 672.7h0M117.6 702.1h0M114.2 675.8h0M140.9 672.6h0M114.1 696.4h0M113.1 681.0h0M129.9 702.8h0M108.9 659.7h0M131.5 667.1h0M136.8 699.2h0M117.8 699.6h0M121.2 669.4h0M136.7 705.6h0M112.9 682.9h0M112.0 688.3h0M109.3 685.8h0M140.9 695.7h0M114.1 689.3h0M139.8 665.7h0M115.9 690.2h0M143.3 681.7h0M115.9 669.4h0M113.5 677.2h0M110.4 689.0h0M142.6 701.0h0M130.4 708.5h0M117.3 692.9h0M111.8 691.3h0M119.4 693.6h0M125.2 700.1h0M142.6 682.3h0M147.7 697.0h0M128.4 670.9h0M139.8 681.3h0M110.5 680.1h0M145.6 678.9h0M141.0 688.1h0M119.7 695.6h0M112.6 679.1h0M140.9 680.0h0M112.4 680.9h0M140.3 672.9h0M159.6 696.3h0M146.5 687.4h0M106.3 691.2h0M144.9 680.0h0M140.9 692.0h0M139.6 688.3h0M111.2 677.1h0M116.4 672.2h0M143.2 716.6h0M132.7 706.4h0M146.2 698.8h0M131.7 702.5h0M135.7 692.5h0M115.4 678.6h0M124.2 667.6h0M127.4 702.8h0M130.9 667.6h0M140.5 686.2h0M141.9 687.8h0M140.9 698.5h0M144.0 687.0h0M136.7 724.2h0M114.7 686.1h0M118.0 694.5h0M150.8 695.8h0M131.4 669.1h0M121.5 668.4h0M137.4 708.7h0M109.8 689.6h0M127.3 698.1h0M144.6 684.0h0M134.2 705.2h0M132.0 671.2h0M108.5 679.8h0M120.5 672.1h0M150.0 668.2h0M133.4 699.4h0M130.4 667.4h0M111.7 680.7h0M133.1 669.8h0M121.8 696.3h0M146.4 700.9h0M117.4 709.1h0M126.4 671.2h0M112.7 686.2h0M135.9 664.4h0M114.9 702.0h0M115.0 682.2h0M114.7 678.6h0M157.0 687.6h0M127.1 663.7h0M121.1 701.2h0M136.5 673.4h0M113.6 683.8h0M140.0 687.5h0M116.8 673.5h0M112.4 683.8h0M112.5 691.6h0M128.4 668.8h0M117.6 698.4h0M150.1 679.7h0M133.7 699.3h0M141.9 690.1h0M130.3 671.0h0M158.5 716.9h0M120.9 697.9h0M100.7 697.8h0M118.5 672.7h0M123.4 671.0h0M118.3 700.9h0M134.1 693.2h0M138.7 670.9h0M115.5 680.0h0M132.2 673.1h0M128.7 697.7h0M129.2 672.5h0M121.3 695.5h0M116.1 690.1h0M132.0 694.6h0M115.2 702.9h0M119.0 675.0h0M123.4 668.7h0M110.8 692.4h0M115.1 689.1h0M131.0 666.6h0M116.1 678.1h0M135.3 701.7h0M111.1 677.1h0M118.6 693.4h0M105.3 700.3h0M143.3 670.0h0M126.5 698.1h0M137.6 669.8h0M140.9 699.6h0M119.2 668.6h0M127.1 670.7h0M120.8 699.1h0M131.6 694.6h0M139.1 695.6h0" stroke="#3a9a4b" stroke-width="1.1" stroke-linecap="round" fill="none"/>
<ellipse cx="66" cy="650" rx="25" ry="25.5" transform="rotate(0 66 650)" fill="url(#rgDB)" opacity="1" filter="url(#rough)"/>
<path d="M60.8 635.6h0M76.0 632.4h0M76.6 666.6h0M71.5 632.5h0M91.8 647.4h0M58.8 665.7h0M82.7 630.2h0M65.8 631.1h0M81.2 623.3h0M89.7 636.1h0M59.2 669.3h0M75.7 639.4h0M83.5 634.6h0M52.7 656.1h0M95.2 652.8h0M53.5 651.1h0M50.2 650.1h0M76.4 666.1h0M82.2 637.7h0M65.8 628.8h0M48.2 644.5h0M75.3 664.1h0M43.9 651.2h0M63.8 622.9h0M56.5 639.5h0M66.5 630.2h0M79.5 647.3h0M56.2 640.8h0M51.6 644.3h0M81.1 648.4h0M55.3 640.4h0M72.7 678.0h0M86.4 657.1h0M60.7 671.9h0M59.2 662.0h0M53.2 657.3h0M53.6 645.0h0M59.3 663.1h0M63.2 627.8h0M79.9 645.8h0M82.8 653.8h0M57.6 661.3h0M67.9 665.6h0M51.3 648.9h0M65.3 665.1h0M61.3 661.9h0M56.8 639.5h0M86.7 634.4h0M70.0 667.3h0M75.1 626.0h0M76.2 631.5h0M52.9 647.1h0M62.8 663.6h0M84.5 653.9h0M52.4 652.8h0M51.7 664.4h0M68.9 662.4h0M61.3 631.6h0M83.6 634.2h0M46.9 646.1h0M70.2 632.9h0M59.7 633.6h0M55.2 663.9h0M77.9 617.3h0M97.3 648.6h0M51.7 658.3h0M69.9 663.0h0M67.9 631.2h0M72.5 636.8h0M72.6 630.4h0M70.1 672.4h0M50.7 658.4h0M53.5 648.6h0M89.3 662.1h0M57.4 639.9h0M45.1 646.6h0M52.0 660.2h0M83.3 656.0h0M89.4 658.6h0M83.8 636.0h0M46.6 644.0h0M96.7 644.9h0M63.4 634.3h0M60.0 631.5h0M68.8 664.6h0M56.7 636.4h0M71.5 672.0h0M82.5 671.7h0M89.8 651.7h0M51.4 652.4h0M58.0 636.1h0M75.1 637.4h0M56.4 620.2h0M84.1 665.8h0M50.6 635.6h0M51.5 648.9h0M66.7 636.0h0M55.1 633.9h0M56.4 639.8h0M90.2 644.9h0M82.8 654.7h0M70.3 665.8h0M57.0 629.5h0M77.8 654.6h0M68.1 668.5h0M53.0 653.5h0M76.8 659.1h0M70.1 623.4h0M70.6 671.3h0M58.1 639.8h0M49.5 653.0h0M79.4 659.9h0M73.0 669.7h0M53.1 653.6h0M58.5 671.7h0M85.9 648.0h0M84.2 638.1h0M69.8 635.4h0M72.3 664.3h0M78.8 654.5h0M86.6 631.1h0M62.2 665.4h0M76.2 632.7h0M69.2 665.2h0M52.3 648.6h0M54.2 656.8h0M55.0 632.9h0M68.6 664.1h0M63.6 662.8h0M71.3 663.3h0M60.2 635.1h0M69.4 634.2h0M65.4 673.1h0M67.5 629.3h0M78.0 643.6h0M68.1 628.7h0M72.7 635.7h0M82.2 637.3h0M83.5 625.7h0M52.1 664.4h0M72.1 632.6h0M63.2 665.2h0M80.8 663.9h0M75.3 638.8h0M90.3 650.0h0M50.6 640.5h0M85.8 624.3h0M88.9 634.1h0M91.4 675.3h0M82.8 647.7h0M36.7 653.0h0M52.2 650.6h0M54.4 657.8h0M55.0 656.6h0M48.1 649.5h0M78.1 640.6h0M80.2 662.8h0M80.6 641.3h0M68.5 635.4h0M91.3 674.6h0M70.5 618.8h0M87.5 646.2h0M93.8 635.6h0M51.7 645.6h0M74.0 618.6h0M44.8 650.9h0M86.7 630.3h0M58.3 630.7h0M77.4 656.3h0M48.0 647.2h0M74.2 634.5h0M67.9 635.7h0M57.9 665.9h0M46.7 657.1h0M75.8 659.9h0M96.5 639.8h0M77.8 665.7h0M46.3 644.3h0M52.4 651.3h0M60.7 635.2h0M68.4 627.5h0M67.6 662.5h0M69.8 662.7h0M93.6 652.9h0M81.9 647.5h0M59.4 666.3h0M69.1 631.0h0M64.4 632.3h0M52.9 643.3h0M51.9 651.8h0M75.7 664.0h0M92.4 648.0h0M62.2 662.1h0M81.4 642.6h0M52.8 667.5h0M66.6 628.3h0M67.1 673.1h0M85.7 625.6h0M51.2 643.3h0M84.2 640.5h0M49.0 659.8h0M87.1 638.9h0M53.4 657.9h0M59.8 626.7h0M68.7 668.8h0M71.5 633.5h0M64.9 666.8h0M98.5 665.6h0M71.6 622.8h0M84.5 668.6h0M57.6 636.9h0M82.6 625.7h0M78.0 636.5h0M66.8 625.3h0M72.8 638.9h0M96.1 636.8h0M56.0 640.6h0M54.7 656.0h0M52.7 638.3h0M69.2 662.2h0M62.3 667.8h0M76.2 667.5h0M52.9 652.3h0M52.2 639.4h0M79.9 648.6h0M74.4 671.0h0M72.1 631.6h0M55.3 631.4h0M66.2 631.5h0M62.9 662.9h0M59.4 636.5h0M68.2 662.5h0M82.9 645.2h0M88.2 633.1h0M70.5 622.6h0M72.3 663.9h0M64.6 664.9h0M80.2 631.3h0M79.9 650.1h0M64.6 635.0h0M87.5 645.5h0M75.5 630.7h0M51.5 664.3h0M57.3 640.1h0M78.3 653.2h0M57.3 665.2h0M68.9 668.6h0M92.5 624.7h0M79.7 636.4h0M60.1 663.5h0M90.5 617.8h0M54.4 657.3h0M51.8 657.9h0M72.8 672.1h0M84.5 644.9h0M69.4 666.5h0M92.7 642.8h0M51.7 644.0h0M54.1 634.1h0M56.1 660.8h0M62.4 663.7h0M53.0 636.1h0M81.7 641.7h0M78.3 632.9h0M85.8 671.3h0M82.1 639.2h0M49.8 675.3h0M74.3 638.2h0M57.4 637.0h0M73.6 627.5h0M95.8 641.0h0M55.2 669.4h0M91.7 625.6h0M49.6 654.6h0M81.2 656.0h0M51.7 650.2h0M59.2 668.2h0M68.6 635.8h0M53.4 661.9h0M85.4 638.7h0M59.3 637.9h0M57.6 661.2h0M84.7 647.9h0M72.5 636.9h0M68.1 633.8h0M78.8 661.2h0M86.3 671.0h0M73.8 664.7h0M91.8 623.1h0M50.2 643.0h0M71.9 632.6h0M85.8 657.1h0M54.3 644.7h0M65.3 663.4h0M85.1 649.6h0M53.1 655.3h0M60.6 631.0h0M59.2 664.7h0M56.2 663.0h0M52.2 648.9h0M86.0 655.5h0M80.9 662.7h0M63.6 673.9h0M60.2 664.3h0M55.1 637.2h0M51.2 639.4h0M49.6 653.0h0M47.2 652.3h0M73.7 662.0h0M63.4 663.2h0M49.3 651.5h0M53.1 644.0h0M68.5 663.2h0M98.9 650.5h0M41.4 646.0h0M81.2 670.0h0M67.7 635.2h0M70.1 662.7h0M91.1 640.5h0M67.4 662.5h0M88.5 657.2h0M79.3 650.8h0M80.8 648.1h0M67.3 632.4h0M48.0 663.1h0M59.2 667.6h0M63.2 665.3h0M65.1 631.9h0M78.5 636.3h0M84.6 658.5h0M91.5 640.8h0M74.6 640.4h0M66.6 622.1h0M91.3 638.1h0M76.3 637.6h0M85.6 670.4h0M86.5 629.1h0M43.2 650.0h0M71.0 665.4h0M62.9 628.0h0M47.7 646.5h0M63.3 668.8h0M58.2 630.9h0M53.7 660.2h0M74.0 629.6h0M67.2 669.1h0M68.0 634.8h0M58.8 663.9h0M84.2 656.2h0M51.9 657.6h0M60.8 661.8h0M78.0 643.2h0M95.2 641.1h0M92.9 633.0h0M61.6 619.7h0M74.9 663.1h0M95.3 641.3h0M50.0 601.2h0M65.7 626.1h0M76.0 639.4h0M73.4 667.9h0M71.1 634.2h0M76.1 635.5h0M59.0 630.0h0M87.8 651.4h0M90.7 653.7h0M65.3 663.3h0M84.7 631.7h0M50.5 655.7h0M80.3 664.2h0M74.2 632.1h0M58.1 630.0h0M50.6 649.8h0M52.6 653.5h0M76.0 639.5h0M59.3 661.2h0M69.6 620.5h0M58.3 623.4h0M51.5 645.9h0M51.7 653.7h0M54.6 660.8h0M60.4 662.6h0M72.2 633.8h0M69.8 632.7h0M74.1 680.1h0M72.2 666.9h0M58.0 665.9h0M65.6 668.7h0M57.8 661.2h0M60.8 663.4h0M57.8 661.2h0M70.2 637.8h0M57.1 659.0h0M49.0 649.4h0M68.5 634.8h0M89.1 652.2h0M78.7 638.8h0M45.9 646.0h0M81.0 647.7h0M78.7 654.3h0M77.9 655.0h0M60.6 637.7h0M85.9 610.7h0M52.9 654.1h0M75.1 672.6h0M73.2 618.8h0M56.3 658.4h0M66.3 665.2h0M59.5 661.2h0M90.8 655.8h0M58.2 639.7h0M60.0 663.9h0M57.6 665.2h0M81.1 643.9h0M64.8 637.3h0M51.3 646.7h0M77.2 621.8h0M55.7 632.1h0M82.6 622.6h0M52.1 659.2h0M79.7 667.7h0M47.6 646.0h0M77.7 659.8h0M76.6 640.4h0M59.3 660.9h0M54.1 644.9h0M64.9 636.4h0M63.6 673.0h0M53.5 646.2h0M50.2 649.2h0M56.9 661.4h0M66.7 666.4h0M70.1 636.7h0M54.8 661.5h0M52.6 654.6h0M78.8 654.3h0M77.5 656.0h0M47.7 659.9h0M101.0 645.7h0M67.8 670.9h0M56.0 640.3h0M85.2 658.3h0M80.5 666.7h0M71.3 674.5h0M57.9 663.7h0M83.9 641.2h0M75.6 628.6h0M67.1 668.0h0M50.9 651.4h0M59.8 630.4h0M75.5 638.0h0M61.0 633.5h0M80.9 631.6h0M86.8 637.6h0M67.5 666.8h0M57.0 663.3h0M53.1 644.5h0M86.3 629.2h0M52.3 641.3h0M95.3 662.1h0M57.4 638.9h0M53.0 651.5h0M68.1 634.9h0M79.9 652.2h0M77.4 640.7h0M54.1 656.7h0M54.4 655.1h0M98.3 661.0h0M52.5 639.7h0M52.8 660.7h0M53.0 639.1h0M45.0 647.2h0M57.6 623.0h0M72.2 637.1h0M85.6 656.4h0M91.9 640.4h0M77.6 671.1h0M84.1 652.5h0M50.0 645.6h0M49.1 658.2h0M86.1 639.4h0M57.9 660.5h0M74.8 672.2h0M68.0 665.1h0M71.7 672.4h0M76.5 641.8h0M84.4 642.7h0M76.9 641.7h0M85.0 623.4h0M49.9 658.3h0M69.4 629.2h0M64.7 663.1h0M64.2 665.1h0M65.5 669.9h0M62.5 664.5h0M84.3 634.9h0M95.1 654.9h0M75.2 631.5h0M71.9 632.9h0M51.1 650.0h0M78.9 636.6h0M53.6 645.2h0M79.6 653.5h0M49.7 656.6h0M66.9 665.2h0M54.8 660.0h0M66.8 629.6h0M76.7 663.8h0M48.1 654.0h0M76.1 667.5h0M79.8 641.8h0M54.6 663.7h0M57.1 659.7h0M51.2 650.0h0M71.7 631.5h0M88.0 676.3h0M56.2 637.7h0M54.5 659.6h0M81.1 659.8h0M73.7 662.2h0M86.8 639.1h0M56.4 618.9h0M69.1 662.5h0M63.6 665.9h0M93.9 648.6h0M75.9 632.9h0M75.3 625.1h0M69.5 637.5h0M67.4 664.6h0M50.9 655.5h0M82.0 634.1h0M79.1 655.5h0M79.3 667.1h0M65.4 665.6h0M58.9 635.9h0M62.0 662.1h0M84.5 652.6h0M74.1 618.6h0M60.6 664.4h0M89.7 639.1h0M43.4 653.5h0M52.8 645.9h0M56.0 658.1h0M69.7 635.9h0M53.4 671.1h0M52.2 672.0h0M48.3 632.5h0M73.2 667.4h0M67.5 672.2h0M65.5 630.8h0M57.3 659.2h0M60.7 661.5h0M62.8 665.7h0M63.9 665.8h0M54.4 662.0h0M48.6 637.6h0M55.0 630.3h0M70.7 664.0h0M81.6 658.0h0M74.5 639.4h0M49.3 646.3h0M74.4 664.5h0M44.9 650.5h0M70.8 665.9h0M78.9 655.7h0M56.3 630.4h0M67.2 667.9h0M80.5 635.3h0M75.0 662.5h0M46.2 658.4h0M64.3 662.8h0M52.2 659.1h0M77.5 667.9h0M73.7 618.9h0M94.5 627.3h0M50.5 655.0h0M46.3 654.2h0M55.3 658.5h0M53.3 642.6h0M69.8 662.3h0M55.5 660.7h0M75.0 659.7h0M91.5 633.2h0M84.3 651.5h0M62.8 667.1h0M52.7 644.7h0M63.0 636.9h0M72.4 637.0h0M46.3 649.7h0M50.6 650.3h0M45.0 642.0h0M80.9 666.5h0M53.9 638.2h0M68.2 668.4h0M53.8 653.8h0M51.9 671.6h0M67.8 636.1h0M58.5 633.5h0M52.4 641.7h0M49.7 655.7h0M71.4 667.1h0M76.2 632.8h0M81.0 651.6h0M62.2 628.5h0M63.4 635.0h0M53.9 666.3h0M77.6 658.9h0M61.1 637.6h0M67.7 634.1h0M77.6 636.8h0M80.2 644.2h0M75.5 636.3h0M52.5 644.4h0M77.3 614.8h0M79.1 673.5h0M66.8 627.9h0M53.7 647.6h0M95.4 648.9h0M55.7 666.8h0M67.3 637.2h0M73.8 660.7h0M60.2 628.7h0M80.9 653.0h0M50.8 645.8h0M77.2 667.2h0M89.5 650.7h0M55.9 668.1h0M66.0 665.9h0M75.2 664.0h0M69.2 664.4h0M70.0 664.6h0M76.1 621.8h0M62.4 666.6h0M61.6 669.0h0M84.1 644.1h0M79.0 667.9h0M83.3 641.7h0M76.9 656.2h0M81.5 649.4h0M75.3 635.6h0M55.2 656.7h0M94.0 640.8h0M54.4 637.6h0M59.9 663.4h0M53.0 658.8h0M71.4 673.3h0M75.5 628.9h0M53.6 641.8h0M70.5 638.2h0M53.5 679.9h0M87.3 667.9h0M64.6 619.4h0M72.0 622.5h0M61.9 631.9h0M91.1 633.0h0M52.3 653.4h0M55.7 661.4h0M76.7 640.9h0M59.5 665.4h0M47.8 648.3h0M52.1 628.8h0M67.7 665.3h0M99.5 647.3h0M75.6 636.2h0M54.3 645.5h0M103.0 640.4h0M82.1 644.1h0M56.2 626.0h0M67.6 662.7h0M54.3 641.7h0M54.8 657.3h0M92.1 651.1h0M80.5 634.8h0M65.9 664.6h0M74.4 660.8h0M51.0 646.4h0M88.2 664.4h0M82.5 658.4h0M84.4 615.3h0M80.8 638.3h0M78.2 659.1h0M62.7 666.9h0M81.6 659.6h0M68.1 667.8h0M97.0 637.6h0M92.1 652.6h0M84.6 653.0h0M89.2 640.2h0M66.4 612.5h0M71.6 661.4h0M92.8 640.4h0M52.5 650.2h0M70.6 675.2h0M52.0 643.5h0M86.5 628.9h0M88.3 649.9h0M69.6 664.2h0M45.4 640.3h0M53.8 657.8h0M80.6 659.6h0M95.0 650.5h0M52.5 651.3h0M74.9 660.4h0M52.2 655.1h0M49.9 643.5h0M49.3 623.0h0M65.7 663.0h0M52.9 634.1h0M73.4 663.1h0M61.8 633.8h0M59.5 631.6h0M53.1 639.3h0M83.4 654.8h0M95.9 654.3h0M79.4 655.2h0M53.5 646.4h0M82.2 649.9h0M79.3 650.0h0M52.7 661.4h0M81.3 664.0h0M68.5 664.2h0M56.6 660.7h0M55.8 664.1h0M86.5 645.7h0M65.0 632.8h0M79.4 650.0h0M55.9 630.7h0M68.5 636.4h0M98.0 657.5h0M47.8 648.4h0M79.4 642.3h0M51.9 655.3h0M86.8 648.6h0M82.7 640.1h0M48.6 643.4h0M75.0 624.7h0M53.7 645.0h0M51.7 637.6h0M57.2 662.6h0M65.4 632.3h0M51.8 633.3h0M75.4 666.4h0M73.8 661.1h0M62.0 664.9h0M47.2 642.5h0M75.2 639.5h0M64.7 622.6h0M62.9 634.6h0M63.2 662.8h0M82.0 618.7h0M82.0 647.0h0M60.2 637.0h0M59.8 622.9h0M53.7 654.3h0M82.2 637.6h0M60.0 637.5h0M87.6 654.6h0M80.6 664.0h0M62.7 635.8h0M77.3 617.5h0M69.8 632.3h0M80.6 651.7h0M72.7 661.1h0M84.8 641.5h0M68.6 662.7h0M67.8 666.4h0M77.6 636.1h0M53.2 633.0h0M76.4 642.5h0M74.9 667.7h0M59.3 637.5h0M92.2 639.9h0M57.8 639.2h0M57.0 659.0h0M58.4 661.4h0M55.1 635.8h0M57.4 661.7h0M64.4 623.7h0M65.0 634.7h0M97.7 639.2h0M61.6 662.3h0M87.8 656.3h0M67.0 668.8h0M67.5 663.0h0M61.2 635.7h0M82.7 638.7h0M61.8 665.0h0M83.8 660.6h0M56.3 665.2h0M69.7 667.2h0M50.8 640.8h0M80.0 644.5h0M88.2 632.7h0M52.2 653.5h0M48.0 635.8h0M61.4 669.5h0M63.4 663.6h0M72.6 660.9h0M51.0 650.8h0M53.8 645.0h0M55.1 637.8h0M95.9 660.4h0M78.0 665.2h0M80.6 657.2h0M59.7 673.5h0M74.6 659.5h0M64.3 629.3h0M89.5 675.8h0M75.7 628.9h0M82.4 644.9h0M87.4 665.7h0M53.9 638.1h0M70.0 630.3h0M56.2 641.6h0M49.9 657.3h0M71.5 662.0h0M52.0 631.8h0M49.2 660.0h0M59.8 663.8h0M52.1 660.2h0M54.5 657.5h0M51.9 638.0h0M48.3 654.2h0M74.6 681.5h0M88.9 649.4h0M47.5 644.6h0M65.7 668.5h0M53.5 642.5h0M79.0 653.8h0M42.0 659.6h0M63.9 674.4h0M73.0 623.9h0M57.3 624.2h0M66.7 671.1h0M70.6 632.7h0M50.5 652.9h0M82.4 651.9h0M91.6 656.3h0M92.1 617.5h0M83.3 655.5h0M87.1 629.1h0M62.3 632.6h0M54.2 645.0h0M51.7 659.7h0M66.3 631.6h0M61.9 663.2h0M48.6 647.9h0M51.8 625.4h0M63.6 662.6h0M70.8 631.2h0M78.5 643.2h0M53.8 642.2h0M74.0 639.5h0M70.6 629.1h0M62.9 663.8h0M49.8 665.3h0" stroke="#0f6894" stroke-width="1.1" stroke-linecap="round" fill="none"/>
<ellipse cx="86" cy="696" rx="13" ry="10" transform="rotate(15 86 696)" fill="none" stroke="#9b97c9" stroke-width="0.5" opacity="0.9"/>
<ellipse cx="87" cy="697" rx="9.5" ry="7" transform="rotate(15 87 697)" fill="none" stroke="#9b97c9" stroke-width="0.5" opacity="0.9"/>
<ellipse cx="88" cy="698" rx="6" ry="4.5" transform="rotate(15 88 698)" fill="none" stroke="#9b97c9" stroke-width="0.5" opacity="0.9"/>
<ellipse cx="89" cy="698.5" rx="3" ry="2.2" transform="rotate(15 89 698.5)" fill="none" stroke="#9b97c9" stroke-width="0.5" opacity="0.9"/>
<ellipse cx="110" cy="699" rx="12" ry="8" transform="rotate(25 110 699)" fill="none" stroke="#aec594" stroke-width="0.5" opacity="0.9"/>
<ellipse cx="108" cy="699" rx="7" ry="5" transform="rotate(25 108 699)" fill="none" stroke="#aec594" stroke-width="0.5" opacity="0.9"/>
<ellipse cx="124" cy="686" rx="12" ry="11" transform="rotate(0 124 686)" fill="none" stroke="#3a9a4b" stroke-width="0.5" opacity="0.9"/>
<ellipse cx="125" cy="687" rx="8.5" ry="8" transform="rotate(0 125 687)" fill="none" stroke="#3a9a4b" stroke-width="0.5" opacity="0.9"/>
<ellipse cx="126" cy="688" rx="5" ry="5" transform="rotate(0 126 688)" fill="none" stroke="#3a9a4b" stroke-width="0.5" opacity="0.9"/>
<ellipse cx="145" cy="645" rx="12" ry="5" transform="rotate(-35 145 645)" fill="none" stroke="#e0901c" stroke-width="0.5" opacity="0.9"/>
<ellipse cx="143" cy="646" rx="7" ry="3" transform="rotate(-35 143 646)" fill="none" stroke="#e0901c" stroke-width="0.5" opacity="0.9"/>
<ellipse cx="155" cy="660" rx="9" ry="6" transform="rotate(-30 155 660)" fill="none" stroke="#35a4d0" stroke-width="0.5" opacity="0.9"/>
<line x1="34.7" y1="597.2" x2="34.7" y2="732.6" stroke="#000" stroke-width="1.25" />
<line x1="34.1" y1="732" x2="213.3" y2="732" stroke="#000" stroke-width="1.25" />
<line x1="31.2" y1="623.3" x2="34.7" y2="623.3" stroke="#333" stroke-width="0.9" />
<text x="27" y="625.05" font-size="4.9" text-anchor="end" fill="#333" >2</text>
<line x1="31.2" y1="664.4" x2="34.7" y2="664.4" stroke="#333" stroke-width="0.9" />
<text x="27" y="666.15" font-size="4.9" text-anchor="end" fill="#333" >0</text>
<line x1="31.2" y1="705.5" x2="34.7" y2="705.5" stroke="#333" stroke-width="0.9" />
<text x="27" y="707.25" font-size="4.9" text-anchor="end" fill="#333" >−2</text>
<line x1="42" y1="732" x2="42" y2="735.2" stroke="#333" stroke-width="0.9" />
<text x="42" y="743.5" font-size="5" text-anchor="middle" fill="#333" >−4</text>
<line x1="88.5" y1="732" x2="88.5" y2="735.2" stroke="#333" stroke-width="0.9" />
<text x="88.5" y="743.5" font-size="5" text-anchor="middle" fill="#333" >−2</text>
<line x1="135" y1="732" x2="135" y2="735.2" stroke="#333" stroke-width="0.9" />
<text x="135" y="743.5" font-size="5" text-anchor="middle" fill="#333" >0</text>
<line x1="181.5" y1="732" x2="181.5" y2="735.2" stroke="#333" stroke-width="0.9" />
<text x="181.5" y="743.5" font-size="5" text-anchor="middle" fill="#333" >2</text>
<text x="96" y="755.2" font-size="7.4" text-anchor="start" fill="#111" textLength="55.9" lengthAdjust="spacingAndGlyphs" stroke="#111" stroke-width="0.15">1st principal component</text>
<text transform="translate(15.6 664.6) rotate(-90)" text-rendering="geometricPrecision" font-size="7.2" text-anchor="middle" fill="#222" font-weight="bold" textLength="58" lengthAdjust="spacingAndGlyphs">2nd principal component</text>
<text x="37.2" y="599.9" font-size="4.7" text-anchor="start" fill="#1a1a1a" textLength="40" lengthAdjust="spacingAndGlyphs" >Explained variation:</text>
<text x="37.2" y="605.8" font-size="4.7" text-anchor="start" fill="#1a1a1a" textLength="28.5" lengthAdjust="spacingAndGlyphs" >1st PC:55.7%</text>
<text x="37.2" y="611.7" font-size="4.7" text-anchor="start" fill="#1a1a1a" textLength="30" lengthAdjust="spacingAndGlyphs" >2nd PC:20.2%</text>
<text x="221" y="636.3" font-size="4.8" text-anchor="start" fill="#222" >Population</text>
<line x1="217.2" y1="643.8" x2="224.6" y2="643.8" stroke="#9b97c9" stroke-width="0.7" opacity="0.6"/>
<circle cx="220.9" cy="643.8" r="0.8" fill="#9b97c9"/>
<text x="227.8" y="645.5" font-size="4.8" text-anchor="start" fill="#222" >Pre−BI</text>
<line x1="217.2" y1="653.78" x2="224.6" y2="653.78" stroke="#aec594" stroke-width="0.7" opacity="0.6"/>
<circle cx="220.9" cy="653.78" r="0.8" fill="#aec594"/>
<text x="227.8" y="655.48" font-size="4.8" text-anchor="start" fill="#222" >Pre−BII</text>
<line x1="217.2" y1="663.76" x2="224.6" y2="663.76" stroke="#3a9a4b" stroke-width="0.7" opacity="0.6"/>
<circle cx="220.9" cy="663.76" r="0.8" fill="#3a9a4b"/>
<text x="227.8" y="665.46" font-size="4.8" text-anchor="start" fill="#222" >Immature</text>
<line x1="217.2" y1="673.74" x2="224.6" y2="673.74" stroke="#35a4d0" stroke-width="0.7" opacity="0.6"/>
<circle cx="220.9" cy="673.74" r="0.8" fill="#35a4d0"/>
<text x="227.8" y="675.44" font-size="4.8" text-anchor="start" fill="#222" >Naive</text>
<line x1="217.2" y1="683.72" x2="224.6" y2="683.72" stroke="#e0901c" stroke-width="0.7" opacity="0.6"/>
<circle cx="220.9" cy="683.72" r="0.8" fill="#e0901c"/>
<text x="227.8" y="685.42" font-size="4.8" text-anchor="start" fill="#222" >Memory</text>
<line x1="217.2" y1="693.7" x2="224.6" y2="693.7" stroke="#0f6894" stroke-width="0.7" opacity="0.6"/>
<circle cx="220.9" cy="693.7" r="0.8" fill="#0f6894"/>
<text x="227.8" y="695.4" font-size="4.8" text-anchor="start" fill="#222" >Plasmacell</text>
<text x="201.5" y="19.5" font-size="14" text-anchor="start" fill="#000" font-weight="bold" >C</text>
<text x="219.8" y="53" font-size="4.6" text-anchor="start" fill="#000" font-weight="bold" textLength="23.2" lengthAdjust="spacingAndGlyphs" >Color Key</text>
<defs><linearGradient id="ck220" x1="0" x2="1" y1="0" y2="0"><stop offset="0" stop-color="#8c4c12"/><stop offset="0.12" stop-color="#cd7a30"/><stop offset="0.3" stop-color="#dc9a60"/><stop offset="0.45" stop-color="#f0d8c4"/><stop offset="0.53" stop-color="#ffffff"/><stop offset="0.62" stop-color="#b0ddd0"/><stop offset="0.72" stop-color="#3fa58a"/><stop offset="0.82" stop-color="#0e8a6c"/><stop offset="1" stop-color="#25a55a"/></linearGradient></defs>
<rect x="220.4" y="57.1" width="22.3" height="6.6" fill="url(#ck220)" stroke="#000" stroke-width="0.6"/>
<line x1="221.2" y1="64" x2="221.2" y2="66.4" stroke="#555" stroke-width="0.5" />
<line x1="224.54" y1="64" x2="224.54" y2="66.4" stroke="#555" stroke-width="0.5" />
<line x1="227.88" y1="64" x2="227.88" y2="66.4" stroke="#555" stroke-width="0.5" />
<line x1="231.22" y1="64" x2="231.22" y2="66.4" stroke="#555" stroke-width="0.5" />
<line x1="234.56" y1="64" x2="234.56" y2="66.4" stroke="#555" stroke-width="0.5" />
<line x1="237.9" y1="64" x2="237.9" y2="66.4" stroke="#555" stroke-width="0.5" />
<line x1="241.24" y1="64" x2="241.24" y2="66.4" stroke="#555" stroke-width="0.5" />
<text x="221.5" y="72" font-size="4.7" text-anchor="middle" fill="#000" >−3</text>
<text x="231.7" y="72" font-size="4.7" text-anchor="middle" fill="#000" >0</text>
<text x="237.8" y="72" font-size="4.7" text-anchor="middle" fill="#000" >2</text>
<text x="216.6" y="81.3" font-size="6.9" text-anchor="start" fill="#111" textLength="29.6" lengthAdjust="spacingAndGlyphs" stroke="#111" stroke-width="0.2">Row Z−score</text>
<text x="288.7" y="57" font-size="7.3" text-anchor="start" fill="#000" font-weight="bold" textLength="85.1" lengthAdjust="spacingAndGlyphs" >Subpopulation Profiles</text>
<line x1="279.7" y1="70.1" x2="359.4" y2="70.1" stroke="#1a1a1a" stroke-width="0.75" />
<line x1="279.7" y1="70.1" x2="279.7" y2="81.2" stroke="#1a1a1a" stroke-width="0.75" />
<line x1="358.7" y1="70.1" x2="358.7" y2="86.7" stroke="#1a1a1a" stroke-width="0.75" />
<line x1="258.5" y1="81.2" x2="301.2" y2="81.2" stroke="#1a1a1a" stroke-width="0.75" />
<line x1="258.5" y1="81.2" x2="258.5" y2="87.8" stroke="#1a1a1a" stroke-width="0.75" />
<line x1="301.2" y1="81.2" x2="301.2" y2="86" stroke="#1a1a1a" stroke-width="0.75" />
<line x1="249.3" y1="87.8" x2="277" y2="87.8" stroke="#1a1a1a" stroke-width="0.75" />
<line x1="287.4" y1="86" x2="314.2" y2="86" stroke="#1a1a1a" stroke-width="0.75" />
<line x1="287.4" y1="86" x2="287.4" y2="87.3" stroke="#1a1a1a" stroke-width="0.75" />
<line x1="314.2" y1="86" x2="314.2" y2="87.3" stroke="#1a1a1a" stroke-width="0.75" />
<line x1="280.5" y1="87.3" x2="290" y2="87.3" stroke="#1a1a1a" stroke-width="0.75" />
<line x1="305.6" y1="87.3" x2="328" y2="87.3" stroke="#1a1a1a" stroke-width="0.75" />
<line x1="340.6" y1="86.7" x2="376.9" y2="86.7" stroke="#1a1a1a" stroke-width="0.75" />
<line x1="340.6" y1="86.7" x2="340.6" y2="87.5" stroke="#1a1a1a" stroke-width="0.75" />
<line x1="376.9" y1="86.7" x2="376.9" y2="87.5" stroke="#1a1a1a" stroke-width="0.75" />
<line x1="332.8" y1="87.5" x2="341.4" y2="87.5" stroke="#1a1a1a" stroke-width="0.75" />
<line x1="378.6" y1="87.5" x2="411.5" y2="87.5" stroke="#1a1a1a" stroke-width="0.75" />
<rect x="247.5" y="89" width="31.03" height="12" fill="#0f6894"/>
<rect x="278.23" y="89" width="26.64" height="12" fill="#9b97c9"/>
<rect x="304.57" y="89" width="26.64" height="12" fill="#aec594"/>
<rect x="330.91" y="89" width="22.25" height="12" fill="#3a9a4b"/>
<rect x="352.86" y="89" width="26.64" height="12" fill="#e0901c"/>
<rect x="379.2" y="89" width="4.69" height="12" fill="#35a4d0"/>
<rect x="383.59" y="89" width="4.69" height="12" fill="#e0901c"/>
<rect x="387.98" y="89" width="26.64" height="12" fill="#35a4d0"/>
<path d="M247.50 103.40h17.91v35.30h-17.91zM273.84 103.40h4.74v35.30h-4.74zM357.25 103.40h17.91v35.30h-17.91zM396.76 103.40h17.91v35.30h-17.91zM265.06 138.35h4.74v35.30h-4.74zM396.76 138.35h4.74v35.30h-4.74zM383.59 173.30h4.74v35.30h-4.74zM396.76 173.30h4.74v35.30h-4.74zM405.54 173.30h9.13v35.30h-9.13zM304.57 208.25h4.74v35.30h-4.74zM313.35 208.25h4.74v35.30h-4.74zM322.13 208.25h9.13v35.30h-9.13zM344.08 208.25h9.13v35.30h-9.13zM392.37 208.25h4.74v35.30h-4.74zM256.28 278.15h4.74v35.30h-4.74zM282.62 278.15h22.30v35.30h-22.30zM308.96 278.15h4.74v35.30h-4.74zM300.18 313.10h4.74v35.30h-4.74z" fill="#dcaa84"/>
<path d="M265.06 103.40h9.13v35.30h-9.13zM265.06 243.20h4.74v35.30h-4.74zM282.62 243.20h4.74v35.30h-4.74zM247.50 278.15h9.13v35.30h-9.13zM260.67 278.15h4.74v35.30h-4.74zM269.45 278.15h13.52v35.30h-13.52zM304.57 278.15h4.74v35.30h-4.74z" fill="#d2925c"/>
<path d="M278.23 103.40h4.74v35.30h-4.74zM256.28 173.30h9.13v35.30h-9.13zM269.45 173.30h9.13v35.30h-9.13zM304.57 173.30h9.13v35.30h-9.13zM370.42 208.25h9.13v35.30h-9.13zM344.08 243.20h4.74v35.30h-4.74zM374.81 243.20h4.74v35.30h-4.74zM392.37 243.20h17.91v35.30h-17.91zM330.91 278.15h83.76v35.30h-83.76zM401.15 313.10h13.52v35.30h-13.52z" fill="#62aa96"/>
<path d="M282.62 103.40h9.13v35.30h-9.13zM295.79 103.40h22.30v35.30h-22.30zM322.13 103.40h4.74v35.30h-4.74zM287.01 138.35h4.74v35.30h-4.74zM265.06 173.30h4.74v35.30h-4.74zM317.74 173.30h4.74v35.30h-4.74zM344.08 173.30h9.13v35.30h-9.13zM247.50 208.25h4.74v35.30h-4.74zM256.28 208.25h4.74v35.30h-4.74zM348.47 243.20h4.74v35.30h-4.74zM308.96 313.10h4.74v35.30h-4.74zM348.47 313.10h4.74v35.30h-4.74zM396.76 313.10h4.74v35.30h-4.74z" fill="#3a9580"/>
<path d="M291.40 103.40h4.74v35.30h-4.74zM317.74 103.40h4.74v35.30h-4.74zM326.52 103.40h4.74v35.30h-4.74zM278.23 138.35h4.74v35.30h-4.74zM260.67 208.25h4.74v35.30h-4.74z" fill="#0e8a66"/>
<path d="M330.91 103.40h4.74v35.30h-4.74zM251.89 138.35h4.74v35.30h-4.74zM322.13 138.35h4.74v35.30h-4.74zM335.30 138.35h4.74v35.30h-4.74zM344.08 138.35h4.74v35.30h-4.74zM379.20 138.35h4.74v35.30h-4.74zM409.93 138.35h4.74v35.30h-4.74zM278.23 208.25h9.13v35.30h-9.13zM396.76 208.25h4.74v35.30h-4.74zM287.01 243.20h4.74v35.30h-4.74zM308.96 243.20h4.74v35.30h-4.74zM313.35 278.15h4.74v35.30h-4.74zM282.62 313.10h4.74v35.30h-4.74zM322.13 313.10h4.74v35.30h-4.74z" fill="#f3ece8"/>
<path d="M335.30 103.40h4.74v35.30h-4.74zM383.59 103.40h4.74v35.30h-4.74zM247.50 138.35h4.74v35.30h-4.74zM304.57 138.35h4.74v35.30h-4.74zM366.03 138.35h4.74v35.30h-4.74zM247.50 173.30h4.74v35.30h-4.74zM330.91 173.30h4.74v35.30h-4.74zM352.86 208.25h9.13v35.30h-9.13zM313.35 243.20h13.52v35.30h-13.52zM317.74 313.10h4.74v35.30h-4.74zM352.86 313.10h4.74v35.30h-4.74zM374.81 313.10h4.74v35.30h-4.74zM383.59 313.10h4.74v35.30h-4.74z" fill="#e1ebe9"/>
<path d="M339.69 103.40h9.13v35.30h-9.13zM379.20 103.40h4.74v35.30h-4.74zM251.89 173.30h4.74v35.30h-4.74zM282.62 173.30h9.13v35.30h-9.13zM295.79 173.30h9.13v35.30h-9.13zM322.13 173.30h4.74v35.30h-4.74zM361.64 208.25h9.13v35.30h-9.13zM383.59 208.25h4.74v35.30h-4.74zM326.52 243.20h4.74v35.30h-4.74zM326.52 313.10h4.74v35.30h-4.74zM357.25 313.10h4.74v35.30h-4.74zM370.42 313.10h4.74v35.30h-4.74z" fill="#bfdcd5"/>
<path d="M348.47 103.40h4.74v35.30h-4.74zM291.40 173.30h4.74v35.30h-4.74zM313.35 173.30h4.74v35.30h-4.74zM326.52 173.30h4.74v35.30h-4.74zM335.30 173.30h9.13v35.30h-9.13zM330.91 243.20h13.52v35.30h-13.52zM352.86 243.20h22.30v35.30h-22.30zM379.20 243.20h13.52v35.30h-13.52zM409.93 243.20h4.74v35.30h-4.74zM304.57 313.10h4.74v35.30h-4.74zM330.91 313.10h4.74v35.30h-4.74zM339.69 313.10h9.13v35.30h-9.13zM361.64 313.10h4.74v35.30h-4.74zM379.20 313.10h4.74v35.30h-4.74zM387.98 313.10h9.13v35.30h-9.13z" fill="#90c4b7"/>
<path d="M352.86 103.40h4.74v35.30h-4.74zM374.81 103.40h4.74v35.30h-4.74zM387.98 103.40h9.13v35.30h-9.13zM256.28 138.35h4.74v35.30h-4.74zM269.45 138.35h4.74v35.30h-4.74zM313.35 138.35h4.74v35.30h-4.74zM326.52 138.35h9.13v35.30h-9.13zM348.47 138.35h13.52v35.30h-13.52zM370.42 138.35h9.13v35.30h-9.13zM405.54 138.35h4.74v35.30h-4.74zM379.20 173.30h4.74v35.30h-4.74zM401.15 173.30h4.74v35.30h-4.74zM295.79 208.25h9.13v35.30h-9.13zM308.96 208.25h4.74v35.30h-4.74zM317.74 208.25h4.74v35.30h-4.74zM330.91 208.25h9.13v35.30h-9.13zM379.20 208.25h4.74v35.30h-4.74zM387.98 208.25h4.74v35.30h-4.74zM405.54 208.25h4.74v35.30h-4.74zM291.40 243.20h4.74v35.30h-4.74zM300.18 243.20h9.13v35.30h-9.13zM326.52 278.15h4.74v35.30h-4.74zM251.89 313.10h4.74v35.30h-4.74zM295.79 313.10h4.74v35.30h-4.74zM366.03 313.10h4.74v35.30h-4.74z" fill="#e9c8b0"/>
<path d="M260.67 138.35h4.74v35.30h-4.74zM273.84 138.35h4.74v35.30h-4.74zM308.96 138.35h4.74v35.30h-4.74zM317.74 138.35h4.74v35.30h-4.74zM339.69 138.35h4.74v35.30h-4.74zM361.64 138.35h4.74v35.30h-4.74zM383.59 138.35h13.52v35.30h-13.52zM401.15 138.35h4.74v35.30h-4.74zM278.23 173.30h4.74v35.30h-4.74zM387.98 173.30h9.13v35.30h-9.13zM287.01 208.25h9.13v35.30h-9.13zM339.69 208.25h4.74v35.30h-4.74zM401.15 208.25h4.74v35.30h-4.74zM409.93 208.25h4.74v35.30h-4.74zM295.79 243.20h4.74v35.30h-4.74zM317.74 278.15h9.13v35.30h-9.13zM247.50 313.10h4.74v35.30h-4.74zM278.23 313.10h4.74v35.30h-4.74zM313.35 313.10h4.74v35.30h-4.74z" fill="#f0dcd0"/>
<path d="M282.62 138.35h4.74v35.30h-4.74zM291.40 138.35h13.52v35.30h-13.52zM251.89 208.25h4.74v35.30h-4.74zM265.06 208.25h13.52v35.30h-13.52zM335.30 313.10h4.74v35.30h-4.74z" fill="#1f9a5a"/>
<path d="M352.86 173.30h13.52v35.30h-13.52zM374.81 173.30h4.74v35.30h-4.74zM247.50 243.20h9.13v35.30h-9.13zM260.67 243.20h4.74v35.30h-4.74zM269.45 243.20h4.74v35.30h-4.74zM265.06 278.15h4.74v35.30h-4.74zM256.28 313.10h13.52v35.30h-13.52zM287.01 313.10h9.13v35.30h-9.13z" fill="#c8772f"/>
<path d="M366.03 173.30h9.13v35.30h-9.13zM256.28 243.20h4.74v35.30h-4.74zM273.84 243.20h9.13v35.30h-9.13zM269.45 313.10h9.13v35.30h-9.13z" fill="#b96a22"/>
<line x1="240" y1="120.88" x2="247.3" y2="120.88" stroke="#1a1a1a" stroke-width="0.75" />
<line x1="240" y1="155.83" x2="247.3" y2="155.83" stroke="#1a1a1a" stroke-width="0.75" />
<line x1="240" y1="120.88" x2="240" y2="155.83" stroke="#1a1a1a" stroke-width="0.75" />
<line x1="235.2" y1="138.35" x2="240" y2="138.35" stroke="#1a1a1a" stroke-width="0.75" />
<line x1="235.2" y1="190.78" x2="247.3" y2="190.78" stroke="#1a1a1a" stroke-width="0.75" />
<line x1="235.2" y1="138.35" x2="235.2" y2="190.78" stroke="#1a1a1a" stroke-width="0.75" />
<line x1="223.1" y1="164.3" x2="235.2" y2="164.3" stroke="#1a1a1a" stroke-width="0.75" />
<line x1="223.1" y1="225.73" x2="247.3" y2="225.73" stroke="#1a1a1a" stroke-width="0.75" />
<line x1="223.1" y1="164.3" x2="223.1" y2="225.73" stroke="#1a1a1a" stroke-width="0.75" />
<line x1="245.1" y1="260.68" x2="247.3" y2="260.68" stroke="#1a1a1a" stroke-width="0.75" />
<line x1="245.1" y1="295.62" x2="247.3" y2="295.62" stroke="#1a1a1a" stroke-width="0.75" />
<line x1="245.1" y1="260.68" x2="245.1" y2="295.62" stroke="#1a1a1a" stroke-width="0.75" />
<line x1="241.5" y1="278.15" x2="245.1" y2="278.15" stroke="#1a1a1a" stroke-width="0.75" />
<line x1="241.5" y1="330.58" x2="247.3" y2="330.58" stroke="#1a1a1a" stroke-width="0.75" />
<line x1="241.5" y1="278.15" x2="241.5" y2="330.58" stroke="#1a1a1a" stroke-width="0.75" />
<line x1="202.4" y1="195" x2="223.1" y2="195" stroke="#1a1a1a" stroke-width="0.75" />
<line x1="202.4" y1="304.3" x2="241.5" y2="304.3" stroke="#1a1a1a" stroke-width="0.75" />
<line x1="202.4" y1="195" x2="202.4" y2="304.3" stroke="#1a1a1a" stroke-width="0.75" />
<text x="417.3" y="122.67" font-size="5.1" text-anchor="start" fill="#222" >MME</text>
<text x="417.3" y="157.63" font-size="5.1" text-anchor="start" fill="#222" >CD34</text>
<text x="417.3" y="192.58" font-size="5.1" text-anchor="start" fill="#222" >CD38</text>
<text x="417.3" y="227.53" font-size="5.1" text-anchor="start" fill="#222" >CD27</text>
<text x="417.3" y="262.48" font-size="5.1" text-anchor="start" fill="#222" >PTPRC</text>
<text x="417.3" y="297.43" font-size="5.1" text-anchor="start" fill="#222" >MS4A1</text>
<text x="417.3" y="332.38" font-size="5.1" text-anchor="start" fill="#222" >CD19</text>
<text transform="translate(445.2 225.8) rotate(-90)" text-rendering="geometricPrecision" font-size="8" text-anchor="middle" fill="#222" font-weight="bold" textLength="14.2" lengthAdjust="spacingAndGlyphs">Genes</text>
<text transform="translate(251.71 352.6) rotate(-90)" text-rendering="geometricPrecision" font-size="5.6" text-anchor="end" fill="#2a2a2a" textLength="38.36" lengthAdjust="spacingAndGlyphs">Plasmacell B096</text>
<text transform="translate(256.1 352.6) rotate(-90)" text-rendering="geometricPrecision" font-size="5.6" text-anchor="end" fill="#2a2a2a" textLength="38.36" lengthAdjust="spacingAndGlyphs">Plasmacell B095</text>
<text transform="translate(260.49 352.6) rotate(-90)" text-rendering="geometricPrecision" font-size="5.6" text-anchor="end" fill="#2a2a2a" textLength="41.22" lengthAdjust="spacingAndGlyphs">Plasmacell B1014</text>
<text transform="translate(264.88 352.6) rotate(-90)" text-rendering="geometricPrecision" font-size="5.6" text-anchor="end" fill="#2a2a2a" textLength="38.36" lengthAdjust="spacingAndGlyphs">Plasmacell B094</text>
<text transform="translate(269.27 352.6) rotate(-90)" text-rendering="geometricPrecision" font-size="5.6" text-anchor="end" fill="#2a2a2a" textLength="38.36" lengthAdjust="spacingAndGlyphs">Plasmacell B084</text>
<text transform="translate(273.66 352.6) rotate(-90)" text-rendering="geometricPrecision" font-size="5.6" text-anchor="end" fill="#2a2a2a" textLength="41.22" lengthAdjust="spacingAndGlyphs">Plasmacell B1064</text>
<text transform="translate(278.05 352.6) rotate(-90)" text-rendering="geometricPrecision" font-size="5.6" text-anchor="end" fill="#2a2a2a" textLength="38.36" lengthAdjust="spacingAndGlyphs">Plasmacell B054</text>
<text transform="translate(282.44 352.6) rotate(-90)" text-rendering="geometricPrecision" font-size="5.6" text-anchor="end" fill="#2a2a2a" textLength="29.35" lengthAdjust="spacingAndGlyphs">Pre−BI B096</text>
<text transform="translate(286.83 352.6) rotate(-90)" text-rendering="geometricPrecision" font-size="5.6" text-anchor="end" fill="#2a2a2a" textLength="29.35" lengthAdjust="spacingAndGlyphs">Pre−BI B095</text>
<text transform="translate(291.22 352.6) rotate(-90)" text-rendering="geometricPrecision" font-size="5.6" text-anchor="end" fill="#2a2a2a" textLength="32.21" lengthAdjust="spacingAndGlyphs">Pre−BI B1014</text>
<text transform="translate(295.61 352.6) rotate(-90)" text-rendering="geometricPrecision" font-size="5.6" text-anchor="end" fill="#2a2a2a" textLength="29.35" lengthAdjust="spacingAndGlyphs">Pre−BI B094</text>
<text transform="translate(300 352.6) rotate(-90)" text-rendering="geometricPrecision" font-size="5.6" text-anchor="end" fill="#2a2a2a" textLength="29.35" lengthAdjust="spacingAndGlyphs">Pre−BI B084</text>
<text transform="translate(304.39 352.6) rotate(-90)" text-rendering="geometricPrecision" font-size="5.6" text-anchor="end" fill="#2a2a2a" textLength="32.21" lengthAdjust="spacingAndGlyphs">Pre−BI B1064</text>
<text transform="translate(308.78 352.6) rotate(-90)" text-rendering="geometricPrecision" font-size="5.6" text-anchor="end" fill="#2a2a2a" textLength="30.78" lengthAdjust="spacingAndGlyphs">Pre−BII B096</text>
<text transform="translate(313.17 352.6) rotate(-90)" text-rendering="geometricPrecision" font-size="5.6" text-anchor="end" fill="#2a2a2a" textLength="30.78" lengthAdjust="spacingAndGlyphs">Pre−BII B095</text>
<text transform="translate(317.56 352.6) rotate(-90)" text-rendering="geometricPrecision" font-size="5.6" text-anchor="end" fill="#2a2a2a" textLength="33.64" lengthAdjust="spacingAndGlyphs">Pre−BII B1014</text>
<text transform="translate(321.95 352.6) rotate(-90)" text-rendering="geometricPrecision" font-size="5.6" text-anchor="end" fill="#2a2a2a" textLength="30.78" lengthAdjust="spacingAndGlyphs">Pre−BII B094</text>
<text transform="translate(326.34 352.6) rotate(-90)" text-rendering="geometricPrecision" font-size="5.6" text-anchor="end" fill="#2a2a2a" textLength="30.78" lengthAdjust="spacingAndGlyphs">Pre−BII B084</text>
<text transform="translate(330.73 352.6) rotate(-90)" text-rendering="geometricPrecision" font-size="5.6" text-anchor="end" fill="#2a2a2a" textLength="33.64" lengthAdjust="spacingAndGlyphs">Pre−BII B1064</text>
<text transform="translate(335.12 352.6) rotate(-90)" text-rendering="geometricPrecision" font-size="5.6" text-anchor="end" fill="#2a2a2a" textLength="35.21" lengthAdjust="spacingAndGlyphs">Immature B096</text>
<text transform="translate(339.51 352.6) rotate(-90)" text-rendering="geometricPrecision" font-size="5.6" text-anchor="end" fill="#2a2a2a" textLength="35.21" lengthAdjust="spacingAndGlyphs">Immature B095</text>
<text transform="translate(343.9 352.6) rotate(-90)" text-rendering="geometricPrecision" font-size="5.6" text-anchor="end" fill="#2a2a2a" textLength="38.07" lengthAdjust="spacingAndGlyphs">Immature B1014</text>
<text transform="translate(348.29 352.6) rotate(-90)" text-rendering="geometricPrecision" font-size="5.6" text-anchor="end" fill="#2a2a2a" textLength="35.21" lengthAdjust="spacingAndGlyphs">Immature B094</text>
<text transform="translate(352.68 352.6) rotate(-90)" text-rendering="geometricPrecision" font-size="5.6" text-anchor="end" fill="#2a2a2a" textLength="35.21" lengthAdjust="spacingAndGlyphs">Immature B084</text>
<text transform="translate(357.07 352.6) rotate(-90)" text-rendering="geometricPrecision" font-size="5.6" text-anchor="end" fill="#2a2a2a" textLength="32.05" lengthAdjust="spacingAndGlyphs">Memory B096</text>
<text transform="translate(361.46 352.6) rotate(-90)" text-rendering="geometricPrecision" font-size="5.6" text-anchor="end" fill="#2a2a2a" textLength="32.05" lengthAdjust="spacingAndGlyphs">Memory B095</text>
<text transform="translate(365.85 352.6) rotate(-90)" text-rendering="geometricPrecision" font-size="5.6" text-anchor="end" fill="#2a2a2a" textLength="34.92" lengthAdjust="spacingAndGlyphs">Memory B1014</text>
<text transform="translate(370.24 352.6) rotate(-90)" text-rendering="geometricPrecision" font-size="5.6" text-anchor="end" fill="#2a2a2a" textLength="32.05" lengthAdjust="spacingAndGlyphs">Memory B094</text>
<text transform="translate(374.63 352.6) rotate(-90)" text-rendering="geometricPrecision" font-size="5.6" text-anchor="end" fill="#2a2a2a" textLength="32.05" lengthAdjust="spacingAndGlyphs">Memory B084</text>
<text transform="translate(379.02 352.6) rotate(-90)" text-rendering="geometricPrecision" font-size="5.6" text-anchor="end" fill="#2a2a2a" textLength="34.92" lengthAdjust="spacingAndGlyphs">Memory B1064</text>
<text transform="translate(383.41 352.6) rotate(-90)" text-rendering="geometricPrecision" font-size="5.6" text-anchor="end" fill="#2a2a2a" textLength="26.62" lengthAdjust="spacingAndGlyphs">Naive B096</text>
<text transform="translate(387.8 352.6) rotate(-90)" text-rendering="geometricPrecision" font-size="5.6" text-anchor="end" fill="#2a2a2a" textLength="32.05" lengthAdjust="spacingAndGlyphs">Memory B054</text>
<text transform="translate(392.19 352.6) rotate(-90)" text-rendering="geometricPrecision" font-size="5.6" text-anchor="end" fill="#2a2a2a" textLength="26.62" lengthAdjust="spacingAndGlyphs">Naive B095</text>
<text transform="translate(396.58 352.6) rotate(-90)" text-rendering="geometricPrecision" font-size="5.6" text-anchor="end" fill="#2a2a2a" textLength="29.49" lengthAdjust="spacingAndGlyphs">Naive B1014</text>
<text transform="translate(400.97 352.6) rotate(-90)" text-rendering="geometricPrecision" font-size="5.6" text-anchor="end" fill="#2a2a2a" textLength="26.62" lengthAdjust="spacingAndGlyphs">Naive B094</text>
<text transform="translate(405.36 352.6) rotate(-90)" text-rendering="geometricPrecision" font-size="5.6" text-anchor="end" fill="#2a2a2a" textLength="26.62" lengthAdjust="spacingAndGlyphs">Naive B084</text>
<text transform="translate(409.75 352.6) rotate(-90)" text-rendering="geometricPrecision" font-size="5.6" text-anchor="end" fill="#2a2a2a" textLength="29.49" lengthAdjust="spacingAndGlyphs">Naive B1064</text>
<text transform="translate(414.14 352.6) rotate(-90)" text-rendering="geometricPrecision" font-size="5.6" text-anchor="end" fill="#2a2a2a" textLength="26.62" lengthAdjust="spacingAndGlyphs">Naive B054</text>
<text x="320.6" y="403.5" font-size="7.3" text-anchor="start" fill="#111" textLength="20" lengthAdjust="spacingAndGlyphs" stroke="#111" stroke-width="0.2">Samples</text>
<text x="265.6" y="441.3" font-size="14" text-anchor="start" fill="#000" font-weight="bold" >D</text>
<text x="288.5" y="428.6" font-size="4.6" text-anchor="start" fill="#000" font-weight="bold" textLength="23" lengthAdjust="spacingAndGlyphs" >Color Key</text>
<defs><linearGradient id="ck289" x1="0" x2="1" y1="0" y2="0"><stop offset="0" stop-color="#8c4c12"/><stop offset="0.12" stop-color="#cd7a30"/><stop offset="0.3" stop-color="#dc9a60"/><stop offset="0.45" stop-color="#f0d8c4"/><stop offset="0.53" stop-color="#ffffff"/><stop offset="0.62" stop-color="#b0ddd0"/><stop offset="0.72" stop-color="#3fa58a"/><stop offset="0.82" stop-color="#0e8a6c"/><stop offset="1" stop-color="#25a55a"/></linearGradient></defs>
<rect x="289.2" y="432" width="21.2" height="6.5" fill="url(#ck289)" stroke="#000" stroke-width="0.6"/>
<line x1="294.2" y1="438.6" x2="294.2" y2="441" stroke="#333" stroke-width="0.5" />
<line x1="299.6" y1="438.6" x2="299.6" y2="441" stroke="#333" stroke-width="0.5" />
<line x1="305" y1="438.6" x2="305" y2="441" stroke="#333" stroke-width="0.5" />
<text x="294" y="448.2" font-size="4.7" text-anchor="middle" fill="#000" >−2</text>
<text x="304.8" y="448.2" font-size="4.7" text-anchor="middle" fill="#000" >2</text>
<text x="285" y="457.7" font-size="7" text-anchor="start" fill="#111" textLength="29.2" lengthAdjust="spacingAndGlyphs" stroke="#111" stroke-width="0.2">Row Z−score</text>
<text x="346.7" y="434.6" font-size="7.3" text-anchor="start" fill="#000" font-weight="bold" textLength="84.6" lengthAdjust="spacingAndGlyphs" >Subpopulation Profiles</text>
<line x1="325.4" y1="444.8" x2="391" y2="444.8" stroke="#111" stroke-width="0.75" />
<line x1="325.4" y1="444.8" x2="325.4" y2="461.3" stroke="#111" stroke-width="0.75" />
<line x1="391" y1="444.8" x2="391" y2="448.4" stroke="#111" stroke-width="0.75" />
<line x1="366.2" y1="448.4" x2="415.6" y2="448.4" stroke="#111" stroke-width="0.75" />
<line x1="366.2" y1="448.4" x2="366.2" y2="457.2" stroke="#111" stroke-width="0.75" />
<line x1="415.6" y1="448.4" x2="415.6" y2="460.6" stroke="#111" stroke-width="0.75" />
<line x1="353.5" y1="457.2" x2="378.6" y2="457.2" stroke="#111" stroke-width="0.75" />
<line x1="353.5" y1="457.2" x2="353.5" y2="461.3" stroke="#111" stroke-width="0.75" />
<line x1="378.6" y1="457.2" x2="378.6" y2="461" stroke="#111" stroke-width="0.75" />
<line x1="317" y1="461.3" x2="340" y2="461.3" stroke="#111" stroke-width="0.75" />
<line x1="346" y1="461.3" x2="366" y2="461.3" stroke="#111" stroke-width="0.75" />
<line x1="372" y1="461" x2="392" y2="461" stroke="#111" stroke-width="0.75" />
<line x1="398" y1="461.2" x2="412" y2="461.2" stroke="#111" stroke-width="0.75" />
<line x1="416" y1="460.6" x2="470" y2="460.6" stroke="#111" stroke-width="0.75" />
<line x1="420" y1="460" x2="440" y2="460" stroke="#111" stroke-width="0.75" />
<line x1="440" y1="459.6" x2="466" y2="459.6" stroke="#111" stroke-width="0.75" />
<line x1="400" y1="460.2" x2="430" y2="460.2" stroke="#111" stroke-width="0.75" />
<rect x="315" y="462.6" width="29.59" height="11.1" fill="#0f6894"/>
<rect x="344.29" y="462.6" width="25.4" height="11.1" fill="#9b97c9"/>
<rect x="369.39" y="462.6" width="25.4" height="11.1" fill="#aec594"/>
<rect x="394.5" y="462.6" width="21.22" height="11.1" fill="#3a9a4b"/>
<rect x="415.42" y="462.6" width="4.48" height="11.1" fill="#e0901c"/>
<rect x="419.6" y="462.6" width="4.48" height="11.1" fill="#35a4d0"/>
<rect x="423.78" y="462.6" width="4.48" height="11.1" fill="#e0901c"/>
<rect x="427.97" y="462.6" width="8.67" height="11.1" fill="#35a4d0"/>
<rect x="436.34" y="462.6" width="21.22" height="11.1" fill="#e0901c"/>
<rect x="457.26" y="462.6" width="17.04" height="11.1" fill="#35a4d0"/>
<path d="M315.00 476.00h4.53v5.56h-4.53zM377.76 476.00h4.53v5.56h-4.53zM415.42 476.00h4.53v5.56h-4.53zM377.76 481.21h4.53v5.56h-4.53zM381.94 486.42h4.53v5.56h-4.53zM323.37 491.63h4.53v5.56h-4.53zM331.74 491.63h8.72v5.56h-8.72zM327.55 496.84h4.53v5.56h-4.53zM327.55 502.05h4.53v5.56h-4.53zM394.50 512.47h4.53v5.56h-4.53zM398.68 533.31h4.53v5.56h-4.53zM407.05 533.31h4.53v5.56h-4.53zM469.81 538.52h4.53v5.56h-4.53zM423.78 543.73h4.53v5.56h-4.53zM331.74 548.94h4.53v5.56h-4.53zM436.34 559.36h4.53v5.56h-4.53zM331.74 564.57h4.53v5.56h-4.53zM369.39 564.57h4.53v5.56h-4.53zM369.39 569.78h4.53v5.56h-4.53zM448.89 574.99h4.53v5.56h-4.53zM315.00 580.20h4.53v5.56h-4.53zM327.55 580.20h8.72v5.56h-8.72zM340.10 580.20h4.53v5.56h-4.53zM315.00 585.41h8.72v5.56h-8.72zM327.55 585.41h12.90v5.56h-12.90zM315.00 590.62h4.53v5.56h-4.53zM315.00 595.83h4.53v5.56h-4.53zM331.74 595.83h12.90v5.56h-12.90zM315.00 616.67h8.72v5.56h-8.72zM344.29 616.67h4.53v5.56h-4.53zM415.42 616.67h4.53v5.56h-4.53zM315.00 621.88h8.72v5.56h-8.72zM381.94 632.30h4.53v5.56h-4.53zM394.50 632.30h4.53v5.56h-4.53zM352.66 642.72h4.53v5.56h-4.53zM352.66 647.93h4.53v5.56h-4.53zM361.02 647.93h8.72v5.56h-8.72zM331.74 653.14h4.53v5.56h-4.53zM344.29 658.35h25.45v5.56h-25.45zM461.44 684.40h4.53v5.56h-4.53zM369.39 694.82h4.53v5.56h-4.53z" fill="#c8772f"/>
<path d="M319.18 476.00h4.53v5.56h-4.53zM398.68 476.00h4.53v5.56h-4.53zM407.05 476.00h8.72v5.56h-8.72zM436.34 476.00h4.53v5.56h-4.53zM344.29 481.21h4.53v5.56h-4.53zM398.68 481.21h4.53v5.56h-4.53zM407.05 481.21h4.53v5.56h-4.53zM427.97 481.21h4.53v5.56h-4.53zM440.52 481.21h4.53v5.56h-4.53zM453.07 481.21h4.53v5.56h-4.53zM323.37 486.42h4.53v5.56h-4.53zM331.74 486.42h4.53v5.56h-4.53zM377.76 486.42h4.53v5.56h-4.53zM315.00 496.84h4.53v5.56h-4.53zM419.60 496.84h8.72v5.56h-8.72zM440.52 496.84h4.53v5.56h-4.53zM453.07 496.84h4.53v5.56h-4.53zM331.74 502.05h8.72v5.56h-8.72zM427.97 502.05h4.53v5.56h-4.53zM453.07 502.05h4.53v5.56h-4.53zM323.37 507.26h8.72v5.56h-8.72zM335.92 507.26h4.53v5.56h-4.53zM361.02 507.26h4.53v5.56h-4.53zM415.42 507.26h4.53v5.56h-4.53zM423.78 507.26h33.82v5.56h-33.82zM398.68 512.47h4.53v5.56h-4.53zM315.00 517.68h4.53v5.56h-4.53zM323.37 517.68h21.27v5.56h-21.27zM423.78 517.68h33.82v5.56h-33.82zM461.44 517.68h12.90v5.56h-12.90zM323.37 522.89h4.53v5.56h-4.53zM402.86 522.89h4.53v5.56h-4.53zM419.60 522.89h29.64v5.56h-29.64zM453.07 522.89h21.27v5.56h-21.27zM323.37 528.10h4.53v5.56h-4.53zM331.74 528.10h12.90v5.56h-12.90zM377.76 528.10h4.53v5.56h-4.53zM432.15 528.10h4.53v5.56h-4.53zM444.70 528.10h4.53v5.56h-4.53zM457.26 528.10h4.53v5.56h-4.53zM469.81 528.10h4.53v5.56h-4.53zM377.76 533.31h8.72v5.56h-8.72zM402.86 533.31h4.53v5.56h-4.53zM419.60 533.31h4.53v5.56h-4.53zM331.74 538.52h8.72v5.56h-8.72zM407.05 538.52h8.72v5.56h-8.72zM453.07 538.52h4.53v5.56h-4.53zM327.55 543.73h4.53v5.56h-4.53zM340.10 543.73h4.53v5.56h-4.53zM461.44 543.73h4.53v5.56h-4.53zM323.37 548.94h8.72v5.56h-8.72zM340.10 548.94h4.53v5.56h-4.53zM423.78 548.94h8.72v5.56h-8.72zM436.34 548.94h4.53v5.56h-4.53zM444.70 548.94h4.53v5.56h-4.53zM461.44 548.94h12.90v5.56h-12.90zM327.55 554.15h4.53v5.56h-4.53zM327.55 559.36h4.53v5.56h-4.53zM340.10 559.36h4.53v5.56h-4.53zM369.39 559.36h4.53v5.56h-4.53zM394.50 559.36h4.53v5.56h-4.53zM444.70 559.36h12.90v5.56h-12.90zM461.44 559.36h4.53v5.56h-4.53zM323.37 564.57h4.53v5.56h-4.53zM335.92 564.57h8.72v5.56h-8.72zM365.21 564.57h4.53v5.56h-4.53zM373.58 564.57h4.53v5.56h-4.53zM386.13 564.57h4.53v5.56h-4.53zM402.86 564.57h4.53v5.56h-4.53zM440.52 564.57h8.72v5.56h-8.72zM323.37 569.78h4.53v5.56h-4.53zM331.74 569.78h4.53v5.56h-4.53zM365.21 569.78h4.53v5.56h-4.53zM373.58 569.78h4.53v5.56h-4.53zM419.60 569.78h4.53v5.56h-4.53zM448.89 569.78h4.53v5.56h-4.53zM373.58 574.99h4.53v5.56h-4.53zM352.66 580.20h4.53v5.56h-4.53zM415.42 580.20h4.53v5.56h-4.53zM344.29 585.41h4.53v5.56h-4.53zM415.42 585.41h4.53v5.56h-4.53zM344.29 590.62h8.72v5.56h-8.72zM356.84 590.62h4.53v5.56h-4.53zM365.21 590.62h4.53v5.56h-4.53zM377.76 595.83h8.72v5.56h-8.72zM315.00 601.04h4.53v5.56h-4.53zM335.92 601.04h12.90v5.56h-12.90zM381.94 601.04h8.72v5.56h-8.72zM319.18 606.25h4.53v5.56h-4.53zM327.55 606.25h4.53v5.56h-4.53zM340.10 606.25h12.90v5.56h-12.90zM361.02 606.25h4.53v5.56h-4.53zM415.42 606.25h4.53v5.56h-4.53zM335.92 611.46h4.53v5.56h-4.53zM348.47 611.46h4.53v5.56h-4.53zM361.02 611.46h8.72v5.56h-8.72zM386.13 611.46h4.53v5.56h-4.53zM444.70 611.46h4.53v5.56h-4.53zM335.92 616.67h4.53v5.56h-4.53zM381.94 616.67h4.53v5.56h-4.53zM423.78 616.67h4.53v5.56h-4.53zM331.74 621.88h4.53v5.56h-4.53zM340.10 621.88h4.53v5.56h-4.53zM348.47 621.88h4.53v5.56h-4.53zM419.60 621.88h4.53v5.56h-4.53zM331.74 627.09h4.53v5.56h-4.53zM390.31 627.09h8.72v5.56h-8.72zM440.52 627.09h4.53v5.56h-4.53zM361.02 632.30h4.53v5.56h-4.53zM315.00 637.51h4.53v5.56h-4.53zM369.39 637.51h4.53v5.56h-4.53zM386.13 637.51h8.72v5.56h-8.72zM323.37 642.72h4.53v5.56h-4.53zM361.02 642.72h4.53v5.56h-4.53zM373.58 642.72h4.53v5.56h-4.53zM411.23 642.72h4.53v5.56h-4.53zM423.78 642.72h4.53v5.56h-4.53zM461.44 642.72h4.53v5.56h-4.53zM323.37 647.93h8.72v5.56h-8.72zM340.10 647.93h12.90v5.56h-12.90zM356.84 647.93h4.53v5.56h-4.53zM373.58 647.93h4.53v5.56h-4.53zM423.78 647.93h4.53v5.56h-4.53zM335.92 653.14h4.53v5.56h-4.53zM390.31 653.14h4.53v5.56h-4.53zM423.78 653.14h4.53v5.56h-4.53zM440.52 653.14h4.53v5.56h-4.53zM448.89 653.14h4.53v5.56h-4.53zM369.39 658.35h4.53v5.56h-4.53zM394.50 663.56h4.53v5.56h-4.53zM402.86 663.56h12.90v5.56h-12.90zM432.15 663.56h4.53v5.56h-4.53zM448.89 663.56h8.72v5.56h-8.72zM461.44 663.56h8.72v5.56h-8.72zM344.29 668.77h8.72v5.56h-8.72zM361.02 668.77h8.72v5.56h-8.72zM386.13 668.77h4.53v5.56h-4.53zM402.86 668.77h4.53v5.56h-4.53zM453.07 668.77h21.27v5.56h-21.27zM344.29 673.98h4.53v5.56h-4.53zM356.84 673.98h4.53v5.56h-4.53zM369.39 673.98h8.72v5.56h-8.72zM381.94 673.98h12.90v5.56h-12.90zM398.68 673.98h4.53v5.56h-4.53zM344.29 679.19h4.53v5.56h-4.53zM365.21 679.19h4.53v5.56h-4.53zM415.42 679.19h4.53v5.56h-4.53zM440.52 679.19h4.53v5.56h-4.53zM453.07 679.19h4.53v5.56h-4.53zM390.31 684.40h4.53v5.56h-4.53zM365.21 689.61h4.53v5.56h-4.53zM411.23 689.61h4.53v5.56h-4.53zM457.26 689.61h8.72v5.56h-8.72zM469.81 689.61h4.53v5.56h-4.53zM356.84 694.82h4.53v5.56h-4.53zM348.47 700.03h4.53v5.56h-4.53zM386.13 700.03h4.53v5.56h-4.53zM411.23 700.03h4.53v5.56h-4.53zM432.15 700.03h4.53v5.56h-4.53zM440.52 700.03h4.53v5.56h-4.53zM453.07 700.03h4.53v5.56h-4.53zM335.92 705.24h4.53v5.56h-4.53zM361.02 705.24h4.53v5.56h-4.53zM373.58 705.24h4.53v5.56h-4.53zM402.86 705.24h4.53v5.56h-4.53zM444.70 705.24h4.53v5.56h-4.53z" fill="#e9c8b0"/>
<path d="M323.37 476.00h12.90v5.56h-12.90zM356.84 476.00h4.53v5.56h-4.53zM423.78 476.00h4.53v5.56h-4.53zM432.15 476.00h4.53v5.56h-4.53zM457.26 476.00h4.53v5.56h-4.53zM335.92 481.21h4.53v5.56h-4.53zM381.94 481.21h4.53v5.56h-4.53zM394.50 481.21h4.53v5.56h-4.53zM432.15 481.21h4.53v5.56h-4.53zM461.44 481.21h4.53v5.56h-4.53zM469.81 481.21h4.53v5.56h-4.53zM344.29 486.42h4.53v5.56h-4.53zM386.13 486.42h4.53v5.56h-4.53zM394.50 486.42h4.53v5.56h-4.53zM407.05 486.42h4.53v5.56h-4.53zM432.15 486.42h4.53v5.56h-4.53zM419.60 491.63h8.72v5.56h-8.72zM348.47 496.84h4.53v5.56h-4.53zM365.21 496.84h4.53v5.56h-4.53zM386.13 496.84h4.53v5.56h-4.53zM398.68 496.84h4.53v5.56h-4.53zM427.97 496.84h8.72v5.56h-8.72zM461.44 496.84h4.53v5.56h-4.53zM315.00 502.05h4.53v5.56h-4.53zM348.47 502.05h4.53v5.56h-4.53zM407.05 502.05h4.53v5.56h-4.53zM432.15 502.05h4.53v5.56h-4.53zM457.26 502.05h4.53v5.56h-4.53zM344.29 507.26h4.53v5.56h-4.53zM365.21 507.26h4.53v5.56h-4.53zM419.60 507.26h4.53v5.56h-4.53zM344.29 512.47h4.53v5.56h-4.53zM356.84 512.47h4.53v5.56h-4.53zM373.58 512.47h4.53v5.56h-4.53zM407.05 512.47h4.53v5.56h-4.53zM465.62 512.47h4.53v5.56h-4.53zM411.23 517.68h4.53v5.56h-4.53zM340.10 522.89h4.53v5.56h-4.53zM394.50 522.89h8.72v5.56h-8.72zM411.23 522.89h4.53v5.56h-4.53zM319.18 528.10h4.53v5.56h-4.53zM381.94 528.10h4.53v5.56h-4.53zM419.60 528.10h4.53v5.56h-4.53zM453.07 528.10h4.53v5.56h-4.53zM315.00 533.31h4.53v5.56h-4.53zM373.58 533.31h4.53v5.56h-4.53zM444.70 533.31h4.53v5.56h-4.53zM469.81 533.31h4.53v5.56h-4.53zM369.39 538.52h4.53v5.56h-4.53zM381.94 538.52h4.53v5.56h-4.53zM398.68 538.52h4.53v5.56h-4.53zM448.89 538.52h4.53v5.56h-4.53zM432.15 543.73h4.53v5.56h-4.53zM444.70 543.73h4.53v5.56h-4.53zM453.07 543.73h4.53v5.56h-4.53zM315.00 548.94h4.53v5.56h-4.53zM432.15 548.94h4.53v5.56h-4.53zM457.26 548.94h4.53v5.56h-4.53zM335.92 554.15h4.53v5.56h-4.53zM352.66 554.15h12.90v5.56h-12.90zM407.05 554.15h4.53v5.56h-4.53zM419.60 554.15h4.53v5.56h-4.53zM432.15 554.15h4.53v5.56h-4.53zM453.07 554.15h4.53v5.56h-4.53zM315.00 559.36h4.53v5.56h-4.53zM386.13 559.36h4.53v5.56h-4.53zM415.42 559.36h4.53v5.56h-4.53zM465.62 559.36h8.72v5.56h-8.72zM356.84 564.57h8.72v5.56h-8.72zM427.97 564.57h4.53v5.56h-4.53zM436.34 564.57h4.53v5.56h-4.53zM453.07 564.57h4.53v5.56h-4.53zM461.44 564.57h4.53v5.56h-4.53zM319.18 569.78h4.53v5.56h-4.53zM356.84 569.78h4.53v5.56h-4.53zM411.23 569.78h4.53v5.56h-4.53zM423.78 569.78h4.53v5.56h-4.53zM461.44 569.78h4.53v5.56h-4.53zM327.55 574.99h4.53v5.56h-4.53zM377.76 574.99h4.53v5.56h-4.53zM423.78 574.99h4.53v5.56h-4.53zM469.81 574.99h4.53v5.56h-4.53zM423.78 580.20h4.53v5.56h-4.53zM448.89 580.20h4.53v5.56h-4.53zM356.84 585.41h4.53v5.56h-4.53zM361.02 590.62h4.53v5.56h-4.53zM344.29 595.83h4.53v5.56h-4.53zM356.84 601.04h4.53v5.56h-4.53zM377.76 601.04h4.53v5.56h-4.53zM423.78 601.04h4.53v5.56h-4.53zM423.78 606.25h4.53v5.56h-4.53zM453.07 606.25h4.53v5.56h-4.53zM461.44 606.25h4.53v5.56h-4.53zM398.68 611.46h4.53v5.56h-4.53zM411.23 611.46h4.53v5.56h-4.53zM427.97 611.46h4.53v5.56h-4.53zM331.74 616.67h4.53v5.56h-4.53zM340.10 616.67h4.53v5.56h-4.53zM327.55 621.88h4.53v5.56h-4.53zM335.92 621.88h4.53v5.56h-4.53zM356.84 621.88h4.53v5.56h-4.53zM407.05 621.88h4.53v5.56h-4.53zM423.78 621.88h4.53v5.56h-4.53zM323.37 627.09h8.72v5.56h-8.72zM344.29 627.09h4.53v5.56h-4.53zM381.94 627.09h4.53v5.56h-4.53zM453.07 627.09h4.53v5.56h-4.53zM461.44 627.09h4.53v5.56h-4.53zM315.00 632.30h4.53v5.56h-4.53zM352.66 632.30h8.72v5.56h-8.72zM390.31 632.30h4.53v5.56h-4.53zM402.86 632.30h4.53v5.56h-4.53zM453.07 632.30h4.53v5.56h-4.53zM461.44 632.30h4.53v5.56h-4.53zM331.74 637.51h4.53v5.56h-4.53zM361.02 637.51h4.53v5.56h-4.53zM381.94 637.51h4.53v5.56h-4.53zM411.23 637.51h4.53v5.56h-4.53zM465.62 637.51h4.53v5.56h-4.53zM402.86 642.72h4.53v5.56h-4.53zM427.97 642.72h12.90v5.56h-12.90zM315.00 647.93h4.53v5.56h-4.53zM377.76 647.93h4.53v5.56h-4.53zM453.07 647.93h4.53v5.56h-4.53zM344.29 653.14h4.53v5.56h-4.53zM356.84 653.14h8.72v5.56h-8.72zM381.94 653.14h4.53v5.56h-4.53zM394.50 653.14h8.72v5.56h-8.72zM411.23 653.14h4.53v5.56h-4.53zM373.58 658.35h4.53v5.56h-4.53zM415.42 663.56h4.53v5.56h-4.53zM423.78 663.56h4.53v5.56h-4.53zM436.34 663.56h4.53v5.56h-4.53zM352.66 668.77h4.53v5.56h-4.53zM411.23 668.77h4.53v5.56h-4.53zM419.60 668.77h8.72v5.56h-8.72zM440.52 668.77h4.53v5.56h-4.53zM448.89 668.77h4.53v5.56h-4.53zM415.42 673.98h12.90v5.56h-12.90zM453.07 673.98h4.53v5.56h-4.53zM369.39 679.19h4.53v5.56h-4.53zM402.86 679.19h12.90v5.56h-12.90zM419.60 679.19h12.90v5.56h-12.90zM469.81 679.19h4.53v5.56h-4.53zM323.37 684.40h4.53v5.56h-4.53zM331.74 684.40h4.53v5.56h-4.53zM348.47 684.40h4.53v5.56h-4.53zM407.05 684.40h4.53v5.56h-4.53zM453.07 684.40h4.53v5.56h-4.53zM465.62 684.40h4.53v5.56h-4.53zM386.13 689.61h4.53v5.56h-4.53zM394.50 689.61h4.53v5.56h-4.53zM407.05 689.61h4.53v5.56h-4.53zM436.34 689.61h4.53v5.56h-4.53zM453.07 689.61h4.53v5.56h-4.53zM381.94 694.82h4.53v5.56h-4.53zM402.86 694.82h4.53v5.56h-4.53zM427.97 694.82h8.72v5.56h-8.72zM444.70 694.82h4.53v5.56h-4.53zM344.29 700.03h4.53v5.56h-4.53zM381.94 700.03h4.53v5.56h-4.53zM398.68 700.03h4.53v5.56h-4.53zM461.44 700.03h4.53v5.56h-4.53zM348.47 705.24h4.53v5.56h-4.53zM386.13 705.24h4.53v5.56h-4.53zM394.50 705.24h4.53v5.56h-4.53zM432.15 705.24h4.53v5.56h-4.53z" fill="#f3ece8"/>
<path d="M335.92 476.00h4.53v5.56h-4.53zM344.29 476.00h4.53v5.56h-4.53zM394.50 476.00h4.53v5.56h-4.53zM315.00 481.21h4.53v5.56h-4.53zM323.37 481.21h12.90v5.56h-12.90zM340.10 481.21h4.53v5.56h-4.53zM402.86 481.21h4.53v5.56h-4.53zM415.42 481.21h4.53v5.56h-4.53zM444.70 481.21h4.53v5.56h-4.53zM402.86 486.42h4.53v5.56h-4.53zM453.07 486.42h4.53v5.56h-4.53zM394.50 491.63h4.53v5.56h-4.53zM415.42 491.63h4.53v5.56h-4.53zM427.97 491.63h4.53v5.56h-4.53zM436.34 491.63h21.27v5.56h-21.27zM465.62 491.63h4.53v5.56h-4.53zM319.18 496.84h4.53v5.56h-4.53zM377.76 496.84h8.72v5.56h-8.72zM411.23 496.84h4.53v5.56h-4.53zM344.29 502.05h4.53v5.56h-4.53zM394.50 502.05h4.53v5.56h-4.53zM419.60 502.05h4.53v5.56h-4.53zM440.52 502.05h4.53v5.56h-4.53zM448.89 502.05h4.53v5.56h-4.53zM315.00 507.26h8.72v5.56h-8.72zM340.10 507.26h4.53v5.56h-4.53zM348.47 507.26h12.90v5.56h-12.90zM457.26 507.26h17.09v5.56h-17.09zM352.66 512.47h4.53v5.56h-4.53zM432.15 512.47h4.53v5.56h-4.53zM448.89 512.47h4.53v5.56h-4.53zM469.81 512.47h4.53v5.56h-4.53zM319.18 517.68h4.53v5.56h-4.53zM394.50 517.68h17.09v5.56h-17.09zM415.42 517.68h8.72v5.56h-8.72zM457.26 517.68h4.53v5.56h-4.53zM315.00 522.89h8.72v5.56h-8.72zM327.55 522.89h4.53v5.56h-4.53zM335.92 522.89h4.53v5.56h-4.53zM407.05 522.89h4.53v5.56h-4.53zM415.42 522.89h4.53v5.56h-4.53zM327.55 528.10h4.53v5.56h-4.53zM394.50 528.10h25.45v5.56h-25.45zM423.78 528.10h8.72v5.56h-8.72zM436.34 528.10h8.72v5.56h-8.72zM461.44 528.10h8.72v5.56h-8.72zM386.13 533.31h4.53v5.56h-4.53zM394.50 533.31h4.53v5.56h-4.53zM427.97 533.31h17.09v5.56h-17.09zM453.07 533.31h4.53v5.56h-4.53zM461.44 533.31h4.53v5.56h-4.53zM386.13 538.52h4.53v5.56h-4.53zM394.50 538.52h4.53v5.56h-4.53zM419.60 538.52h4.53v5.56h-4.53zM432.15 538.52h4.53v5.56h-4.53zM335.92 543.73h4.53v5.56h-4.53zM369.39 543.73h4.53v5.56h-4.53zM407.05 543.73h4.53v5.56h-4.53zM419.60 543.73h4.53v5.56h-4.53zM427.97 543.73h4.53v5.56h-4.53zM436.34 543.73h8.72v5.56h-8.72zM457.26 543.73h4.53v5.56h-4.53zM465.62 543.73h8.72v5.56h-8.72zM323.37 554.15h4.53v5.56h-4.53zM365.21 554.15h8.72v5.56h-8.72zM402.86 554.15h4.53v5.56h-4.53zM436.34 554.15h8.72v5.56h-8.72zM402.86 559.36h4.53v5.56h-4.53zM411.23 559.36h4.53v5.56h-4.53zM419.60 559.36h12.90v5.56h-12.90zM440.52 559.36h4.53v5.56h-4.53zM327.55 564.57h4.53v5.56h-4.53zM335.92 569.78h4.53v5.56h-4.53zM340.10 574.99h4.53v5.56h-4.53zM361.02 574.99h4.53v5.56h-4.53zM386.13 574.99h8.72v5.56h-8.72zM419.60 574.99h4.53v5.56h-4.53zM436.34 574.99h4.53v5.56h-4.53zM444.70 574.99h4.53v5.56h-4.53zM453.07 574.99h4.53v5.56h-4.53zM365.21 580.20h4.53v5.56h-4.53zM348.47 595.83h4.53v5.56h-4.53zM386.13 595.83h4.53v5.56h-4.53zM361.02 601.04h4.53v5.56h-4.53zM390.31 601.04h4.53v5.56h-4.53zM373.58 606.25h4.53v5.56h-4.53zM315.00 611.46h8.72v5.56h-8.72zM340.10 611.46h8.72v5.56h-8.72zM352.66 611.46h4.53v5.56h-4.53zM369.39 611.46h8.72v5.56h-8.72zM407.05 611.46h4.53v5.56h-4.53zM432.15 611.46h4.53v5.56h-4.53zM398.68 616.67h4.53v5.56h-4.53zM361.02 621.88h4.53v5.56h-4.53zM411.23 621.88h4.53v5.56h-4.53zM361.02 627.09h4.53v5.56h-4.53zM415.42 627.09h4.53v5.56h-4.53zM457.26 627.09h4.53v5.56h-4.53zM319.18 632.30h4.53v5.56h-4.53zM348.47 632.30h4.53v5.56h-4.53zM365.21 632.30h4.53v5.56h-4.53zM457.26 632.30h4.53v5.56h-4.53zM457.26 637.51h4.53v5.56h-4.53zM327.55 642.72h17.09v5.56h-17.09zM348.47 642.72h4.53v5.56h-4.53zM407.05 642.72h4.53v5.56h-4.53zM381.94 647.93h4.53v5.56h-4.53zM419.60 647.93h4.53v5.56h-4.53zM377.76 653.14h4.53v5.56h-4.53zM461.44 653.14h4.53v5.56h-4.53zM319.18 658.35h4.53v5.56h-4.53zM377.76 658.35h4.53v5.56h-4.53zM373.58 663.56h21.27v5.56h-21.27zM419.60 663.56h4.53v5.56h-4.53zM427.97 663.56h4.53v5.56h-4.53zM457.26 663.56h4.53v5.56h-4.53zM356.84 668.77h4.53v5.56h-4.53zM369.39 668.77h17.09v5.56h-17.09zM390.31 668.77h12.90v5.56h-12.90zM407.05 668.77h4.53v5.56h-4.53zM415.42 668.77h4.53v5.56h-4.53zM427.97 668.77h8.72v5.56h-8.72zM444.70 668.77h4.53v5.56h-4.53zM352.66 673.98h4.53v5.56h-4.53zM394.50 673.98h4.53v5.56h-4.53zM402.86 673.98h12.90v5.56h-12.90zM432.15 673.98h4.53v5.56h-4.53zM394.50 679.19h8.72v5.56h-8.72zM436.34 679.19h4.53v5.56h-4.53zM444.70 679.19h8.72v5.56h-8.72zM457.26 679.19h12.90v5.56h-12.90zM352.66 684.40h4.53v5.56h-4.53zM432.15 684.40h4.53v5.56h-4.53zM444.70 684.40h8.72v5.56h-8.72zM390.31 689.61h4.53v5.56h-4.53zM427.97 689.61h4.53v5.56h-4.53zM465.62 689.61h4.53v5.56h-4.53zM423.78 694.82h4.53v5.56h-4.53zM457.26 694.82h12.90v5.56h-12.90zM365.21 700.03h4.53v5.56h-4.53zM373.58 700.03h4.53v5.56h-4.53zM427.97 700.03h4.53v5.56h-4.53zM444.70 700.03h4.53v5.56h-4.53zM436.34 705.24h4.53v5.56h-4.53zM453.07 705.24h4.53v5.56h-4.53z" fill="#f0dcd0"/>
<path d="M340.10 476.00h4.53v5.56h-4.53zM423.78 481.21h4.53v5.56h-4.53zM457.26 481.21h4.53v5.56h-4.53zM327.55 486.42h4.53v5.56h-4.53zM335.92 486.42h4.53v5.56h-4.53zM411.23 486.42h8.72v5.56h-8.72zM319.18 491.63h4.53v5.56h-4.53zM335.92 496.84h8.72v5.56h-8.72zM394.50 496.84h4.53v5.56h-4.53zM319.18 502.05h4.53v5.56h-4.53zM340.10 502.05h4.53v5.56h-4.53zM415.42 502.05h4.53v5.56h-4.53zM423.78 502.05h4.53v5.56h-4.53zM436.34 502.05h4.53v5.56h-4.53zM444.70 502.05h4.53v5.56h-4.53zM331.74 507.26h4.53v5.56h-4.53zM427.97 512.47h4.53v5.56h-4.53zM331.74 522.89h4.53v5.56h-4.53zM448.89 522.89h4.53v5.56h-4.53zM315.00 528.10h4.53v5.56h-4.53zM319.18 533.31h4.53v5.56h-4.53zM423.78 533.31h4.53v5.56h-4.53zM373.58 538.52h4.53v5.56h-4.53zM390.31 538.52h4.53v5.56h-4.53zM436.34 538.52h4.53v5.56h-4.53zM461.44 538.52h8.72v5.56h-8.72zM323.37 543.73h4.53v5.56h-4.53zM331.74 543.73h4.53v5.56h-4.53zM352.66 543.73h4.53v5.56h-4.53zM419.60 548.94h4.53v5.56h-4.53zM440.52 548.94h4.53v5.56h-4.53zM448.89 548.94h8.72v5.56h-8.72zM331.74 554.15h4.53v5.56h-4.53zM340.10 554.15h4.53v5.56h-4.53zM423.78 554.15h8.72v5.56h-8.72zM323.37 559.36h4.53v5.56h-4.53zM331.74 559.36h4.53v5.56h-4.53zM432.15 559.36h4.53v5.56h-4.53zM457.26 559.36h4.53v5.56h-4.53zM352.66 564.57h4.53v5.56h-4.53zM423.78 564.57h4.53v5.56h-4.53zM448.89 564.57h4.53v5.56h-4.53zM352.66 569.78h4.53v5.56h-4.53zM361.02 569.78h4.53v5.56h-4.53zM386.13 569.78h8.72v5.56h-8.72zM440.52 569.78h4.53v5.56h-4.53zM352.66 574.99h4.53v5.56h-4.53zM369.39 574.99h4.53v5.56h-4.53zM440.52 574.99h4.53v5.56h-4.53zM331.74 590.62h4.53v5.56h-4.53zM319.18 601.04h4.53v5.56h-4.53zM327.55 601.04h8.72v5.56h-8.72zM348.47 601.04h4.53v5.56h-4.53zM365.21 601.04h12.90v5.56h-12.90zM315.00 606.25h4.53v5.56h-4.53zM323.37 606.25h4.53v5.56h-4.53zM331.74 606.25h8.72v5.56h-8.72zM352.66 606.25h8.72v5.56h-8.72zM365.21 606.25h4.53v5.56h-4.53zM323.37 611.46h8.72v5.56h-8.72zM436.34 611.46h8.72v5.56h-8.72zM323.37 616.67h8.72v5.56h-8.72zM344.29 621.88h4.53v5.56h-4.53zM377.76 621.88h4.53v5.56h-4.53zM427.97 621.88h4.53v5.56h-4.53zM319.18 627.09h4.53v5.56h-4.53zM365.21 627.09h12.90v5.56h-12.90zM386.13 627.09h4.53v5.56h-4.53zM402.86 627.09h4.53v5.56h-4.53zM427.97 627.09h4.53v5.56h-4.53zM369.39 632.30h12.90v5.56h-12.90zM386.13 632.30h4.53v5.56h-4.53zM327.55 637.51h4.53v5.56h-4.53zM335.92 637.51h4.53v5.56h-4.53zM344.29 637.51h4.53v5.56h-4.53zM373.58 637.51h4.53v5.56h-4.53zM398.68 637.51h4.53v5.56h-4.53zM407.05 637.51h4.53v5.56h-4.53zM365.21 642.72h8.72v5.56h-8.72zM386.13 642.72h4.53v5.56h-4.53zM386.13 647.93h8.72v5.56h-8.72zM323.37 653.14h4.53v5.56h-4.53zM369.39 653.14h8.72v5.56h-8.72zM386.13 653.14h4.53v5.56h-4.53zM398.68 663.56h4.53v5.56h-4.53zM440.52 663.56h8.72v5.56h-8.72zM469.81 663.56h4.53v5.56h-4.53zM348.47 673.98h4.53v5.56h-4.53zM361.02 673.98h8.72v5.56h-8.72zM377.76 673.98h4.53v5.56h-4.53zM348.47 679.19h4.53v5.56h-4.53zM356.84 679.19h8.72v5.56h-8.72zM361.02 684.40h8.72v5.56h-8.72zM373.58 684.40h4.53v5.56h-4.53zM469.81 684.40h4.53v5.56h-4.53zM356.84 689.61h8.72v5.56h-8.72zM373.58 689.61h4.53v5.56h-4.53zM419.60 689.61h4.53v5.56h-4.53zM432.15 689.61h4.53v5.56h-4.53zM352.66 694.82h4.53v5.56h-4.53zM361.02 694.82h8.72v5.56h-8.72zM386.13 694.82h8.72v5.56h-8.72zM369.39 700.03h4.53v5.56h-4.53zM402.86 700.03h4.53v5.56h-4.53zM436.34 700.03h4.53v5.56h-4.53zM457.26 700.03h4.53v5.56h-4.53zM331.74 705.24h4.53v5.56h-4.53zM365.21 705.24h8.72v5.56h-8.72zM390.31 705.24h4.53v5.56h-4.53zM440.52 705.24h4.53v5.56h-4.53zM461.44 705.24h4.53v5.56h-4.53z" fill="#dcaa84"/>
<path d="M348.47 476.00h4.53v5.56h-4.53zM419.60 476.00h4.53v5.56h-4.53zM440.52 476.00h4.53v5.56h-4.53zM465.62 476.00h8.72v5.56h-8.72zM448.89 481.21h4.53v5.56h-4.53zM465.62 481.21h4.53v5.56h-4.53zM361.02 486.42h4.53v5.56h-4.53zM398.68 486.42h4.53v5.56h-4.53zM448.89 486.42h4.53v5.56h-4.53zM461.44 486.42h4.53v5.56h-4.53zM344.29 491.63h4.53v5.56h-4.53zM377.76 491.63h4.53v5.56h-4.53zM398.68 491.63h4.53v5.56h-4.53zM411.23 491.63h4.53v5.56h-4.53zM344.29 496.84h4.53v5.56h-4.53zM436.34 496.84h4.53v5.56h-4.53zM448.89 496.84h4.53v5.56h-4.53zM352.66 502.05h8.72v5.56h-8.72zM365.21 502.05h4.53v5.56h-4.53zM398.68 502.05h4.53v5.56h-4.53zM461.44 502.05h4.53v5.56h-4.53zM469.81 502.05h4.53v5.56h-4.53zM394.50 507.26h4.53v5.56h-4.53zM407.05 507.26h4.53v5.56h-4.53zM327.55 512.47h4.53v5.56h-4.53zM361.02 512.47h4.53v5.56h-4.53zM369.39 512.47h4.53v5.56h-4.53zM377.76 512.47h4.53v5.56h-4.53zM461.44 512.47h4.53v5.56h-4.53zM377.76 517.68h4.53v5.56h-4.53zM327.55 533.31h4.53v5.56h-4.53zM340.10 533.31h4.53v5.56h-4.53zM415.42 533.31h4.53v5.56h-4.53zM319.18 538.52h4.53v5.56h-4.53zM327.55 538.52h4.53v5.56h-4.53zM365.21 538.52h4.53v5.56h-4.53zM377.76 538.52h4.53v5.56h-4.53zM440.52 538.52h4.53v5.56h-4.53zM315.00 543.73h4.53v5.56h-4.53zM356.84 543.73h4.53v5.56h-4.53zM415.42 543.73h4.53v5.56h-4.53zM319.18 548.94h4.53v5.56h-4.53zM315.00 554.15h8.72v5.56h-8.72zM386.13 554.15h4.53v5.56h-4.53zM411.23 554.15h4.53v5.56h-4.53zM361.02 559.36h4.53v5.56h-4.53zM377.76 559.36h4.53v5.56h-4.53zM394.50 564.57h8.72v5.56h-8.72zM407.05 564.57h4.53v5.56h-4.53zM419.60 564.57h4.53v5.56h-4.53zM381.94 569.78h4.53v5.56h-4.53zM394.50 569.78h4.53v5.56h-4.53zM407.05 569.78h4.53v5.56h-4.53zM427.97 569.78h4.53v5.56h-4.53zM457.26 569.78h4.53v5.56h-4.53zM465.62 569.78h8.72v5.56h-8.72zM427.97 574.99h4.53v5.56h-4.53zM411.23 580.20h4.53v5.56h-4.53zM432.15 580.20h4.53v5.56h-4.53zM453.07 580.20h8.72v5.56h-8.72zM465.62 580.20h4.53v5.56h-4.53zM361.02 585.41h4.53v5.56h-4.53zM373.58 585.41h4.53v5.56h-4.53zM381.94 585.41h4.53v5.56h-4.53zM390.31 585.41h4.53v5.56h-4.53zM407.05 585.41h8.72v5.56h-8.72zM427.97 585.41h8.72v5.56h-8.72zM444.70 585.41h4.53v5.56h-4.53zM457.26 585.41h4.53v5.56h-4.53zM465.62 585.41h4.53v5.56h-4.53zM373.58 590.62h4.53v5.56h-4.53zM381.94 590.62h4.53v5.56h-4.53zM390.31 590.62h4.53v5.56h-4.53zM398.68 590.62h4.53v5.56h-4.53zM419.60 590.62h4.53v5.56h-4.53zM361.02 595.83h8.72v5.56h-8.72zM398.68 595.83h4.53v5.56h-4.53zM411.23 595.83h4.53v5.56h-4.53zM465.62 595.83h4.53v5.56h-4.53zM407.05 601.04h4.53v5.56h-4.53zM377.76 606.25h4.53v5.56h-4.53zM386.13 606.25h8.72v5.56h-8.72zM407.05 606.25h4.53v5.56h-4.53zM427.97 606.25h12.90v5.56h-12.90zM469.81 606.25h4.53v5.56h-4.53zM390.31 611.46h8.72v5.56h-8.72zM469.81 611.46h4.53v5.56h-4.53zM352.66 616.67h12.90v5.56h-12.90zM369.39 616.67h8.72v5.56h-8.72zM419.60 616.67h4.53v5.56h-4.53zM436.34 616.67h8.72v5.56h-8.72zM448.89 616.67h12.90v5.56h-12.90zM465.62 616.67h4.53v5.56h-4.53zM352.66 621.88h4.53v5.56h-4.53zM369.39 621.88h4.53v5.56h-4.53zM390.31 621.88h4.53v5.56h-4.53zM402.86 621.88h4.53v5.56h-4.53zM432.15 621.88h4.53v5.56h-4.53zM465.62 621.88h4.53v5.56h-4.53zM340.10 627.09h4.53v5.56h-4.53zM411.23 627.09h4.53v5.56h-4.53zM423.78 627.09h4.53v5.56h-4.53zM448.89 627.09h4.53v5.56h-4.53zM465.62 627.09h4.53v5.56h-4.53zM411.23 632.30h4.53v5.56h-4.53zM427.97 632.30h8.72v5.56h-8.72zM465.62 632.30h8.72v5.56h-8.72zM419.60 637.51h8.72v5.56h-8.72zM315.00 642.72h4.53v5.56h-4.53zM448.89 642.72h4.53v5.56h-4.53zM457.26 642.72h4.53v5.56h-4.53zM469.81 642.72h4.53v5.56h-4.53zM319.18 647.93h4.53v5.56h-4.53zM394.50 647.93h8.72v5.56h-8.72zM407.05 647.93h12.90v5.56h-12.90zM461.44 647.93h4.53v5.56h-4.53zM319.18 653.14h4.53v5.56h-4.53zM465.62 653.14h4.53v5.56h-4.53zM327.55 658.35h4.53v5.56h-4.53zM394.50 658.35h21.27v5.56h-21.27zM419.60 658.35h17.09v5.56h-17.09zM344.29 663.56h12.90v5.56h-12.90zM365.21 663.56h4.53v5.56h-4.53zM315.00 673.98h4.53v5.56h-4.53zM440.52 673.98h12.90v5.56h-12.90zM461.44 673.98h4.53v5.56h-4.53zM469.81 673.98h4.53v5.56h-4.53zM319.18 679.19h4.53v5.56h-4.53zM377.76 684.40h4.53v5.56h-4.53zM411.23 684.40h4.53v5.56h-4.53zM436.34 684.40h4.53v5.56h-4.53zM402.86 689.61h4.53v5.56h-4.53zM444.70 689.61h4.53v5.56h-4.53zM323.37 694.82h4.53v5.56h-4.53zM348.47 694.82h4.53v5.56h-4.53zM373.58 694.82h8.72v5.56h-8.72zM411.23 694.82h4.53v5.56h-4.53zM436.34 694.82h4.53v5.56h-4.53zM315.00 700.03h4.53v5.56h-4.53zM323.37 700.03h8.72v5.56h-8.72zM352.66 700.03h4.53v5.56h-4.53zM407.05 700.03h4.53v5.56h-4.53zM415.42 700.03h4.53v5.56h-4.53zM448.89 700.03h4.53v5.56h-4.53zM327.55 705.24h4.53v5.56h-4.53zM398.68 705.24h4.53v5.56h-4.53zM407.05 705.24h8.72v5.56h-8.72zM457.26 705.24h4.53v5.56h-4.53z" fill="#bfdcd5"/>
<path d="M352.66 476.00h4.53v5.56h-4.53zM365.21 476.00h8.72v5.56h-8.72zM390.31 476.00h4.53v5.56h-4.53zM448.89 476.00h8.72v5.56h-8.72zM373.58 481.21h4.53v5.56h-4.53zM386.13 481.21h4.53v5.56h-4.53zM419.60 481.21h4.53v5.56h-4.53zM352.66 486.42h4.53v5.56h-4.53zM365.21 486.42h8.72v5.56h-8.72zM390.31 486.42h4.53v5.56h-4.53zM465.62 486.42h8.72v5.56h-8.72zM348.47 491.63h4.53v5.56h-4.53zM365.21 491.63h4.53v5.56h-4.53zM386.13 491.63h4.53v5.56h-4.53zM444.70 496.84h4.53v5.56h-4.53zM381.94 502.05h4.53v5.56h-4.53zM386.13 507.26h4.53v5.56h-4.53zM411.23 507.26h4.53v5.56h-4.53zM315.00 512.47h4.53v5.56h-4.53zM381.94 512.47h8.72v5.56h-8.72zM356.84 517.68h4.53v5.56h-4.53zM369.39 517.68h4.53v5.56h-4.53zM344.29 522.89h4.53v5.56h-4.53zM377.76 522.89h17.09v5.56h-17.09zM352.66 528.10h4.53v5.56h-4.53zM373.58 528.10h4.53v5.56h-4.53zM331.74 533.31h4.53v5.56h-4.53zM344.29 533.31h8.72v5.56h-8.72zM369.39 533.31h4.53v5.56h-4.53zM315.00 538.52h4.53v5.56h-4.53zM319.18 543.73h4.53v5.56h-4.53zM390.31 543.73h4.53v5.56h-4.53zM398.68 543.73h4.53v5.56h-4.53zM386.13 548.94h4.53v5.56h-4.53zM411.23 548.94h8.72v5.56h-8.72zM348.47 554.15h4.53v5.56h-4.53zM319.18 559.36h4.53v5.56h-4.53zM352.66 559.36h4.53v5.56h-4.53zM398.68 559.36h4.53v5.56h-4.53zM319.18 564.57h4.53v5.56h-4.53zM381.94 564.57h4.53v5.56h-4.53zM432.15 564.57h4.53v5.56h-4.53zM457.26 564.57h4.53v5.56h-4.53zM315.00 569.78h4.53v5.56h-4.53zM377.76 569.78h4.53v5.56h-4.53zM356.84 574.99h4.53v5.56h-4.53zM402.86 580.20h4.53v5.56h-4.53zM469.81 580.20h4.53v5.56h-4.53zM402.86 585.41h4.53v5.56h-4.53zM419.60 585.41h4.53v5.56h-4.53zM432.15 590.62h4.53v5.56h-4.53zM461.44 590.62h4.53v5.56h-4.53zM469.81 590.62h4.53v5.56h-4.53zM427.97 595.83h8.72v5.56h-8.72zM461.44 595.83h4.53v5.56h-4.53zM469.81 595.83h4.53v5.56h-4.53zM427.97 601.04h12.90v5.56h-12.90zM444.70 601.04h8.72v5.56h-8.72zM457.26 601.04h4.53v5.56h-4.53zM469.81 601.04h4.53v5.56h-4.53zM398.68 606.25h4.53v5.56h-4.53zM465.62 611.46h4.53v5.56h-4.53zM407.05 616.67h4.53v5.56h-4.53zM436.34 621.88h21.27v5.56h-21.27zM461.44 621.88h4.53v5.56h-4.53zM315.00 627.09h4.53v5.56h-4.53zM348.47 627.09h4.53v5.56h-4.53zM444.70 627.09h4.53v5.56h-4.53zM436.34 632.30h12.90v5.56h-12.90zM448.89 637.51h4.53v5.56h-4.53zM402.86 647.93h4.53v5.56h-4.53zM427.97 647.93h4.53v5.56h-4.53zM448.89 647.93h4.53v5.56h-4.53zM465.62 647.93h4.53v5.56h-4.53zM407.05 653.14h4.53v5.56h-4.53zM427.97 653.14h8.72v5.56h-8.72zM319.18 673.98h12.90v5.56h-12.90zM323.37 679.19h8.72v5.56h-8.72zM377.76 679.19h4.53v5.56h-4.53zM386.13 679.19h8.72v5.56h-8.72zM335.92 684.40h4.53v5.56h-4.53zM344.29 684.40h4.53v5.56h-4.53zM398.68 684.40h4.53v5.56h-4.53zM327.55 689.61h4.53v5.56h-4.53zM340.10 689.61h4.53v5.56h-4.53zM415.42 689.61h4.53v5.56h-4.53zM448.89 689.61h4.53v5.56h-4.53zM407.05 694.82h4.53v5.56h-4.53zM315.00 705.24h12.90v5.56h-12.90z" fill="#62aa96"/>
<path d="M361.02 476.00h4.53v5.56h-4.53zM381.94 476.00h8.72v5.56h-8.72zM402.86 476.00h4.53v5.56h-4.53zM461.44 476.00h4.53v5.56h-4.53zM356.84 481.21h4.53v5.56h-4.53zM373.58 486.42h4.53v5.56h-4.53zM419.60 486.42h12.90v5.56h-12.90zM436.34 486.42h8.72v5.56h-8.72zM352.66 491.63h12.90v5.56h-12.90zM369.39 491.63h8.72v5.56h-8.72zM381.94 491.63h4.53v5.56h-4.53zM390.31 491.63h4.53v5.56h-4.53zM402.86 491.63h4.53v5.56h-4.53zM352.66 496.84h12.90v5.56h-12.90zM373.58 496.84h4.53v5.56h-4.53zM402.86 496.84h8.72v5.56h-8.72zM469.81 496.84h4.53v5.56h-4.53zM361.02 502.05h4.53v5.56h-4.53zM402.86 502.05h4.53v5.56h-4.53zM411.23 502.05h4.53v5.56h-4.53zM398.68 507.26h8.72v5.56h-8.72zM365.21 512.47h4.53v5.56h-4.53zM402.86 512.47h4.53v5.56h-4.53zM419.60 512.47h4.53v5.56h-4.53zM440.52 512.47h4.53v5.56h-4.53zM373.58 517.68h4.53v5.56h-4.53zM356.84 522.89h4.53v5.56h-4.53zM365.21 522.89h8.72v5.56h-8.72zM390.31 528.10h4.53v5.56h-4.53zM323.37 533.31h4.53v5.56h-4.53zM335.92 533.31h4.53v5.56h-4.53zM352.66 533.31h8.72v5.56h-8.72zM340.10 538.52h4.53v5.56h-4.53zM423.78 538.52h4.53v5.56h-4.53zM373.58 543.73h4.53v5.56h-4.53zM386.13 543.73h4.53v5.56h-4.53zM394.50 543.73h4.53v5.56h-4.53zM348.47 548.94h4.53v5.56h-4.53zM356.84 548.94h4.53v5.56h-4.53zM369.39 548.94h4.53v5.56h-4.53zM381.94 548.94h4.53v5.56h-4.53zM394.50 548.94h8.72v5.56h-8.72zM344.29 554.15h4.53v5.56h-4.53zM373.58 554.15h4.53v5.56h-4.53zM373.58 559.36h4.53v5.56h-4.53zM390.31 559.36h4.53v5.56h-4.53zM344.29 564.57h8.72v5.56h-8.72zM348.47 569.78h4.53v5.56h-4.53zM432.15 569.78h4.53v5.56h-4.53zM381.94 574.99h4.53v5.56h-4.53zM402.86 574.99h4.53v5.56h-4.53zM461.44 574.99h4.53v5.56h-4.53zM377.76 580.20h25.45v5.56h-25.45zM407.05 580.20h4.53v5.56h-4.53zM419.60 580.20h4.53v5.56h-4.53zM427.97 580.20h4.53v5.56h-4.53zM444.70 580.20h4.53v5.56h-4.53zM386.13 585.41h4.53v5.56h-4.53zM394.50 585.41h8.72v5.56h-8.72zM423.78 585.41h4.53v5.56h-4.53zM461.44 585.41h4.53v5.56h-4.53zM469.81 585.41h4.53v5.56h-4.53zM402.86 590.62h17.09v5.56h-17.09zM423.78 590.62h8.72v5.56h-8.72zM436.34 590.62h25.45v5.56h-25.45zM465.62 590.62h4.53v5.56h-4.53zM402.86 595.83h8.72v5.56h-8.72zM419.60 595.83h8.72v5.56h-8.72zM436.34 595.83h4.53v5.56h-4.53zM444.70 595.83h17.09v5.56h-17.09zM398.68 601.04h8.72v5.56h-8.72zM411.23 601.04h4.53v5.56h-4.53zM419.60 601.04h4.53v5.56h-4.53zM453.07 601.04h4.53v5.56h-4.53zM419.60 606.25h4.53v5.56h-4.53zM440.52 606.25h12.90v5.56h-12.90zM457.26 606.25h4.53v5.56h-4.53zM465.62 606.25h4.53v5.56h-4.53zM381.94 611.46h4.53v5.56h-4.53zM423.78 611.46h4.53v5.56h-4.53zM457.26 611.46h8.72v5.56h-8.72zM365.21 616.67h4.53v5.56h-4.53zM402.86 616.67h4.53v5.56h-4.53zM411.23 616.67h4.53v5.56h-4.53zM427.97 616.67h8.72v5.56h-8.72zM444.70 616.67h4.53v5.56h-4.53zM461.44 616.67h4.53v5.56h-4.53zM469.81 616.67h4.53v5.56h-4.53zM457.26 621.88h4.53v5.56h-4.53zM469.81 621.88h4.53v5.56h-4.53zM436.34 627.09h4.53v5.56h-4.53zM331.74 632.30h8.72v5.56h-8.72zM415.42 632.30h4.53v5.56h-4.53zM415.42 637.51h4.53v5.56h-4.53zM436.34 637.51h8.72v5.56h-8.72zM461.44 637.51h4.53v5.56h-4.53zM319.18 642.72h4.53v5.56h-4.53zM436.34 647.93h4.53v5.56h-4.53zM348.47 653.14h4.53v5.56h-4.53zM436.34 653.14h4.53v5.56h-4.53zM453.07 653.14h8.72v5.56h-8.72zM469.81 653.14h4.53v5.56h-4.53zM415.42 658.35h4.53v5.56h-4.53zM436.34 658.35h38.01v5.56h-38.01zM340.10 684.40h4.53v5.56h-4.53zM415.42 684.40h4.53v5.56h-4.53zM315.00 689.61h4.53v5.56h-4.53zM331.74 689.61h4.53v5.56h-4.53zM381.94 689.61h4.53v5.56h-4.53zM398.68 689.61h4.53v5.56h-4.53zM315.00 694.82h8.72v5.56h-8.72zM394.50 694.82h4.53v5.56h-4.53zM453.07 694.82h4.53v5.56h-4.53zM331.74 700.03h8.72v5.56h-8.72zM356.84 700.03h4.53v5.56h-4.53zM394.50 700.03h4.53v5.56h-4.53zM419.60 700.03h4.53v5.56h-4.53zM340.10 705.24h4.53v5.56h-4.53zM356.84 705.24h4.53v5.56h-4.53zM381.94 705.24h4.53v5.56h-4.53z" fill="#90c4b7"/>
<path d="M373.58 476.00h4.53v5.56h-4.53zM427.97 476.00h4.53v5.56h-4.53zM444.70 476.00h4.53v5.56h-4.53zM411.23 481.21h4.53v5.56h-4.53zM436.34 481.21h4.53v5.56h-4.53zM356.84 486.42h4.53v5.56h-4.53zM407.05 491.63h4.53v5.56h-4.53zM432.15 491.63h4.53v5.56h-4.53zM457.26 491.63h8.72v5.56h-8.72zM469.81 491.63h4.53v5.56h-4.53zM465.62 502.05h4.53v5.56h-4.53zM331.74 512.47h12.90v5.56h-12.90zM444.70 512.47h4.53v5.56h-4.53zM453.07 512.47h8.72v5.56h-8.72zM361.02 522.89h4.53v5.56h-4.53zM386.13 528.10h4.53v5.56h-4.53zM448.89 528.10h4.53v5.56h-4.53zM390.31 533.31h4.53v5.56h-4.53zM448.89 533.31h4.53v5.56h-4.53zM457.26 533.31h4.53v5.56h-4.53zM465.62 533.31h4.53v5.56h-4.53zM323.37 538.52h4.53v5.56h-4.53zM344.29 538.52h8.72v5.56h-8.72zM402.86 538.52h4.53v5.56h-4.53zM415.42 538.52h4.53v5.56h-4.53zM427.97 538.52h4.53v5.56h-4.53zM457.26 538.52h4.53v5.56h-4.53zM361.02 543.73h8.72v5.56h-8.72zM402.86 543.73h4.53v5.56h-4.53zM411.23 543.73h4.53v5.56h-4.53zM352.66 548.94h4.53v5.56h-4.53zM361.02 548.94h8.72v5.56h-8.72zM373.58 548.94h4.53v5.56h-4.53zM390.31 548.94h4.53v5.56h-4.53zM402.86 548.94h8.72v5.56h-8.72zM390.31 554.15h4.53v5.56h-4.53zM444.70 554.15h4.53v5.56h-4.53zM457.26 554.15h4.53v5.56h-4.53zM335.92 559.36h4.53v5.56h-4.53zM365.21 559.36h4.53v5.56h-4.53zM407.05 559.36h4.53v5.56h-4.53zM411.23 564.57h4.53v5.56h-4.53zM327.55 569.78h4.53v5.56h-4.53zM340.10 569.78h4.53v5.56h-4.53zM436.34 569.78h4.53v5.56h-4.53zM444.70 569.78h4.53v5.56h-4.53zM453.07 569.78h4.53v5.56h-4.53zM315.00 574.99h8.72v5.56h-8.72zM365.21 574.99h4.53v5.56h-4.53zM407.05 574.99h8.72v5.56h-8.72zM432.15 574.99h4.53v5.56h-4.53zM465.62 574.99h4.53v5.56h-4.53zM344.29 580.20h8.72v5.56h-8.72zM356.84 580.20h8.72v5.56h-8.72zM369.39 580.20h8.72v5.56h-8.72zM436.34 580.20h8.72v5.56h-8.72zM461.44 580.20h4.53v5.56h-4.53zM348.47 585.41h8.72v5.56h-8.72zM365.21 585.41h8.72v5.56h-8.72zM377.76 585.41h4.53v5.56h-4.53zM436.34 585.41h8.72v5.56h-8.72zM448.89 585.41h8.72v5.56h-8.72zM352.66 590.62h4.53v5.56h-4.53zM369.39 590.62h4.53v5.56h-4.53zM377.76 590.62h4.53v5.56h-4.53zM386.13 590.62h4.53v5.56h-4.53zM394.50 590.62h4.53v5.56h-4.53zM352.66 595.83h8.72v5.56h-8.72zM369.39 595.83h8.72v5.56h-8.72zM390.31 595.83h8.72v5.56h-8.72zM415.42 595.83h4.53v5.56h-4.53zM440.52 595.83h4.53v5.56h-4.53zM352.66 601.04h4.53v5.56h-4.53zM394.50 601.04h4.53v5.56h-4.53zM415.42 601.04h4.53v5.56h-4.53zM369.39 606.25h4.53v5.56h-4.53zM381.94 606.25h4.53v5.56h-4.53zM356.84 611.46h4.53v5.56h-4.53zM377.76 611.46h4.53v5.56h-4.53zM415.42 611.46h4.53v5.56h-4.53zM453.07 611.46h4.53v5.56h-4.53zM377.76 616.67h4.53v5.56h-4.53zM386.13 616.67h12.90v5.56h-12.90zM323.37 621.88h4.53v5.56h-4.53zM365.21 621.88h4.53v5.56h-4.53zM373.58 621.88h4.53v5.56h-4.53zM381.94 621.88h4.53v5.56h-4.53zM398.68 621.88h4.53v5.56h-4.53zM335.92 627.09h4.53v5.56h-4.53zM377.76 627.09h4.53v5.56h-4.53zM407.05 627.09h4.53v5.56h-4.53zM419.60 627.09h4.53v5.56h-4.53zM340.10 632.30h8.72v5.56h-8.72zM407.05 632.30h4.53v5.56h-4.53zM423.78 632.30h4.53v5.56h-4.53zM319.18 637.51h8.72v5.56h-8.72zM340.10 637.51h4.53v5.56h-4.53zM348.47 637.51h8.72v5.56h-8.72zM365.21 637.51h4.53v5.56h-4.53zM377.76 637.51h4.53v5.56h-4.53zM394.50 637.51h4.53v5.56h-4.53zM344.29 642.72h4.53v5.56h-4.53zM356.84 642.72h4.53v5.56h-4.53zM377.76 642.72h8.72v5.56h-8.72zM394.50 642.72h8.72v5.56h-8.72zM419.60 642.72h4.53v5.56h-4.53zM465.62 642.72h4.53v5.56h-4.53zM335.92 647.93h4.53v5.56h-4.53zM440.52 647.93h4.53v5.56h-4.53zM315.00 653.14h4.53v5.56h-4.53zM327.55 653.14h4.53v5.56h-4.53zM340.10 653.14h4.53v5.56h-4.53zM402.86 653.14h4.53v5.56h-4.53zM419.60 653.14h4.53v5.56h-4.53zM315.00 658.35h4.53v5.56h-4.53zM323.37 658.35h4.53v5.56h-4.53zM331.74 658.35h12.90v5.56h-12.90zM381.94 658.35h12.90v5.56h-12.90zM356.84 663.56h8.72v5.56h-8.72zM369.39 663.56h4.53v5.56h-4.53zM436.34 668.77h4.53v5.56h-4.53zM427.97 673.98h4.53v5.56h-4.53zM436.34 673.98h4.53v5.56h-4.53zM457.26 673.98h4.53v5.56h-4.53zM465.62 673.98h4.53v5.56h-4.53zM373.58 679.19h4.53v5.56h-4.53zM432.15 679.19h4.53v5.56h-4.53zM315.00 684.40h4.53v5.56h-4.53zM356.84 684.40h4.53v5.56h-4.53zM381.94 684.40h8.72v5.56h-8.72zM394.50 684.40h4.53v5.56h-4.53zM402.86 684.40h4.53v5.56h-4.53zM419.60 684.40h4.53v5.56h-4.53zM427.97 684.40h4.53v5.56h-4.53zM440.52 684.40h4.53v5.56h-4.53zM457.26 684.40h4.53v5.56h-4.53zM323.37 689.61h4.53v5.56h-4.53zM344.29 689.61h8.72v5.56h-8.72zM377.76 689.61h4.53v5.56h-4.53zM423.78 689.61h4.53v5.56h-4.53zM440.52 689.61h4.53v5.56h-4.53zM327.55 694.82h12.90v5.56h-12.90zM344.29 694.82h4.53v5.56h-4.53zM469.81 694.82h4.53v5.56h-4.53zM377.76 700.03h4.53v5.56h-4.53zM465.62 700.03h8.72v5.56h-8.72zM352.66 705.24h4.53v5.56h-4.53zM419.60 705.24h12.90v5.56h-12.90z" fill="#e1ebe9"/>
<path d="M319.18 481.21h4.53v5.56h-4.53zM315.00 486.42h8.72v5.56h-8.72zM340.10 486.42h4.53v5.56h-4.53zM457.26 486.42h4.53v5.56h-4.53zM315.00 491.63h4.53v5.56h-4.53zM327.55 491.63h4.53v5.56h-4.53zM340.10 491.63h4.53v5.56h-4.53zM323.37 496.84h4.53v5.56h-4.53zM331.74 496.84h4.53v5.56h-4.53zM415.42 496.84h4.53v5.56h-4.53zM323.37 502.05h4.53v5.56h-4.53zM319.18 512.47h8.72v5.56h-8.72zM411.23 512.47h8.72v5.56h-8.72zM436.34 512.47h4.53v5.56h-4.53zM411.23 533.31h4.53v5.56h-4.53zM444.70 538.52h4.53v5.56h-4.53zM448.89 543.73h4.53v5.56h-4.53zM335.92 548.94h4.53v5.56h-4.53zM448.89 554.15h4.53v5.56h-4.53zM461.44 554.15h12.90v5.56h-12.90zM390.31 564.57h4.53v5.56h-4.53zM402.86 569.78h4.53v5.56h-4.53zM323.37 574.99h4.53v5.56h-4.53zM331.74 574.99h8.72v5.56h-8.72zM319.18 580.20h8.72v5.56h-8.72zM335.92 580.20h4.53v5.56h-4.53zM323.37 585.41h4.53v5.56h-4.53zM340.10 585.41h4.53v5.56h-4.53zM319.18 590.62h12.90v5.56h-12.90zM335.92 590.62h8.72v5.56h-8.72zM319.18 595.83h12.90v5.56h-12.90zM323.37 601.04h4.53v5.56h-4.53zM331.74 611.46h4.53v5.56h-4.53zM348.47 616.67h4.53v5.56h-4.53zM394.50 621.88h4.53v5.56h-4.53zM415.42 621.88h4.53v5.56h-4.53zM352.66 627.09h4.53v5.56h-4.53zM398.68 632.30h4.53v5.56h-4.53zM402.86 637.51h4.53v5.56h-4.53zM427.97 637.51h8.72v5.56h-8.72zM390.31 642.72h4.53v5.56h-4.53zM331.74 647.93h4.53v5.56h-4.53zM369.39 647.93h4.53v5.56h-4.53zM352.66 653.14h4.53v5.56h-4.53zM365.21 653.14h4.53v5.56h-4.53zM352.66 679.19h4.53v5.56h-4.53zM369.39 684.40h4.53v5.56h-4.53zM423.78 684.40h4.53v5.56h-4.53zM352.66 689.61h4.53v5.56h-4.53zM369.39 689.61h4.53v5.56h-4.53zM419.60 694.82h4.53v5.56h-4.53zM448.89 694.82h4.53v5.56h-4.53zM361.02 700.03h4.53v5.56h-4.53zM390.31 700.03h4.53v5.56h-4.53zM448.89 705.24h4.53v5.56h-4.53zM465.62 705.24h8.72v5.56h-8.72z" fill="#cf8444"/>
<path d="M348.47 481.21h8.72v5.56h-8.72zM361.02 481.21h12.90v5.56h-12.90zM348.47 486.42h4.53v5.56h-4.53zM444.70 486.42h4.53v5.56h-4.53zM390.31 496.84h4.53v5.56h-4.53zM465.62 496.84h4.53v5.56h-4.53zM369.39 502.05h12.90v5.56h-12.90zM369.39 507.26h4.53v5.56h-4.53zM348.47 512.47h4.53v5.56h-4.53zM423.78 512.47h4.53v5.56h-4.53zM344.29 517.68h4.53v5.56h-4.53zM352.66 517.68h4.53v5.56h-4.53zM361.02 517.68h8.72v5.56h-8.72zM381.94 517.68h12.90v5.56h-12.90zM348.47 522.89h8.72v5.56h-8.72zM373.58 522.89h4.53v5.56h-4.53zM348.47 528.10h4.53v5.56h-4.53zM356.84 528.10h17.09v5.56h-17.09zM361.02 533.31h8.72v5.56h-8.72zM352.66 538.52h8.72v5.56h-8.72zM377.76 543.73h8.72v5.56h-8.72zM377.76 554.15h4.53v5.56h-4.53zM344.29 559.36h4.53v5.56h-4.53zM356.84 559.36h4.53v5.56h-4.53zM381.94 559.36h4.53v5.56h-4.53zM315.00 564.57h4.53v5.56h-4.53zM377.76 564.57h4.53v5.56h-4.53zM415.42 564.57h4.53v5.56h-4.53zM465.62 564.57h8.72v5.56h-8.72zM415.42 569.78h4.53v5.56h-4.53zM348.47 574.99h4.53v5.56h-4.53zM394.50 574.99h8.72v5.56h-8.72zM415.42 574.99h4.53v5.56h-4.53zM457.26 574.99h4.53v5.56h-4.53zM440.52 601.04h4.53v5.56h-4.53zM461.44 601.04h8.72v5.56h-8.72zM402.86 606.25h4.53v5.56h-4.53zM411.23 606.25h4.53v5.56h-4.53zM402.86 611.46h4.53v5.56h-4.53zM386.13 621.88h4.53v5.56h-4.53zM356.84 627.09h4.53v5.56h-4.53zM398.68 627.09h4.53v5.56h-4.53zM323.37 632.30h8.72v5.56h-8.72zM356.84 637.51h4.53v5.56h-4.53zM444.70 637.51h4.53v5.56h-4.53zM432.15 647.93h4.53v5.56h-4.53zM444.70 647.93h4.53v5.56h-4.53zM457.26 647.93h4.53v5.56h-4.53zM444.70 653.14h4.53v5.56h-4.53zM381.94 679.19h4.53v5.56h-4.53zM398.68 694.82h4.53v5.56h-4.53zM415.42 694.82h4.53v5.56h-4.53zM440.52 694.82h4.53v5.56h-4.53zM415.42 705.24h4.53v5.56h-4.53z" fill="#32927a"/>
<path d="M390.31 481.21h4.53v5.56h-4.53zM369.39 496.84h4.53v5.56h-4.53zM457.26 496.84h4.53v5.56h-4.53zM386.13 502.05h8.72v5.56h-8.72zM377.76 507.26h8.72v5.56h-8.72zM390.31 507.26h4.53v5.56h-4.53zM390.31 512.47h4.53v5.56h-4.53zM348.47 517.68h4.53v5.56h-4.53zM344.29 528.10h4.53v5.56h-4.53zM344.29 543.73h8.72v5.56h-8.72zM377.76 548.94h4.53v5.56h-4.53zM381.94 554.15h4.53v5.56h-4.53zM394.50 554.15h4.53v5.56h-4.53zM415.42 554.15h4.53v5.56h-4.53zM344.29 569.78h4.53v5.56h-4.53zM398.68 569.78h4.53v5.56h-4.53zM344.29 574.99h4.53v5.56h-4.53zM394.50 606.25h4.53v5.56h-4.53zM448.89 611.46h4.53v5.56h-4.53zM432.15 627.09h4.53v5.56h-4.53zM419.60 632.30h4.53v5.56h-4.53zM448.89 632.30h4.53v5.56h-4.53zM415.42 642.72h4.53v5.56h-4.53zM469.81 647.93h4.53v5.56h-4.53zM315.00 663.56h29.64v5.56h-29.64zM315.00 668.77h25.45v5.56h-25.45zM335.92 673.98h8.72v5.56h-8.72zM315.00 679.19h4.53v5.56h-4.53zM331.74 679.19h12.90v5.56h-12.90zM319.18 689.61h4.53v5.56h-4.53zM335.92 689.61h4.53v5.56h-4.53zM340.10 694.82h4.53v5.56h-4.53zM340.10 700.03h4.53v5.56h-4.53zM423.78 700.03h4.53v5.56h-4.53zM344.29 705.24h4.53v5.56h-4.53zM377.76 705.24h4.53v5.56h-4.53z" fill="#0e8a66"/>
<path d="M373.58 507.26h4.53v5.56h-4.53zM361.02 538.52h4.53v5.56h-4.53zM344.29 548.94h4.53v5.56h-4.53zM398.68 554.15h4.53v5.56h-4.53zM348.47 559.36h4.53v5.56h-4.53zM419.60 611.46h4.53v5.56h-4.53zM469.81 627.09h4.53v5.56h-4.53zM453.07 637.51h4.53v5.56h-4.53zM469.81 637.51h4.53v5.56h-4.53zM440.52 642.72h8.72v5.56h-8.72zM453.07 642.72h4.53v5.56h-4.53zM415.42 653.14h4.53v5.56h-4.53zM340.10 668.77h4.53v5.56h-4.53zM331.74 673.98h4.53v5.56h-4.53zM319.18 684.40h4.53v5.56h-4.53zM327.55 684.40h4.53v5.56h-4.53zM319.18 700.03h4.53v5.56h-4.53z" fill="#1f9a5a"/>
<line x1="311.39" y1="478.61" x2="314.8" y2="478.61" stroke="#111" stroke-width="0.7" />
<line x1="311.39" y1="483.81" x2="314.8" y2="483.81" stroke="#111" stroke-width="0.7" />
<line x1="311.39" y1="478.61" x2="311.39" y2="483.81" stroke="#111" stroke-width="0.7" />
<line x1="311.64" y1="489.02" x2="314.8" y2="489.02" stroke="#111" stroke-width="0.7" />
<line x1="311.64" y1="494.24" x2="314.8" y2="494.24" stroke="#111" stroke-width="0.7" />
<line x1="311.64" y1="489.02" x2="311.64" y2="494.24" stroke="#111" stroke-width="0.7" />
<line x1="312.52" y1="499.44" x2="314.8" y2="499.44" stroke="#111" stroke-width="0.7" />
<line x1="312.52" y1="504.65" x2="314.8" y2="504.65" stroke="#111" stroke-width="0.7" />
<line x1="312.52" y1="499.44" x2="312.52" y2="504.65" stroke="#111" stroke-width="0.7" />
<line x1="311.42" y1="509.87" x2="314.8" y2="509.87" stroke="#111" stroke-width="0.7" />
<line x1="311.42" y1="515.08" x2="314.8" y2="515.08" stroke="#111" stroke-width="0.7" />
<line x1="311.42" y1="509.87" x2="311.42" y2="515.08" stroke="#111" stroke-width="0.7" />
<line x1="311.52" y1="520.28" x2="314.8" y2="520.28" stroke="#111" stroke-width="0.7" />
<line x1="311.52" y1="525.5" x2="314.8" y2="525.5" stroke="#111" stroke-width="0.7" />
<line x1="311.52" y1="520.28" x2="311.52" y2="525.5" stroke="#111" stroke-width="0.7" />
<line x1="311.71" y1="530.71" x2="314.8" y2="530.71" stroke="#111" stroke-width="0.7" />
<line x1="311.71" y1="535.91" x2="314.8" y2="535.91" stroke="#111" stroke-width="0.7" />
<line x1="311.71" y1="530.71" x2="311.71" y2="535.91" stroke="#111" stroke-width="0.7" />
<line x1="310.74" y1="541.12" x2="314.8" y2="541.12" stroke="#111" stroke-width="0.7" />
<line x1="310.07" y1="481.21" x2="311.39" y2="481.21" stroke="#111" stroke-width="0.7" />
<line x1="310.07" y1="491.63" x2="311.64" y2="491.63" stroke="#111" stroke-width="0.7" />
<line x1="310.07" y1="481.21" x2="310.07" y2="491.63" stroke="#111" stroke-width="0.7" />
<line x1="309.99" y1="502.05" x2="312.52" y2="502.05" stroke="#111" stroke-width="0.7" />
<line x1="309.99" y1="512.47" x2="311.42" y2="512.47" stroke="#111" stroke-width="0.7" />
<line x1="309.99" y1="502.05" x2="309.99" y2="512.47" stroke="#111" stroke-width="0.7" />
<line x1="309.93" y1="522.89" x2="311.52" y2="522.89" stroke="#111" stroke-width="0.7" />
<line x1="309.93" y1="533.31" x2="311.71" y2="533.31" stroke="#111" stroke-width="0.7" />
<line x1="309.93" y1="522.89" x2="309.93" y2="533.31" stroke="#111" stroke-width="0.7" />
<line x1="309.09" y1="486.42" x2="310.07" y2="486.42" stroke="#111" stroke-width="0.7" />
<line x1="309.09" y1="507.26" x2="309.99" y2="507.26" stroke="#111" stroke-width="0.7" />
<line x1="309.09" y1="486.42" x2="309.09" y2="507.26" stroke="#111" stroke-width="0.7" />
<line x1="308.82" y1="528.1" x2="309.93" y2="528.1" stroke="#111" stroke-width="0.7" />
<line x1="308.82" y1="541.12" x2="310.74" y2="541.12" stroke="#111" stroke-width="0.7" />
<line x1="308.82" y1="528.1" x2="308.82" y2="541.12" stroke="#111" stroke-width="0.7" />
<line x1="305" y1="496.84" x2="309.09" y2="496.84" stroke="#111" stroke-width="0.7" />
<line x1="305" y1="534.61" x2="308.82" y2="534.61" stroke="#111" stroke-width="0.7" />
<line x1="305" y1="496.84" x2="305" y2="534.61" stroke="#111" stroke-width="0.7" />
<line x1="310.52" y1="546.34" x2="314.8" y2="546.34" stroke="#111" stroke-width="0.7" />
<line x1="310.52" y1="551.54" x2="314.8" y2="551.54" stroke="#111" stroke-width="0.7" />
<line x1="310.52" y1="546.34" x2="310.52" y2="551.54" stroke="#111" stroke-width="0.7" />
<line x1="312.24" y1="556.75" x2="314.8" y2="556.75" stroke="#111" stroke-width="0.7" />
<line x1="312.24" y1="561.97" x2="314.8" y2="561.97" stroke="#111" stroke-width="0.7" />
<line x1="312.24" y1="556.75" x2="312.24" y2="561.97" stroke="#111" stroke-width="0.7" />
<line x1="311.96" y1="567.17" x2="314.8" y2="567.17" stroke="#111" stroke-width="0.7" />
<line x1="311.96" y1="572.38" x2="314.8" y2="572.38" stroke="#111" stroke-width="0.7" />
<line x1="311.96" y1="567.17" x2="311.96" y2="572.38" stroke="#111" stroke-width="0.7" />
<line x1="310.4" y1="577.6" x2="314.8" y2="577.6" stroke="#111" stroke-width="0.7" />
<line x1="308.74" y1="548.94" x2="310.52" y2="548.94" stroke="#111" stroke-width="0.7" />
<line x1="308.74" y1="559.36" x2="312.24" y2="559.36" stroke="#111" stroke-width="0.7" />
<line x1="308.74" y1="548.94" x2="308.74" y2="559.36" stroke="#111" stroke-width="0.7" />
<line x1="308.64" y1="569.78" x2="311.96" y2="569.78" stroke="#111" stroke-width="0.7" />
<line x1="308.64" y1="577.6" x2="310.4" y2="577.6" stroke="#111" stroke-width="0.7" />
<line x1="308.64" y1="569.78" x2="308.64" y2="577.6" stroke="#111" stroke-width="0.7" />
<line x1="306.6" y1="554.15" x2="308.74" y2="554.15" stroke="#111" stroke-width="0.7" />
<line x1="306.6" y1="573.69" x2="308.64" y2="573.69" stroke="#111" stroke-width="0.7" />
<line x1="306.6" y1="554.15" x2="306.6" y2="573.69" stroke="#111" stroke-width="0.7" />
<line x1="311.87" y1="582.8" x2="314.8" y2="582.8" stroke="#111" stroke-width="0.7" />
<line x1="311.87" y1="588.01" x2="314.8" y2="588.01" stroke="#111" stroke-width="0.7" />
<line x1="311.87" y1="582.8" x2="311.87" y2="588.01" stroke="#111" stroke-width="0.7" />
<line x1="311.78" y1="593.23" x2="314.8" y2="593.23" stroke="#111" stroke-width="0.7" />
<line x1="311.78" y1="598.43" x2="314.8" y2="598.43" stroke="#111" stroke-width="0.7" />
<line x1="311.78" y1="593.23" x2="311.78" y2="598.43" stroke="#111" stroke-width="0.7" />
<line x1="310.68" y1="603.64" x2="314.8" y2="603.64" stroke="#111" stroke-width="0.7" />
<line x1="310.68" y1="608.86" x2="314.8" y2="608.86" stroke="#111" stroke-width="0.7" />
<line x1="310.68" y1="603.64" x2="310.68" y2="608.86" stroke="#111" stroke-width="0.7" />
<line x1="310.34" y1="614.07" x2="314.8" y2="614.07" stroke="#111" stroke-width="0.7" />
<line x1="310.34" y1="619.27" x2="314.8" y2="619.27" stroke="#111" stroke-width="0.7" />
<line x1="310.34" y1="614.07" x2="310.34" y2="619.27" stroke="#111" stroke-width="0.7" />
<line x1="310.45" y1="585.41" x2="311.87" y2="585.41" stroke="#111" stroke-width="0.7" />
<line x1="310.45" y1="595.83" x2="311.78" y2="595.83" stroke="#111" stroke-width="0.7" />
<line x1="310.45" y1="585.41" x2="310.45" y2="595.83" stroke="#111" stroke-width="0.7" />
<line x1="309.48" y1="606.25" x2="310.68" y2="606.25" stroke="#111" stroke-width="0.7" />
<line x1="309.48" y1="616.67" x2="310.34" y2="616.67" stroke="#111" stroke-width="0.7" />
<line x1="309.48" y1="606.25" x2="309.48" y2="616.67" stroke="#111" stroke-width="0.7" />
<line x1="308" y1="590.62" x2="310.45" y2="590.62" stroke="#111" stroke-width="0.7" />
<line x1="308" y1="611.46" x2="309.48" y2="611.46" stroke="#111" stroke-width="0.7" />
<line x1="308" y1="590.62" x2="308" y2="611.46" stroke="#111" stroke-width="0.7" />
<line x1="310.76" y1="624.49" x2="314.8" y2="624.49" stroke="#111" stroke-width="0.7" />
<line x1="310.76" y1="629.69" x2="314.8" y2="629.69" stroke="#111" stroke-width="0.7" />
<line x1="310.76" y1="624.49" x2="310.76" y2="629.69" stroke="#111" stroke-width="0.7" />
<line x1="310.88" y1="634.9" x2="314.8" y2="634.9" stroke="#111" stroke-width="0.7" />
<line x1="310.88" y1="640.12" x2="314.8" y2="640.12" stroke="#111" stroke-width="0.7" />
<line x1="310.88" y1="634.9" x2="310.88" y2="640.12" stroke="#111" stroke-width="0.7" />
<line x1="310.37" y1="645.33" x2="314.8" y2="645.33" stroke="#111" stroke-width="0.7" />
<line x1="310.37" y1="650.53" x2="314.8" y2="650.53" stroke="#111" stroke-width="0.7" />
<line x1="310.37" y1="645.33" x2="310.37" y2="650.53" stroke="#111" stroke-width="0.7" />
<line x1="311.41" y1="655.75" x2="314.8" y2="655.75" stroke="#111" stroke-width="0.7" />
<line x1="311.41" y1="660.96" x2="314.8" y2="660.96" stroke="#111" stroke-width="0.7" />
<line x1="311.41" y1="655.75" x2="311.41" y2="660.96" stroke="#111" stroke-width="0.7" />
<line x1="309.52" y1="627.09" x2="310.76" y2="627.09" stroke="#111" stroke-width="0.7" />
<line x1="309.52" y1="637.51" x2="310.88" y2="637.51" stroke="#111" stroke-width="0.7" />
<line x1="309.52" y1="627.09" x2="309.52" y2="637.51" stroke="#111" stroke-width="0.7" />
<line x1="308.73" y1="647.93" x2="310.37" y2="647.93" stroke="#111" stroke-width="0.7" />
<line x1="308.73" y1="658.35" x2="311.41" y2="658.35" stroke="#111" stroke-width="0.7" />
<line x1="308.73" y1="647.93" x2="308.73" y2="658.35" stroke="#111" stroke-width="0.7" />
<line x1="307.3" y1="632.3" x2="309.52" y2="632.3" stroke="#111" stroke-width="0.7" />
<line x1="307.3" y1="653.14" x2="308.73" y2="653.14" stroke="#111" stroke-width="0.7" />
<line x1="307.3" y1="632.3" x2="307.3" y2="653.14" stroke="#111" stroke-width="0.7" />
<line x1="311.55" y1="666.16" x2="314.8" y2="666.16" stroke="#111" stroke-width="0.7" />
<line x1="311.55" y1="671.38" x2="314.8" y2="671.38" stroke="#111" stroke-width="0.7" />
<line x1="311.55" y1="666.16" x2="311.55" y2="671.38" stroke="#111" stroke-width="0.7" />
<line x1="311.84" y1="676.59" x2="314.8" y2="676.59" stroke="#111" stroke-width="0.7" />
<line x1="311.84" y1="681.79" x2="314.8" y2="681.79" stroke="#111" stroke-width="0.7" />
<line x1="311.84" y1="676.59" x2="311.84" y2="681.79" stroke="#111" stroke-width="0.7" />
<line x1="311.5" y1="687" x2="314.8" y2="687" stroke="#111" stroke-width="0.7" />
<line x1="311.5" y1="692.22" x2="314.8" y2="692.22" stroke="#111" stroke-width="0.7" />
<line x1="311.5" y1="687" x2="311.5" y2="692.22" stroke="#111" stroke-width="0.7" />
<line x1="311.89" y1="697.42" x2="314.8" y2="697.42" stroke="#111" stroke-width="0.7" />
<line x1="311.89" y1="702.63" x2="314.8" y2="702.63" stroke="#111" stroke-width="0.7" />
<line x1="311.89" y1="697.42" x2="311.89" y2="702.63" stroke="#111" stroke-width="0.7" />
<line x1="311.4" y1="707.85" x2="314.8" y2="707.85" stroke="#111" stroke-width="0.7" />
<line x1="310.47" y1="668.77" x2="311.55" y2="668.77" stroke="#111" stroke-width="0.7" />
<line x1="310.47" y1="679.19" x2="311.84" y2="679.19" stroke="#111" stroke-width="0.7" />
<line x1="310.47" y1="668.77" x2="310.47" y2="679.19" stroke="#111" stroke-width="0.7" />
<line x1="309.7" y1="689.61" x2="311.5" y2="689.61" stroke="#111" stroke-width="0.7" />
<line x1="309.7" y1="700.03" x2="311.89" y2="700.03" stroke="#111" stroke-width="0.7" />
<line x1="309.7" y1="689.61" x2="309.7" y2="700.03" stroke="#111" stroke-width="0.7" />
<line x1="307.91" y1="673.98" x2="310.47" y2="673.98" stroke="#111" stroke-width="0.7" />
<line x1="307.91" y1="694.82" x2="309.7" y2="694.82" stroke="#111" stroke-width="0.7" />
<line x1="307.91" y1="673.98" x2="307.91" y2="694.82" stroke="#111" stroke-width="0.7" />
<line x1="306.8" y1="684.4" x2="307.91" y2="684.4" stroke="#111" stroke-width="0.7" />
<line x1="306.8" y1="707.85" x2="311.4" y2="707.85" stroke="#111" stroke-width="0.7" />
<line x1="306.8" y1="684.4" x2="306.8" y2="707.85" stroke="#111" stroke-width="0.7" />
<line x1="292.1" y1="516.8" x2="305" y2="516.8" stroke="#111" stroke-width="0.75" />
<line x1="292.1" y1="565.2" x2="306.6" y2="565.2" stroke="#111" stroke-width="0.75" />
<line x1="292.1" y1="516.8" x2="292.1" y2="565.2" stroke="#111" stroke-width="0.75" />
<line x1="297.8" y1="611.46" x2="308" y2="611.46" stroke="#111" stroke-width="0.75" />
<line x1="297.8" y1="647.3" x2="307.3" y2="647.3" stroke="#111" stroke-width="0.75" />
<line x1="297.8" y1="611.46" x2="297.8" y2="647.3" stroke="#111" stroke-width="0.75" />
<line x1="277.9" y1="541" x2="292.1" y2="541" stroke="#111" stroke-width="0.75" />
<line x1="277.9" y1="630.1" x2="297.8" y2="630.1" stroke="#111" stroke-width="0.75" />
<line x1="277.9" y1="541" x2="277.9" y2="630.1" stroke="#111" stroke-width="0.75" />
<line x1="271.6" y1="585.8" x2="277.9" y2="585.8" stroke="#111" stroke-width="0.75" />
<line x1="271.6" y1="688.3" x2="306.8" y2="688.3" stroke="#111" stroke-width="0.75" />
<line x1="271.6" y1="585.8" x2="271.6" y2="688.3" stroke="#111" stroke-width="0.75" />
<text x="476.8" y="480.71" font-size="4.6" text-anchor="start" fill="#222" >ELF1</text>
<text x="476.8" y="485.92" font-size="4.6" text-anchor="start" fill="#222" >TCF12</text>
<text x="476.8" y="491.12" font-size="4.6" text-anchor="start" fill="#222" >STAT5B</text>
<text x="476.8" y="496.34" font-size="4.6" text-anchor="start" fill="#222" >EBF1</text>
<text x="476.8" y="501.55" font-size="4.6" text-anchor="start" fill="#222" >TP53</text>
<text x="476.8" y="506.75" font-size="4.6" text-anchor="start" fill="#222" >GCSAM</text>
<text x="476.8" y="511.97" font-size="4.6" text-anchor="start" fill="#222" >IKZF2</text>
<text x="476.8" y="517.18" font-size="4.6" text-anchor="start" fill="#222" >POU2F1</text>
<text x="476.8" y="522.38" font-size="4.6" text-anchor="start" fill="#222" >RAG2</text>
<text x="476.8" y="527.6" font-size="4.6" text-anchor="start" fill="#222" >RAG1</text>
<text x="476.8" y="532.81" font-size="4.6" text-anchor="start" fill="#222" >ERG</text>
<text x="476.8" y="538.01" font-size="4.6" text-anchor="start" fill="#222" >ELK3</text>
<text x="476.8" y="543.23" font-size="4.6" text-anchor="start" fill="#222" >RUNX2</text>
<text x="476.8" y="548.44" font-size="4.6" text-anchor="start" fill="#222" >TCF3</text>
<text x="476.8" y="553.64" font-size="4.6" text-anchor="start" fill="#222" >SOX4</text>
<text x="476.8" y="558.86" font-size="4.6" text-anchor="start" fill="#222" >POU4F1</text>
<text x="476.8" y="564.07" font-size="4.6" text-anchor="start" fill="#222" >RUNX1</text>
<text x="476.8" y="569.27" font-size="4.6" text-anchor="start" fill="#222" >ZBTB16</text>
<text x="476.8" y="574.49" font-size="4.6" text-anchor="start" fill="#222" >KLF9</text>
<text x="476.8" y="579.7" font-size="4.6" text-anchor="start" fill="#222" >FOXO1</text>
<text x="476.8" y="584.9" font-size="4.6" text-anchor="start" fill="#222" >PAX5</text>
<text x="476.8" y="590.12" font-size="4.6" text-anchor="start" fill="#222" >FOXP1</text>
<text x="476.8" y="595.33" font-size="4.6" text-anchor="start" fill="#222" >ETS1</text>
<text x="476.8" y="600.53" font-size="4.6" text-anchor="start" fill="#222" >REL</text>
<text x="476.8" y="605.75" font-size="4.6" text-anchor="start" fill="#222" >IRF8</text>
<text x="476.8" y="610.96" font-size="4.6" text-anchor="start" fill="#222" >SPIB</text>
<text x="476.8" y="616.17" font-size="4.6" text-anchor="start" fill="#222" >BCL6</text>
<text x="476.8" y="621.38" font-size="4.6" text-anchor="start" fill="#222" >IKZF1</text>
<text x="476.8" y="626.59" font-size="4.6" text-anchor="start" fill="#222" >KLF12</text>
<text x="476.8" y="631.79" font-size="4.6" text-anchor="start" fill="#222" >RELA</text>
<text x="476.8" y="637" font-size="4.6" text-anchor="start" fill="#222" >STAT3</text>
<text x="476.8" y="642.22" font-size="4.6" text-anchor="start" fill="#222" >STAT5A</text>
<text x="476.8" y="647.43" font-size="4.6" text-anchor="start" fill="#222" >BATF</text>
<text x="476.8" y="652.63" font-size="4.6" text-anchor="start" fill="#222" >POU2F2</text>
<text x="476.8" y="657.85" font-size="4.6" text-anchor="start" fill="#222" >KLF2</text>
<text x="476.8" y="663.06" font-size="4.6" text-anchor="start" fill="#222" >IKZF3</text>
<text x="476.8" y="668.26" font-size="4.6" text-anchor="start" fill="#222" >XBP1</text>
<text x="476.8" y="673.48" font-size="4.6" text-anchor="start" fill="#222" >PRDM1</text>
<text x="476.8" y="678.69" font-size="4.6" text-anchor="start" fill="#222" >JUN</text>
<text x="476.8" y="683.89" font-size="4.6" text-anchor="start" fill="#222" >IRF4</text>
<text x="476.8" y="689.11" font-size="4.6" text-anchor="start" fill="#222" >CDKN1A</text>
<text x="476.8" y="694.32" font-size="4.6" text-anchor="start" fill="#222" >POU2AF1</text>
<text x="476.8" y="699.52" font-size="4.6" text-anchor="start" fill="#222" >SOX5</text>
<text x="476.8" y="704.74" font-size="4.6" text-anchor="start" fill="#222" >KLF4</text>
<text x="476.8" y="709.95" font-size="4.6" text-anchor="start" fill="#222" >MITF</text>
<text transform="translate(509.2 592.6) rotate(-90)" text-rendering="geometricPrecision" font-size="7" text-anchor="middle" fill="#222" font-weight="bold" textLength="59.4" lengthAdjust="spacingAndGlyphs">Transcription factors (TF)</text>
<text transform="translate(319.04 714.2) rotate(-90)" text-rendering="geometricPrecision" font-size="5.4" text-anchor="end" fill="#2a2a2a" textLength="37.09" lengthAdjust="spacingAndGlyphs">Plasmacell B096</text>
<text transform="translate(323.22 714.2) rotate(-90)" text-rendering="geometricPrecision" font-size="5.4" text-anchor="end" fill="#2a2a2a" textLength="37.09" lengthAdjust="spacingAndGlyphs">Plasmacell B095</text>
<text transform="translate(327.4 714.2) rotate(-90)" text-rendering="geometricPrecision" font-size="5.4" text-anchor="end" fill="#2a2a2a" textLength="39.86" lengthAdjust="spacingAndGlyphs">Plasmacell B1014</text>
<text transform="translate(331.59 714.2) rotate(-90)" text-rendering="geometricPrecision" font-size="5.4" text-anchor="end" fill="#2a2a2a" textLength="37.09" lengthAdjust="spacingAndGlyphs">Plasmacell B094</text>
<text transform="translate(335.77 714.2) rotate(-90)" text-rendering="geometricPrecision" font-size="5.4" text-anchor="end" fill="#2a2a2a" textLength="37.09" lengthAdjust="spacingAndGlyphs">Plasmacell B084</text>
<text transform="translate(339.96 714.2) rotate(-90)" text-rendering="geometricPrecision" font-size="5.4" text-anchor="end" fill="#2a2a2a" textLength="39.86" lengthAdjust="spacingAndGlyphs">Plasmacell B1064</text>
<text transform="translate(344.14 714.2) rotate(-90)" text-rendering="geometricPrecision" font-size="5.4" text-anchor="end" fill="#2a2a2a" textLength="37.09" lengthAdjust="spacingAndGlyphs">Plasmacell B054</text>
<text transform="translate(348.32 714.2) rotate(-90)" text-rendering="geometricPrecision" font-size="5.4" text-anchor="end" fill="#2a2a2a" textLength="28.38" lengthAdjust="spacingAndGlyphs">Pre−BI B096</text>
<text transform="translate(352.51 714.2) rotate(-90)" text-rendering="geometricPrecision" font-size="5.4" text-anchor="end" fill="#2a2a2a" textLength="28.38" lengthAdjust="spacingAndGlyphs">Pre−BI B095</text>
<text transform="translate(356.69 714.2) rotate(-90)" text-rendering="geometricPrecision" font-size="5.4" text-anchor="end" fill="#2a2a2a" textLength="31.15" lengthAdjust="spacingAndGlyphs">Pre−BI B1014</text>
<text transform="translate(360.88 714.2) rotate(-90)" text-rendering="geometricPrecision" font-size="5.4" text-anchor="end" fill="#2a2a2a" textLength="28.38" lengthAdjust="spacingAndGlyphs">Pre−BI B094</text>
<text transform="translate(365.06 714.2) rotate(-90)" text-rendering="geometricPrecision" font-size="5.4" text-anchor="end" fill="#2a2a2a" textLength="28.38" lengthAdjust="spacingAndGlyphs">Pre−BI B084</text>
<text transform="translate(369.24 714.2) rotate(-90)" text-rendering="geometricPrecision" font-size="5.4" text-anchor="end" fill="#2a2a2a" textLength="31.15" lengthAdjust="spacingAndGlyphs">Pre−BI B1064</text>
<text transform="translate(373.43 714.2) rotate(-90)" text-rendering="geometricPrecision" font-size="5.4" text-anchor="end" fill="#2a2a2a" textLength="29.76" lengthAdjust="spacingAndGlyphs">Pre−BII B096</text>
<text transform="translate(377.61 714.2) rotate(-90)" text-rendering="geometricPrecision" font-size="5.4" text-anchor="end" fill="#2a2a2a" textLength="29.76" lengthAdjust="spacingAndGlyphs">Pre−BII B095</text>
<text transform="translate(381.8 714.2) rotate(-90)" text-rendering="geometricPrecision" font-size="5.4" text-anchor="end" fill="#2a2a2a" textLength="32.53" lengthAdjust="spacingAndGlyphs">Pre−BII B1014</text>
<text transform="translate(385.98 714.2) rotate(-90)" text-rendering="geometricPrecision" font-size="5.4" text-anchor="end" fill="#2a2a2a" textLength="29.76" lengthAdjust="spacingAndGlyphs">Pre−BII B094</text>
<text transform="translate(390.16 714.2) rotate(-90)" text-rendering="geometricPrecision" font-size="5.4" text-anchor="end" fill="#2a2a2a" textLength="29.76" lengthAdjust="spacingAndGlyphs">Pre−BII B084</text>
<text transform="translate(394.35 714.2) rotate(-90)" text-rendering="geometricPrecision" font-size="5.4" text-anchor="end" fill="#2a2a2a" textLength="32.53" lengthAdjust="spacingAndGlyphs">Pre−BII B1064</text>
<text transform="translate(398.53 714.2) rotate(-90)" text-rendering="geometricPrecision" font-size="5.4" text-anchor="end" fill="#2a2a2a" textLength="34.04" lengthAdjust="spacingAndGlyphs">Immature B096</text>
<text transform="translate(402.72 714.2) rotate(-90)" text-rendering="geometricPrecision" font-size="5.4" text-anchor="end" fill="#2a2a2a" textLength="34.04" lengthAdjust="spacingAndGlyphs">Immature B095</text>
<text transform="translate(406.9 714.2) rotate(-90)" text-rendering="geometricPrecision" font-size="5.4" text-anchor="end" fill="#2a2a2a" textLength="36.81" lengthAdjust="spacingAndGlyphs">Immature B1014</text>
<text transform="translate(411.08 714.2) rotate(-90)" text-rendering="geometricPrecision" font-size="5.4" text-anchor="end" fill="#2a2a2a" textLength="34.04" lengthAdjust="spacingAndGlyphs">Immature B094</text>
<text transform="translate(415.27 714.2) rotate(-90)" text-rendering="geometricPrecision" font-size="5.4" text-anchor="end" fill="#2a2a2a" textLength="34.04" lengthAdjust="spacingAndGlyphs">Immature B084</text>
<text transform="translate(419.45 714.2) rotate(-90)" text-rendering="geometricPrecision" font-size="5.4" text-anchor="end" fill="#2a2a2a" textLength="31" lengthAdjust="spacingAndGlyphs">Memory B096</text>
<text transform="translate(423.64 714.2) rotate(-90)" text-rendering="geometricPrecision" font-size="5.4" text-anchor="end" fill="#2a2a2a" textLength="25.75" lengthAdjust="spacingAndGlyphs">Naive B096</text>
<text transform="translate(427.82 714.2) rotate(-90)" text-rendering="geometricPrecision" font-size="5.4" text-anchor="end" fill="#2a2a2a" textLength="31" lengthAdjust="spacingAndGlyphs">Memory B095</text>
<text transform="translate(432 714.2) rotate(-90)" text-rendering="geometricPrecision" font-size="5.4" text-anchor="end" fill="#2a2a2a" textLength="25.75" lengthAdjust="spacingAndGlyphs">Naive B095</text>
<text transform="translate(436.19 714.2) rotate(-90)" text-rendering="geometricPrecision" font-size="5.4" text-anchor="end" fill="#2a2a2a" textLength="28.51" lengthAdjust="spacingAndGlyphs">Naive B1014</text>
<text transform="translate(440.37 714.2) rotate(-90)" text-rendering="geometricPrecision" font-size="5.4" text-anchor="end" fill="#2a2a2a" textLength="33.77" lengthAdjust="spacingAndGlyphs">Memory B1014</text>
<text transform="translate(444.56 714.2) rotate(-90)" text-rendering="geometricPrecision" font-size="5.4" text-anchor="end" fill="#2a2a2a" textLength="31" lengthAdjust="spacingAndGlyphs">Memory B094</text>
<text transform="translate(448.74 714.2) rotate(-90)" text-rendering="geometricPrecision" font-size="5.4" text-anchor="end" fill="#2a2a2a" textLength="31" lengthAdjust="spacingAndGlyphs">Memory B084</text>
<text transform="translate(452.92 714.2) rotate(-90)" text-rendering="geometricPrecision" font-size="5.4" text-anchor="end" fill="#2a2a2a" textLength="33.77" lengthAdjust="spacingAndGlyphs">Memory B1064</text>
<text transform="translate(457.11 714.2) rotate(-90)" text-rendering="geometricPrecision" font-size="5.4" text-anchor="end" fill="#2a2a2a" textLength="31" lengthAdjust="spacingAndGlyphs">Memory B054</text>
<text transform="translate(461.29 714.2) rotate(-90)" text-rendering="geometricPrecision" font-size="5.4" text-anchor="end" fill="#2a2a2a" textLength="25.75" lengthAdjust="spacingAndGlyphs">Naive B094</text>
<text transform="translate(465.48 714.2) rotate(-90)" text-rendering="geometricPrecision" font-size="5.4" text-anchor="end" fill="#2a2a2a" textLength="25.75" lengthAdjust="spacingAndGlyphs">Naive B084</text>
<text transform="translate(469.66 714.2) rotate(-90)" text-rendering="geometricPrecision" font-size="5.4" text-anchor="end" fill="#2a2a2a" textLength="28.51" lengthAdjust="spacingAndGlyphs">Naive B1064</text>
<text transform="translate(473.84 714.2) rotate(-90)" text-rendering="geometricPrecision" font-size="5.4" text-anchor="end" fill="#2a2a2a" textLength="25.75" lengthAdjust="spacingAndGlyphs">Naive B054</text>
<text x="384.8" y="765.3" font-size="7.3" text-anchor="start" fill="#111" textLength="19.7" lengthAdjust="spacingAndGlyphs" stroke="#111" stroke-width="0.2">Samples</text>
<rect x="0.65" y="0.65" width="518.7" height="773.7" fill="none" stroke="#000" stroke-width="1.3"/>
</svg></body></html>
